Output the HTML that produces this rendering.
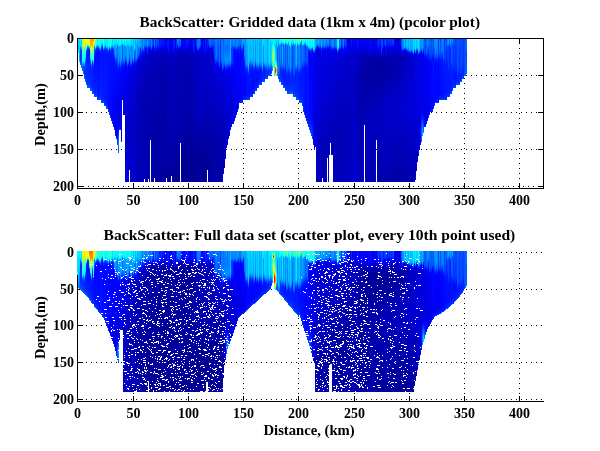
<!DOCTYPE html><html><head><meta charset="utf-8"><title>BackScatter</title><style>html,body{margin:0;padding:0;background:#fff}#c{position:relative;width:600px;height:451px;overflow:hidden;background:#fff}#c svg{position:absolute;left:0;top:0;display:block}.p{position:absolute;display:flex;align-items:flex-start}.p i{display:block;flex:none;width:1px}text{font-family:"Liberation Serif","DejaVu Serif",serif;font-weight:bold;fill:#000}</style></head><body><div id="c">
<svg width="600" height="451" viewBox="0 0 600 451"><g stroke="#000" stroke-width="1" stroke-dasharray="1 4" shape-rendering="crispEdges"><line x1="81" y1="75.5" x2="543" y2="75.5"/><line x1="81" y1="112.5" x2="543" y2="112.5"/><line x1="81" y1="149.5" x2="543" y2="149.5"/><line x1="78" y1="186.5" x2="543" y2="186.5"/><line x1="133.5" y1="43" x2="133.5" y2="188"/><line x1="188.5" y1="43" x2="188.5" y2="188"/><line x1="243.5" y1="43" x2="243.5" y2="188"/><line x1="298.5" y1="43" x2="298.5" y2="188"/><line x1="354.5" y1="43" x2="354.5" y2="188"/><line x1="409.5" y1="43" x2="409.5" y2="188"/><line x1="464.5" y1="43" x2="464.5" y2="188"/><line x1="519.5" y1="43" x2="519.5" y2="188"/><line x1="81" y1="252.5" x2="543" y2="252.5"/><line x1="81" y1="289.5" x2="543" y2="289.5"/><line x1="81" y1="325.5" x2="543" y2="325.5"/><line x1="81" y1="362.5" x2="543" y2="362.5"/><line x1="81" y1="399.5" x2="543" y2="399.5"/><line x1="133.5" y1="253" x2="133.5" y2="401"/><line x1="188.5" y1="253" x2="188.5" y2="401"/><line x1="243.5" y1="253" x2="243.5" y2="401"/><line x1="298.5" y1="253" x2="298.5" y2="401"/><line x1="354.5" y1="253" x2="354.5" y2="401"/><line x1="409.5" y1="253" x2="409.5" y2="401"/><line x1="464.5" y1="253" x2="464.5" y2="401"/><line x1="519.5" y1="253" x2="519.5" y2="401"/></g><g stroke="#000" stroke-width="1" shape-rendering="crispEdges"><path d="M77.5 38.5H543.5V188.5H77.5Z" fill="none"/><path d="M78 75.5h5M543 75.5h-5"/><path d="M78 112.5h5M543 112.5h-5"/><path d="M78 149.5h5M543 149.5h-5"/><path d="M78 186.5h5M543 186.5h-5"/><path d="M133.5 188v-5M133.5 39v4"/><path d="M188.5 188v-5M188.5 39v4"/><path d="M243.5 188v-5M243.5 39v4"/><path d="M298.5 188v-5M298.5 39v4"/><path d="M354.5 188v-5M354.5 39v4"/><path d="M409.5 188v-5M409.5 39v4"/><path d="M464.5 188v-5M464.5 39v4"/><path d="M519.5 188v-5M519.5 39v4"/><path d="M77.5 252V401.5H544" fill="none"/><path d="M78 289.5h5"/><path d="M78 325.5h5"/><path d="M78 362.5h5"/><path d="M78 399.5h5"/><path d="M133.5 401v-5"/><path d="M188.5 401v-5"/><path d="M243.5 401v-5"/><path d="M298.5 401v-5"/><path d="M354.5 401v-5"/><path d="M409.5 401v-5"/><path d="M464.5 401v-5"/><path d="M519.5 401v-5"/></g></svg>
<div class="p" style="left:78px;top:39px"><i style="height:14px;background:linear-gradient(#0df 0.5px,#00d8ff 6.5px,#00d7ff 10.5px,#00f5ff 13.5px)"></i><i style="height:23px;background:linear-gradient(#00dbff 0.5px,#00a7ff 18.5px,#00bdff 22.5px)"></i><i style="height:26px;background:linear-gradient(#00f3ff 0.5px,#00e5ff 5.5px,#00d2ff 6.5px,#0051ff 9.5px,#0030ff 11.5px,#0036ff 20.5px,#0057ff 24.5px,#0068ff 25.5px)"></i><i style="height:29px;background:linear-gradient(#00d5ff 0.5px,#00cbff 7.5px,#00a2ff 9.5px,#0057ff 11.5px,#0038ff 13.5px,#0041ff 23.5px,#0061ff 27.5px,#0073ff 28.5px)"></i><i style="height:32px;background:linear-gradient(#e6ff19 0.5px,#c7ff38 2.5px,#c1ff3e 6.5px,#b7ff48 7.5px,#9eff61 8.5px,#35ffca 10.5px,#29ffd6 12.5px,#1cffe3 20.5px,#0ff 22.5px,#007fff 26.5px,#005dff 28.5px,#0061ff 30.5px,#006fff 31.5px)"></i><i style="height:35px;background:linear-gradient(#e6ff19 0.5px,#d0ff2f 5.5px,#bf4 6.5px,#8bff74 7.5px,#08fff7 17.5px,#00fbff 20.5px,#00dfff 22.5px,#0054ff 27.5px,#0043ff 30.5px,#005aff 33.5px,#006bff 34.5px)"></i><i style="height:40px;background:linear-gradient(#fffc00 0.5px,#f7ff08 5.5px,#e5ff1a 6.5px,#bcff43 7.5px,#7eff81 8.5px,#14ffeb 16.5px,#04fffb 21.5px,#00e0ff 23.5px,#005bff 27.5px,#0031ff 30.5px,#0037ff 35.5px,#0063ff 39.5px)"></i><i style="height:43px;background:linear-gradient(#e5ff1a 0.5px,#c0ff3f 4.5px,#7dff82 6.5px,#20ffdf 11.5px,#06fff9 12.5px,#00f8ff 16.5px,#00daff 18.5px,#005dff 22.5px,#0030ff 25.5px,#002dff 34.5px,#004aff 40.5px,#0067ff 42.5px)"></i><i style="height:46px;background:linear-gradient(#e9ff16 0.5px,#e4ff1b 5.5px,#c5ff3a 7.5px,#92ff6d 8.5px,#36ffc9 9.5px,#00c4ff 10.5px,#006bff 11.5px,#003cff 12.5px,#001fff 14.5px,#002fff 39.5px,#0053ff 44.5px,#0064ff 45.5px)"></i><i style="height:49px;background:linear-gradient(#f6ff09 0.5px,#e6ff19 3.5px,#cbff34 4.5px,#8fff70 5.5px,#29ffd6 6.5px,#00b3ff 7.5px,#005eff 8.5px,#03f 9.5px,#001aff 11.5px,#002dff 42.5px,#04f 46.5px,#0061ff 48.5px)"></i><i style="height:49px;background:linear-gradient(#ebff14 0.5px,#dfff20 3.5px,#c9ff36 4.5px,#98ff67 5.5px,#3effc1 6.5px,#00c8ff 7.5px,#006aff 8.5px,#0036ff 9.5px,#0017ff 11.5px,#0029ff 42.5px,#004dff 47.5px,#005eff 48.5px)"></i><i style="height:49px;background:linear-gradient(#fe0 0.5px,#fffc00 4.5px,#ebff14 5.5px,#b7ff48 6.5px,#56ffa9 7.5px,#00d9ff 8.5px,#0074ff 9.5px,#003cff 10.5px,#001aff 12.5px,#002bff 42.5px,#004fff 47.5px,#0060ff 48.5px)"></i><i style="height:52px;background:linear-gradient(#ff9e00 0.5px,#ffac00 2.5px,#ffb600 7.5px,#ffc700 8.5px,#fe0 9.5px,#bf4 10.5px,#6aff95 11.5px,#21ffde 14.5px,#07fff8 17.5px,#00f0ff 18.5px,#005bff 22.5px,#002fff 24.5px,#001bff 29.5px,#002cff 46.5px,#004cff 50.5px,#005dff 51.5px)"></i><i style="height:52px;background:linear-gradient(#ff9e00 0.5px,#ffb200 2.5px,#ffba00 5.5px,#ffc800 6.5px,#ffec00 7.5px,#dcff23 8.5px,#4affb5 17.5px,#3bffc4 20.5px,#17ffe8 22.5px,#00f4ff 23.5px,#006cff 26.5px,#0035ff 28.5px,#001bff 32.5px,#0028ff 46.5px,#0048ff 50.5px,#0059ff 51.5px)"></i><i style="height:55px;background:linear-gradient(#ff9e00 0.5px,#ffa600 6.5px,#ffb300 7.5px,#ffd400 8.5px,#e2ff1d 9.5px,#baff45 10.5px,#2fffd0 18.5px,#15ffea 19.5px,#00ebff 20.5px,#00a9ff 21.5px,#004bff 22.5px,#001eff 23.5px,#0030ff 49.5px,#004fff 53.5px,#005fff 54.5px)"></i><i style="height:55px;background:linear-gradient(#ff9e00 0.5px,#fff700 4.5px,#81ff7e 10.5px,#51ffae 12.5px,#3fffc0 18.5px,#24ffdb 20.5px,#08fff7 21.5px,#00e1ff 22.5px,#0058ff 25.5px,#0027ff 27.5px,#0012ff 31.5px,#0020ff 49.5px,#003eff 53.5px,#004eff 54.5px)"></i><i style="height:58px;background:linear-gradient(#c3ff3c 0.5px,#b7ff48 3.5px,#a3ff5c 4.5px,#75ff8a 5.5px,#1fffe0 6.5px,#00b1ff 7.5px,#0070ff 8.5px,#005dff 13.5px,#001bff 18.5px,#000dff 24.5px,#0020ff 52.5px,#003dff 56.5px,#004eff 57.5px)"></i><i style="height:58px;background:linear-gradient(#b1ff4e 0.5px,#80ff7f 2.5px,#68ff97 6.5px,#4cffb3 7.5px,#1fe 8.5px,#00b8ff 9.5px,#0063ff 10.5px,#002eff 11.5px,#0015ff 12.5px,#0007ff 16.5px,#001dff 52.5px,#003aff 56.5px,#004aff 57.5px)"></i><i style="height:58px;background:linear-gradient(#3dffc2 0.5px,#32ffcd 4.5px,#00f7ff 6.5px,#006bff 8.5px,#0036ff 9.5px,#001cff 10.5px,#000cff 14.5px,#02f 52.5px,#0040ff 56.5px,#0050ff 57.5px)"></i><i style="height:61px;background:linear-gradient(#2fd 0.5px,#19ffe6 3.5px,#0bfff4 4.5px,#00e9ff 5.5px,#0035ff 8.5px,#0019ff 9.5px,#0008ff 12.5px,#001dff 55.5px,#0039ff 59.5px,#0049ff 60.5px)"></i><i style="height:61px;background:linear-gradient(#1cffe3 0.5px,#14ffeb 4.5px,#06fff9 5.5px,#00e7ff 6.5px,#0032ff 9.5px,#0016ff 10.5px,#0002ff 15.5px,#0015ff 55.5px,#0031ff 59.5px,#0041ff 60.5px)"></i><i style="height:61px;background:linear-gradient(#0efff1 0.5px,#08fff7 5.5px,#00fdff 6.5px,#00e6ff 7.5px,#00b9ff 8.5px,#0041ff 10.5px,#0020ff 11.5px,#000cff 13.5px,#001bff 55.5px,#0038ff 59.5px,#0048ff 60.5px)"></i><i style="height:61px;background:linear-gradient(#06fff9 0.5px,#00faff 7.5px,#00eaff 8.5px,#00c8ff 9.5px,#0056ff 11.5px,#002fff 12.5px,#0014ff 14.5px,#0021ff 55.5px,#003eff 59.5px,#004eff 60.5px)"></i><i style="height:64px;background:linear-gradient(#05fffa 0.5px,#00fcff 3.5px,#00efff 4.5px,#00d1ff 5.5px,#0038ff 8.5px,#0019ff 10.5px,#0024ff 58.5px,#0040ff 62.5px,#0050ff 63.5px)"></i><i style="height:64px;background:linear-gradient(#00fcff 0.5px,#00e8ff 3.5px,#00cbff 4.5px,#005cff 6.5px,#0030ff 7.5px,#000fff 9.5px,#0019ff 58.5px,#0036ff 62.5px,#0045ff 63.5px)"></i><i style="height:64px;background:linear-gradient(#3fffc0 0.5px,#32ffcd 6.5px,#00f3ff 8.5px,#0067ff 10.5px,#0037ff 11.5px,#001fff 12.5px,#01f 16.5px,#001dff 58.5px,#0039ff 62.5px,#0049ff 63.5px)"></i><i style="height:67px;background:linear-gradient(#00f3ff 0.5px,#00ebff 5.5px,#00dfff 6.5px,#00c4ff 7.5px,#0035ff 10.5px,#0017ff 12.5px,#001cff 61.5px,#0037ff 65.5px,#0047ff 66.5px)"></i><i style="height:67px;background:linear-gradient(#00ecff 0.5px,#00e4ff 4.5px,#00d8ff 5.5px,#00bdff 6.5px,#0030ff 9.5px,#0014ff 11.5px,#0018ff 61.5px,#03f 65.5px,#0043ff 66.5px)"></i><i style="height:70px;background:linear-gradient(#00f4ff 0.5px,#00edff 5.5px,#00e3ff 6.5px,#00caff 7.5px,#003bff 10.5px,#0024ff 11.5px,#0016ff 19.5px,#0018ff 64.5px,#0034ff 68.5px,#04f 69.5px)"></i><i style="height:70px;background:linear-gradient(#00f6ff 0.5px,#00e9ff 6.5px,#00d7ff 7.5px,#00b1ff 8.5px,#0047ff 10.5px,#0028ff 11.5px,#0014ff 13.5px,#0014ff 64.5px,#002fff 68.5px,#003fff 69.5px)"></i><i style="height:73px;background:linear-gradient(#05fffa 0.5px,#00fbff 7.5px,#0ef 8.5px,#00cfff 9.5px,#0060ff 11.5px,#0035ff 12.5px,#0016ff 14.5px,#0010ff 67.5px,#002bff 71.5px,#003bff 72.5px)"></i><i style="height:76px;background:linear-gradient(#2fd 0.5px,#13ffec 5.5px,#00fbff 6.5px,#00cdff 7.5px,#004cff 9.5px,#0026ff 10.5px,#000eff 12.5px,#0002ff 64.5px,#000fff 72.5px,#0031ff 75.5px)"></i><i style="height:79px;background:linear-gradient(#28ffd7 0.5px,#20ffdf 6.5px,#00f5ff 8.5px,#00c0ff 9.5px,#0046ff 11.5px,#0028ff 12.5px,#0015ff 15.5px,#000aff 61.5px,#000eff 74.5px,#0036ff 78.5px)"></i><i style="height:82px;background:linear-gradient(#0afff5 0.5px,#02fffd 4.5px,#00f5ff 5.5px,#00d9ff 6.5px,#0037ff 9.5px,#001dff 11.5px,#000eff 19.5px,#0003ff 77.5px,#002bff 81.5px)"></i><i style="height:85px;background:linear-gradient(#00d1ff 0.5px,#00cbff 4.5px,#0af 6.5px,#002fff 9.5px,#0015ff 11.5px,#0003ff 64.5px,#0005ff 80.5px,#002dff 84.5px)"></i><i style="height:88px;background:linear-gradient(#0dfff2 0.5px,#00f8ff 6.5px,#0df 7.5px,#0038ff 10.5px,#0027ff 12.5px,#000cff 21.5px,#0000f7 67.5px,#0000f6 82.5px,#0008ff 85.5px,#0023ff 87.5px)"></i><i style="height:91px;background:linear-gradient(#00e7ff 0.5px,#00d9ff 4.5px,#00c5ff 5.5px,#009dff 6.5px,#0081ff 13.5px,#0029ff 18.5px,#0012ff 22.5px,#0000f7 71.5px,#0000f8 85.5px,#000aff 88.5px,#0025ff 90.5px)"></i><i style="height:97px;background:linear-gradient(#00f6ff 0.5px,#00efff 3.5px,#00e3ff 4.5px,#00a9ff 6.5px,#009dff 16.5px,#0071ff 19.5px,#001fff 23.5px,#000bff 28.5px,#0000f5 66.5px,#0000ec 90.5px,#0001ff 94.5px,#001dff 96.5px)"></i><i style="height:100px;background:linear-gradient(#00e8ff 0.5px,#00deff 6.5px,#00d0ff 7.5px,#00b2ff 8.5px,#0080ff 9.5px,#0072ff 16.5px,#0014ff 23.5px,#0005ff 41.5px,#0000e9 91.5px,#0006ff 97.5px,#0021ff 99.5px)"></i><i style="height:106px;background:linear-gradient(#06fff9 0.5px,#00f5ff 3.5px,#00dcff 4.5px,#0075ff 6.5px,#006eff 19.5px,#0053ff 22.5px,#0018ff 26.5px,#0006ff 33.5px,#0000f1 65.5px,#0000ea 87.5px,#0008ff 95.5px,#04f 105.5px)"></i><i style="height:114px;background:linear-gradient(#00efff 0.5px,#00e5ff 5.5px,#00d6ff 6.5px,#0094ff 8.5px,#008cff 22.5px,#006cff 25.5px,#001fff 29.5px,#0008ff 33.5px,#0000f0 66.5px,#00e 85.5px,#0009ff 90.5px,#007cff 101.5px,#007cff 105.5px,#0048ff 112.5px,#0049ff 113.5px)"></i><i style="height:91px;background:linear-gradient(#0bfff4 0.5px,#00f8ff 5.5px,#00deff 6.5px,#00adff 7.5px,#0097ff 8.5px,#0090ff 18.5px,#0072ff 21.5px,#0021ff 25.5px,#0006ff 29.5px,#0000e9 82.5px,#0006ff 87.5px,#0034ff 90.5px)"></i><i style="height:91px;background:linear-gradient(#03fffc 0.5px,#00fbff 4.5px,#00f0ff 5.5px,#00d6ff 6.5px,#00a7ff 7.5px,#009eff 11.5px,#0092ff 22.5px,#006aff 25.5px,#001cff 29.5px,#0006ff 35.5px,#0000eb 73.5px,#0000f3 85.5px,#000aff 88.5px,#0028ff 90.5px)"></i><i style="height:103px;background:linear-gradient(#00f1ff 0.5px,#00eaff 3.5px,#0df 4.5px,#00b3ff 6.5px,#0af 18.5px,#0085ff 21.5px,#001fff 25.5px,#0001ff 28.5px,#0000d9 90.5px,#0000f2 99.5px,#0006ff 101.5px,#0016ff 102.5px)"></i><i style="height:61px;background:linear-gradient(#00f5ff 0.5px,#00e4ff 3.5px,#00caff 4.5px,#005dff 6.5px,#0052ff 21.5px,#0002ff 28.5px,#0000e4 60.5px)"></i><i style="height:76px;background:linear-gradient(#07fff8 0.5px,#00fcff 4.5px,#00ecff 5.5px,#00caff 6.5px,#0096ff 7.5px,#008fff 18.5px,#0071ff 21.5px,#001eff 25.5px,#0003ff 29.5px,#0000e2 75.5px)"></i><i style="height:76px;background:linear-gradient(#00e9ff 0.5px,#00d9ff 4.5px,#00c2ff 5.5px,#0096ff 6.5px,#0081ff 20.5px,#0054ff 23.5px,#0016ff 26.5px,#0000fd 29.5px,#0000da 75.5px)"></i><i style="height:143px;background:linear-gradient(#03fffc 0.5px,#00faff 4.5px,#00edff 5.5px,#00d0ff 6.5px,#009aff 7.5px,#08f 16.5px,#005aff 19.5px,#0004ff 23.5px,#0000eb 30.5px,#0000c7 100.5px,#0000d4 142.5px)"></i><i style="height:143px;background:linear-gradient(#00ebff 0.5px,#00e2ff 5.5px,#00d3ff 6.5px,#0098ff 8.5px,#008eff 17.5px,#0067ff 20.5px,#000eff 24.5px,#0000f7 27.5px,#0000cf 95.5px,#0000dc 142.5px)"></i><i style="height:143px;background:linear-gradient(#00edff 0.5px,#00e4ff 4.5px,#00d7ff 5.5px,#00b8ff 6.5px,#00aeff 9.5px,#00a2ff 21.5px,#0074ff 24.5px,#000dff 28.5px,#0000f7 30.5px,#0000df 54.5px,#00c 102.5px,#0000d8 142.5px)"></i><i style="height:143px;background:linear-gradient(#00f4ff 0.5px,#00e7ff 4.5px,#00d4ff 5.5px,#00adff 6.5px,#00a2ff 8.5px,#009aff 19.5px,#0079ff 22.5px,#000fff 26.5px,#0000fc 27.5px,#0000e2 31.5px,#0000c0 94.5px,#00c 142.5px)"></i><i style="height:131px;background:linear-gradient(#00fbff 0.5px,#00f4ff 5.5px,#00d3ff 7.5px,#00a4ff 8.5px,#0093ff 9.5px,#0086ff 15.5px,#0059ff 18.5px,#00f 22.5px,#0000e7 27.5px,#0000c5 96.5px,#0000ce 130.5px)"></i><i style="height:143px;background:linear-gradient(#00e6ff 0.5px,#00dfff 4.5px,#00d5ff 5.5px,#0096ff 7.5px,#008cff 20.5px,#0062ff 23.5px,#0003ff 27.5px,#0000e4 32.5px,#0000c5 95.5px,#0000d1 142.5px)"></i><i style="height:143px;background:linear-gradient(#00d8ff 0.5px,#00d1ff 4.5px,#00c6ff 5.5px,#0097ff 7.5px,#008eff 20.5px,#006aff 23.5px,#0009ff 27.5px,#0000e8 31.5px,#0000c7 91.5px,#0000d3 142.5px)"></i><i style="height:143px;background:linear-gradient(#00e2ff 0.5px,#00daff 5.5px,#00cdff 6.5px,#0091ff 8.5px,#0087ff 17.5px,#005fff 20.5px,#0004ff 24.5px,#0000e6 29.5px,#0000c7 92.5px,#0000d3 142.5px)"></i><i style="height:143px;background:linear-gradient(#00b6ff 0.5px,#00b0ff 17.5px,#0096ff 20.5px,#04f 23.5px,#000bff 25.5px,#00e 27.5px,#0000da 37.5px,#0000c3 94.5px,#0000ce 142.5px)"></i><i style="height:143px;background:linear-gradient(#00ecff 0.5px,#00e4ff 8.5px,#00d8ff 9.5px,#0bf 10.5px,#0087ff 11.5px,#0063ff 12.5px,#0050ff 18.5px,#0000fc 23.5px,#0000e2 28.5px,#0000c5 90.5px,#0000cf 142.5px)"></i><i style="height:143px;background:linear-gradient(#00acff 0.5px,#00a2ff 8.5px,#0093ff 9.5px,#0073ff 10.5px,#0063ff 19.5px,#0036ff 22.5px,#0009ff 24.5px,#0000de 28.5px,#0000be 84.5px,#0000c8 142.5px)"></i><i style="height:143px;background:linear-gradient(#00d3ff 0.5px,#0cf 4.5px,#00aeff 6.5px,#00a6ff 16.5px,#0082ff 19.5px,#000aff 23.5px,#00d 26.5px,#0000c6 49.5px,#0000ba 99.5px,#0000c2 142.5px)"></i><i style="height:143px;background:linear-gradient(#00afff 0.5px,#00a8ff 4.5px,#0086ff 6.5px,#007dff 14.5px,#005aff 17.5px,#000cff 20.5px,#0000e6 22.5px,#0000ce 28.5px,#0000b5 89.5px,#0000be 142.5px)"></i><i style="height:143px;background:linear-gradient(#00bfff 0.5px,#00b5ff 6.5px,#00a6ff 7.5px,#0085ff 8.5px,#0079ff 10.5px,#0067ff 15.5px,#0030ff 18.5px,#00f 20.5px,#0000db 23.5px,#0000c0 54.5px,#00b 110.5px,#0000c0 142.5px)"></i><i style="height:143px;background:linear-gradient(#00acff 0.5px,#00a7ff 6.5px,#0078ff 9.5px,#0063ff 13.5px,#0007ff 17.5px,#0000d4 20.5px,#0000c0 30.5px,#0000ab 91.5px,#0000b3 142.5px)"></i><i style="height:143px;background:linear-gradient(#00aeff 0.5px,#00a3ff 6.5px,#0091ff 7.5px,#006eff 8.5px,#003aff 9.5px,#0019ff 10.5px,#0005ff 16.5px,#0000d2 22.5px,#0000b4 80.5px,#00b 142.5px)"></i><i style="height:143px;background:linear-gradient(#0092ff 0.5px,#008dff 8.5px,#0058ff 12.5px,#0006ff 15.5px,#0000d4 18.5px,#0000c1 27.5px,#0000ac 88.5px,#0000b2 142.5px)"></i><i style="height:143px;background:linear-gradient(#0070ff 0.5px,#006bff 7.5px,#0051ff 9.5px,#001dff 11.5px,#0000fc 15.5px,#0000cd 20.5px,#0000af 73.5px,#0000b4 142.5px)"></i><i style="height:143px;background:linear-gradient(#009eff 0.5px,#0094ff 8.5px,#0085ff 9.5px,#06f 10.5px,#0037ff 11.5px,#0018ff 12.5px,#0002ff 14.5px,#0000d1 19.5px,#0000b3 69.5px,#0000b7 142.5px)"></i><i style="height:140px;background:linear-gradient(#0084ff 0.5px,#07f 6.5px,#0046ff 8.5px,#0021ff 11.5px,#0000f9 13.5px,#0000d8 16.5px,#0000be 45.5px,#0000b9 106.5px,#0000ba 139.5px)"></i><i style="height:143px;background:linear-gradient(#007cff 0.5px,#0073ff 5.5px,#06f 6.5px,#004aff 7.5px,#001fff 8.5px,#0004ff 9.5px,#0000c7 16.5px,#0000a9 64.5px,#0000ab 142.5px)"></i><i style="height:143px;background:linear-gradient(#0075ff 0.5px,#006aff 5.5px,#0028ff 8.5px,#0000f9 13.5px,#00c 17.5px,#0000b4 43.5px,#0000b1 112.5px,#0000ae 142.5px)"></i><i style="height:143px;background:linear-gradient(#00a6ff 0.5px,#009aff 6.5px,#0089ff 7.5px,#0038ff 9.5px,#001eff 13.5px,#0000fc 15.5px,#00c 19.5px,#0000b5 45.5px,#0000b0 142.5px)"></i><i style="height:140px;background:linear-gradient(#006bff 0.5px,#005fff 5.5px,#004eff 6.5px,#0006ff 8.5px,#0000cb 13.5px,#0000b0 47.5px,#0000ac 139.5px)"></i><i style="height:143px;background:linear-gradient(#0078ff 0.5px,#0072ff 5.5px,#0052ff 7.5px,#0003ff 9.5px,#0000d7 12.5px,#0000c2 21.5px,#0000b1 82.5px,#0000af 142.5px)"></i><i style="height:101px;background:linear-gradient(#0053ff 0.5px,#0048ff 6.5px,#0003ff 9.5px,#0000c4 13.5px,#0000af 28.5px,#0000a5 90.5px,#0000a6 100.5px)"></i><i style="height:143px;background:linear-gradient(#0084ff 0.5px,#007cff 7.5px,#0056ff 9.5px,#0000fe 11.5px,#0000df 12.5px,#0000c4 15.5px,#0000ad 66.5px,#00a 142.5px)"></i><i style="height:143px;background:linear-gradient(#0053ff 0.5px,#0048ff 6.5px,#001dff 8.5px,#00f 9.5px,#00c 13.5px,#0000b3 37.5px,#0000a9 142.5px)"></i><i style="height:143px;background:linear-gradient(#0024ff 0.5px,#001cff 5.5px,#0000fc 7.5px,#0000d4 9.5px,#0000b9 23.5px,#0000af 89.5px,#0000a7 142.5px)"></i><i style="height:139px;background:linear-gradient(#008aff 0.5px,#0084ff 5.5px,#06f 7.5px,#0021ff 9.5px,#0006ff 11.5px,#0000ce 15.5px,#0000b9 29.5px,#0000ac 138.5px)"></i><i style="height:143px;background:linear-gradient(#0036ff 0.5px,#002bff 7.5px,#0006ff 9.5px,#0000c3 13.5px,#0000af 29.5px,#00009f 142.5px)"></i><i style="height:143px;background:linear-gradient(#005dff 0.5px,#0052ff 7.5px,#0025ff 9.5px,#00f 10.5px,#0000cf 12.5px,#0000bd 19.5px,#0000b1 78.5px,#0000a6 142.5px)"></i><i style="height:143px;background:linear-gradient(#0047ff 0.5px,#003eff 5.5px,#0017ff 7.5px,#0000f5 8.5px,#0000d3 10.5px,#0000b9 15.5px,#0000a8 61.5px,#0000a2 132.5px,#00009d 142.5px)"></i><i style="height:143px;background:linear-gradient(#003bff 0.5px,#0031ff 7.5px,#0009ff 9.5px,#0000ce 12.5px,#0000b8 20.5px,#0000af 82.5px,#0000a1 142.5px)"></i><i style="height:143px;background:linear-gradient(#001fff 0.5px,#0014ff 8.5px,#0006ff 9.5px,#0000c4 14.5px,#0000b0 25.5px,#0000a1 131.5px,#00009b 142.5px)"></i><i style="height:143px;background:linear-gradient(#001dff 0.5px,#0019ff 6.5px,#0000f5 9.5px,#0000c8 12.5px,#0000b3 26.5px,#0000a7 126.5px,#00009f 142.5px)"></i><i style="height:143px;background:linear-gradient(#0028ff 0.5px,#0020ff 6.5px,#00f 8.5px,#0000e7 9.5px,#0000be 15.5px,#0000af 52.5px,#0000a8 121.5px,#00009e 142.5px)"></i><i style="height:143px;background:linear-gradient(#001aff 0.5px,#0009ff 6.5px,#0000e5 8.5px,#0000bc 11.5px,#0000a7 35.5px,#0000a0 118.5px,#000094 142.5px)"></i><i style="height:143px;background:linear-gradient(#0017ff 0.5px,#000dff 9.5px,#0000f9 11.5px,#0000c4 15.5px,#0000b0 25.5px,#0000a5 118.5px,#009 142.5px)"></i><i style="height:143px;background:linear-gradient(#0015ff 0.5px,#0000fa 5.5px,#0000c3 10.5px,#0000ae 30.5px,#0000a7 115.5px,#009 142.5px)"></i><i style="height:143px;background:linear-gradient(#0002ff 0.5px,#0000f7 7.5px,#0000be 13.5px,#0000ad 38.5px,#0000a7 114.5px,#000097 142.5px)"></i><i style="height:139px;background:linear-gradient(#0000fa 0.5px,#0000ef 8.5px,#0000bd 13.5px,#0000ab 35.5px,#0000a6 111.5px,#000097 138.5px)"></i><i style="height:143px;background:linear-gradient(#001bff 0.5px,#0013ff 6.5px,#00f 9.5px,#0000c3 16.5px,#0000b8 49.5px,#0000b0 112.5px,#00009f 142.5px)"></i><i style="height:143px;background:linear-gradient(#0019ff 0.5px,#000dff 11.5px,#0000f7 13.5px,#0000c4 17.5px,#0000b3 27.5px,#0000ab 110.5px,#000098 142.5px)"></i><i style="height:143px;background:linear-gradient(#0000f7 0.5px,#0000e7 8.5px,#0000c3 14.5px,#0000ba 52.5px,#0000b0 112.5px,#00009e 142.5px)"></i><i style="height:143px;background:linear-gradient(#0000fc 0.5px,#0000f5 8.5px,#0000be 14.5px,#0000b1 42.5px,#0000ab 107.5px,#000095 142.5px)"></i><i style="height:137px;background:linear-gradient(#0000e1 0.5px,#0000d7 8.5px,#0000b9 13.5px,#0000b2 55.5px,#0000a5 112.5px,#000096 136.5px)"></i><i style="height:143px;background:linear-gradient(#0008ff 0.5px,#0000fd 8.5px,#0000bf 15.5px,#0000b6 45.5px,#0000ad 106.5px,#000097 142.5px)"></i><i style="height:143px;background:linear-gradient(#0019ff 0.5px,#0010ff 9.5px,#0000fb 11.5px,#0000c5 15.5px,#0000b3 22.5px,#0000ac 102.5px,#000094 142.5px)"></i><i style="height:143px;background:linear-gradient(#0024ff 0.5px,#001bff 9.5px,#0000fc 12.5px,#0000cb 16.5px,#0000bd 30.5px,#0000b8 99.5px,#00009d 142.5px)"></i><i style="height:143px;background:linear-gradient(#0000f1 0.5px,#0000e7 7.5px,#0000be 12.5px,#0000b5 45.5px,#0000ac 102.5px,#000094 142.5px)"></i><i style="height:143px;background:linear-gradient(#0032ff 0.5px,#0028ff 8.5px,#0001ff 10.5px,#0000c6 13.5px,#0000b7 27.5px,#0000b3 96.5px,#000095 142.5px)"></i><i style="height:143px;background:linear-gradient(#007eff 0.5px,#006fff 4.5px,#005aff 5.5px,#0004ff 7.5px,#0000e6 8.5px,#0000b7 17.5px,#0000ab 98.5px,#000094 142.5px)"></i><i style="height:143px;background:linear-gradient(#0078ff 0.5px,#0072ff 5.5px,#0052ff 7.5px,#0000fb 9.5px,#0000d7 10.5px,#0000b7 16.5px,#0000ab 97.5px,#000094 141.5px,#000094 142.5px)"></i><i style="height:143px;background:linear-gradient(#0060ff 0.5px,#05f 6.5px,#0027ff 8.5px,#0000fe 9.5px,#0000c9 11.5px,#0000b7 16.5px,#0000ae 94.5px,#000094 140.5px,#000094 142.5px)"></i><i style="height:104px;background:linear-gradient(#0068ff 0.5px,#0062ff 4.5px,#0040ff 6.5px,#0000fc 8.5px,#0000c8 11.5px,#0000b6 20.5px,#0000b1 90.5px,#0000a8 103.5px)"></i><i style="height:143px;background:linear-gradient(#000fff 0.5px,#0004ff 6.5px,#0000c5 10.5px,#0000b7 24.5px,#0000b2 89.5px,#000094 140.5px,#000094 142.5px)"></i><i style="height:143px;background:linear-gradient(#0000fb 0.5px,#0000f1 7.5px,#0000b7 14.5px,#0000a9 93.5px,#000094 130.5px,#000094 142.5px)"></i><i style="height:143px;background:linear-gradient(#0008ff 0.5px,#0000fa 8.5px,#0000b7 14.5px,#0000ad 34.5px,#0000a8 86.5px,#000094 126.5px,#000094 142.5px)"></i><i style="height:143px;background:linear-gradient(#0000fe 0.5px,#0000f3 8.5px,#0000b5 14.5px,#0000a9 28.5px,#0000a6 83.5px,#000094 122.5px,#000094 142.5px)"></i><i style="height:143px;background:linear-gradient(#001bff 0.5px,#01f 8.5px,#0000f8 10.5px,#0000bd 14.5px,#0000ad 22.5px,#0000a9 82.5px,#000094 122.5px,#000094 142.5px)"></i><i style="height:143px;background:linear-gradient(#0013ff 0.5px,#0000f9 9.5px,#0000b9 15.5px,#0000b0 33.5px,#00a 84.5px,#000094 123.5px,#000094 142.5px)"></i><i style="height:143px;background:linear-gradient(#0020ff 0.5px,#0015ff 7.5px,#0000f9 9.5px,#0000be 13.5px,#0000b0 22.5px,#0000ad 78.5px,#000094 122.5px,#000094 142.5px)"></i><i style="height:143px;background:linear-gradient(#0016ff 0.5px,#0008ff 5.5px,#0000e8 7.5px,#0000be 10.5px,#0000af 19.5px,#0000ac 78.5px,#000094 120.5px,#000094 142.5px)"></i><i style="height:143px;background:linear-gradient(#0004ff 0.5px,#0000f7 8.5px,#0000b8 14.5px,#0000b0 34.5px,#0000a9 80.5px,#000094 119.5px,#000094 142.5px)"></i><i style="height:143px;background:linear-gradient(#0000da 0.5px,#0000d1 10.5px,#0000b5 17.5px,#0000b1 74.5px,#000094 121.5px,#000094 142.5px)"></i><i style="height:143px;background:linear-gradient(#0008ff 0.5px,#0000fd 6.5px,#0000c0 11.5px,#0000ba 35.5px,#0000ae 83.5px,#000094 124.5px,#000094 142.5px)"></i><i style="height:143px;background:linear-gradient(#0003ff 0.5px,#0000f3 7.5px,#0000be 12.5px,#0000ae 80.5px,#000094 121.5px,#000094 142.5px)"></i><i style="height:143px;background:linear-gradient(#002cff 0.5px,#02f 9.5px,#0000fd 12.5px,#0000c5 16.5px,#0000b9 25.5px,#0000b4 73.5px,#000094 122.5px,#000094 142.5px)"></i><i style="height:143px;background:linear-gradient(#000eff 0.5px,#0007ff 10.5px,#0000eb 13.5px,#0000c2 17.5px,#00b 34.5px,#0000b0 78.5px,#000094 121.5px,#000094 142.5px)"></i><i style="height:143px;background:linear-gradient(#0000e8 0.5px,#00d 7.5px,#0000c0 14.5px,#00b 70.5px,#000094 127.5px,#000094 142.5px)"></i><i style="height:143px;background:linear-gradient(#0042ff 0.5px,#003bff 5.5px,#001eff 7.5px,#0000fe 8.5px,#0000cf 10.5px,#0000bc 14.5px,#0000b8 68.5px,#000094 122.5px,#000094 142.5px)"></i><i style="height:143px;background:linear-gradient(#006bff 0.5px,#0067ff 7.5px,#004eff 9.5px,#0007ff 11.5px,#0000d2 13.5px,#0000c1 17.5px,#0000bd 67.5px,#000094 127.5px,#000094 142.5px)"></i><i style="height:143px;background:linear-gradient(#007cff 0.5px,#07f 7.5px,#005eff 9.5px,#000fff 11.5px,#0000e9 12.5px,#0000ca 14.5px,#00b 73.5px,#000094 130.5px,#000095 142.5px)"></i><i style="height:143px;background:linear-gradient(#0074ff 0.5px,#006bff 6.5px,#0041ff 8.5px,#0019ff 9.5px,#0000f1 10.5px,#0000cf 12.5px,#0000c8 29.5px,#0000bf 70.5px,#000096 130.5px,#000098 142.5px)"></i><i style="height:143px;background:linear-gradient(#0054ff 0.5px,#004dff 5.5px,#002dff 7.5px,#000dff 8.5px,#0000f2 11.5px,#0000ce 16.5px,#0000c4 68.5px,#00009a 128.5px,#00009c 142.5px)"></i><i style="height:143px;background:linear-gradient(#0007ff 0.5px,#0000f8 7.5px,#00c 12.5px,#0000c2 67.5px,#000098 128.5px,#00009a 142.5px)"></i><i style="height:143px;background:linear-gradient(#0000fc 0.5px,#0000f1 6.5px,#0000cd 10.5px,#0000c2 67.5px,#000098 127.5px,#00009b 142.5px)"></i><i style="height:143px;background:linear-gradient(#01f 0.5px,#0009ff 11.5px,#0000ec 14.5px,#0000c8 18.5px,#0000b4 73.5px,#000094 121.5px,#000094 142.5px)"></i><i style="height:143px;background:linear-gradient(#0000f7 0.5px,#0000eb 7.5px,#0000cb 13.5px,#0000c3 64.5px,#000098 125.5px,#00009c 142.5px)"></i><i style="height:143px;background:linear-gradient(#002aff 0.5px,#0024ff 9.5px,#0000f7 13.5px,#0000d6 17.5px,#0000c5 68.5px,#00009e 126.5px,#0000a3 142.5px)"></i><i style="height:143px;background:linear-gradient(#000fff 0.5px,#0006ff 6.5px,#0000e9 8.5px,#0000c8 11.5px,#0000ba 65.5px,#000094 122.5px,#000097 142.5px)"></i><i style="height:131px;background:linear-gradient(#0024ff 0.5px,#001cff 7.5px,#0000fb 11.5px,#0000ce 15.5px,#0000c6 31.5px,#0000b2 74.5px,#000094 122.5px,#000094 130.5px)"></i><i style="height:143px;background:linear-gradient(#04f 0.5px,#03f 4.5px,#0000fb 7.5px,#0000d3 10.5px,#0000c9 22.5px,#0000be 64.5px,#000096 124.5px,#00009c 142.5px)"></i><i style="height:143px;background:linear-gradient(#0064ff 0.5px,#005eff 5.5px,#04f 7.5px,#0009ff 9.5px,#0000d8 12.5px,#0000d1 39.5px,#00009d 125.5px,#0000a4 142.5px)"></i><i style="height:143px;background:linear-gradient(#006bff 0.5px,#0062ff 5.5px,#003cff 7.5px,#0000f5 9.5px,#0000d8 11.5px,#0000d1 31.5px,#00b 73.5px,#00009d 124.5px,#0000a4 142.5px)"></i><i style="height:143px;background:linear-gradient(#005dff 0.5px,#0056ff 5.5px,#0036ff 7.5px,#0000f3 9.5px,#0000d0 15.5px,#0000bf 65.5px,#00009a 122.5px,#0000a2 142.5px)"></i><i style="height:143px;background:linear-gradient(#005fff 0.5px,#0058ff 4.5px,#0037ff 6.5px,#0000f5 9.5px,#0000d6 12.5px,#0000c0 66.5px,#00009d 121.5px,#0000a5 142.5px)"></i><i style="height:143px;background:linear-gradient(#0059ff 0.5px,#004eff 4.5px,#0031ff 6.5px,#0025ff 10.5px,#0001ff 13.5px,#0000dc 17.5px,#0000c1 70.5px,#0000a3 121.5px,#0000ab 142.5px)"></i><i style="height:143px;background:linear-gradient(#005eff 0.5px,#0053ff 5.5px,#003eff 7.5px,#03f 18.5px,#0002ff 22.5px,#0000db 26.5px,#0000a2 119.5px,#0000ab 142.5px)"></i><i style="height:143px;background:linear-gradient(#007aff 0.5px,#0070ff 5.5px,#0064ff 7.5px,#005bff 20.5px,#0039ff 23.5px,#0000fe 26.5px,#0000e0 30.5px,#0000a9 119.5px,#0000b3 142.5px)"></i><i style="height:143px;background:linear-gradient(#007dff 0.5px,#0071ff 18.5px,#004cff 21.5px,#0005ff 24.5px,#0000dc 28.5px,#0000a4 117.5px,#0000ae 142.5px)"></i><i style="height:143px;background:linear-gradient(#0065ff 0.5px,#005fff 18.5px,#04f 21.5px,#0006ff 24.5px,#0000db 28.5px,#0000a3 114.5px,#0000ad 142.5px)"></i><i style="height:143px;background:linear-gradient(#0065ff 0.5px,#005fff 5.5px,#04f 7.5px,#003eff 21.5px,#0000fb 26.5px,#0000db 30.5px,#0000a6 113.5px,#0000b0 142.5px)"></i><i style="height:143px;background:linear-gradient(#0072ff 0.5px,#006cff 23.5px,#0047ff 26.5px,#0001ff 29.5px,#00d 32.5px,#0000a5 108.5px,#0000af 142.5px)"></i><i style="height:143px;background:linear-gradient(#004aff 0.5px,#003dff 4.5px,#0035ff 10.5px,#003cff 20.5px,#0012ff 24.5px,#0000f2 26.5px,#0000d6 31.5px,#0000a5 112.5px,#0000b0 142.5px)"></i><i style="height:143px;background:linear-gradient(#0072ff 0.5px,#0072ff 19.5px,#0052ff 22.5px,#00f 26.5px,#0000e0 30.5px,#0000ad 109.5px,#0000b8 142.5px)"></i><i style="height:143px;background:linear-gradient(#007aff 0.5px,#007dff 24.5px,#006aff 27.5px,#0031ff 30.5px,#0004ff 32.5px,#0000e1 36.5px,#0000b2 107.5px,#0000bd 142.5px)"></i><i style="height:135px;background:linear-gradient(#0060ff 0.5px,#006aff 14.5px,#007aff 21.5px,#005eff 26.5px,#0000fe 31.5px,#0000e0 34.5px,#0000ae 103.5px,#0000b5 134.5px)"></i><i style="height:129px;background:linear-gradient(#07f 0.5px,#007bff 14.5px,#0086ff 20.5px,#006aff 23.5px,#0000fe 28.5px,#0000e3 32.5px,#0000b5 105.5px,#0000be 122.5px,#0000d6 126.5px,#0000f4 128.5px)"></i><i style="height:120px;background:linear-gradient(#0085ff 0.5px,#0075ff 8.5px,#008cff 22.5px,#006aff 26.5px,#0000fd 31.5px,#0000e4 35.5px,#0000b9 104.5px,#0000c8 115.5px,#0000f4 119.5px)"></i><i style="height:109px;background:linear-gradient(#0095ff 0.5px,#008cff 4.5px,#0068ff 6.5px,#07f 14.5px,#0092ff 20.5px,#007eff 24.5px,#0049ff 27.5px,#0007ff 30.5px,#0000e7 36.5px,#0000c1 98.5px,#0000d4 105.5px,#0000f9 108.5px)"></i><i style="height:106px;background:linear-gradient(#0065ff 0.5px,#006dff 12.5px,#0094ff 20.5px,#007bff 24.5px,#0000fe 30.5px,#0000e7 35.5px,#0000c2 96.5px,#0000dc 103.5px,#0000f9 105.5px)"></i><i style="height:100px;background:linear-gradient(#008bff 0.5px,#0081ff 6.5px,#007bff 11.5px,#0091ff 21.5px,#0071ff 24.5px,#0012ff 28.5px,#0000f9 30.5px,#0000e7 40.5px,#0000c9 91.5px,#0000e2 97.5px,#0000fe 99.5px)"></i><i style="height:97px;background:linear-gradient(#0075ff 0.5px,#007eff 14.5px,#008bff 21.5px,#0065ff 24.5px,#000dff 28.5px,#0000f7 30.5px,#0000e5 42.5px,#0000ca 88.5px,#0000e3 94.5px,#00f 96.5px)"></i><i style="height:91px;background:linear-gradient(#00b0ff 0.5px,#00abff 20.5px,#008aff 24.5px,#0012ff 29.5px,#0000fa 31.5px,#0000e8 45.5px,#0000d3 83.5px,#0000ea 88.5px,#0007ff 90.5px)"></i><i style="height:88px;background:linear-gradient(#007aff 0.5px,#0073ff 6.5px,#0056ff 8.5px,#0036ff 9.5px,#0030ff 11.5px,#0050ff 19.5px,#0032ff 23.5px,#00f 27.5px,#0000e5 33.5px,#0000cb 80.5px,#0000e1 85.5px,#0000fd 87.5px)"></i><i style="height:85px;background:linear-gradient(#0079ff 0.5px,#0074ff 5.5px,#0059ff 7.5px,#003eff 8.5px,#0032ff 18.5px,#002dff 22.5px,#0000fc 29.5px,#0000dc 77.5px,#0000f3 82.5px,#0000fe 83.5px,#000fff 84.5px)"></i><i style="height:85px;background:linear-gradient(#008bff 0.5px,#007fff 6.5px,#0051ff 8.5px,#0017ff 10.5px,#0008ff 12.5px,#001fff 21.5px,#0000fc 29.5px,#0000df 77.5px,#0000f5 82.5px,#0012ff 84.5px)"></i><i style="height:82px;background:linear-gradient(#0085ff 0.5px,#007cff 5.5px,#0058ff 7.5px,#001bff 9.5px,#0004ff 11.5px,#000dff 22.5px,#0000f6 30.5px,#0000e0 75.5px,#0001ff 80.5px,#01f 81.5px)"></i><i style="height:79px;background:linear-gradient(#0070ff 0.5px,#06f 7.5px,#0014ff 11.5px,#0007ff 15.5px,#0000e7 72.5px,#0008ff 77.5px,#0018ff 78.5px)"></i><i style="height:76px;background:linear-gradient(#0092ff 0.5px,#0089ff 6.5px,#0064ff 8.5px,#0024ff 10.5px,#000aff 12.5px,#0000e8 62.5px,#0000f2 71.5px,#00f 73.5px,#001cff 75.5px)"></i><i style="height:73px;background:linear-gradient(#0081ff 0.5px,#0075ff 6.5px,#004aff 8.5px,#0014ff 10.5px,#0001ff 14.5px,#0000e9 66.5px,#0000fd 70.5px,#001aff 72.5px)"></i><i style="height:70px;background:linear-gradient(#0097ff 0.5px,#008cff 4.5px,#0060ff 6.5px,#0023ff 8.5px,#0005ff 16.5px,#0000f0 63.5px,#0005ff 67.5px,#0020ff 69.5px)"></i><i style="height:64px;background:linear-gradient(#0064ff 0.5px,#005cff 7.5px,#0016ff 11.5px,#0006ff 19.5px,#0000f9 58.5px,#000bff 61.5px,#0027ff 63.5px)"></i><i style="height:64px;background:linear-gradient(#007bff 0.5px,#0070ff 4.5px,#0018ff 8.5px,#0007ff 13.5px,#0000f8 58.5px,#000bff 61.5px,#0026ff 63.5px)"></i><i style="height:64px;background:linear-gradient(#007eff 0.5px,#0072ff 7.5px,#001cff 11.5px,#000bff 15.5px,#0000fd 58.5px,#001bff 62.5px,#002bff 63.5px)"></i><i style="height:64px;background:linear-gradient(#00a8ff 0.5px,#009cff 6.5px,#008cff 7.5px,#0028ff 10.5px,#000fff 12.5px,#0000f7 49.5px,#0006ff 60.5px,#0029ff 63.5px)"></i><i style="height:61px;background:linear-gradient(#00a3ff 0.5px,#0094ff 3.5px,#005dff 5.5px,#0021ff 7.5px,#000dff 11.5px,#0001ff 55.5px,#001dff 59.5px,#002dff 60.5px)"></i><i style="height:61px;background:linear-gradient(#00a4ff 0.5px,#009bff 4.5px,#0087ff 7.5px,#007fff 15.5px,#0061ff 18.5px,#001bff 22.5px,#0005ff 27.5px,#0004ff 56.5px,#002cff 60.5px)"></i><i style="height:61px;background:linear-gradient(#008eff 0.5px,#0086ff 22.5px,#006dff 25.5px,#0017ff 30.5px,#0003ff 36.5px,#0004ff 55.5px,#0021ff 59.5px,#0031ff 60.5px)"></i><i style="height:61px;background:linear-gradient(#00b0ff 0.5px,#00a4ff 9.5px,#009eff 23.5px,#0082ff 26.5px,#001dff 31.5px,#0006ff 36.5px,#0007ff 55.5px,#0023ff 59.5px,#0034ff 60.5px)"></i><i style="height:61px;background:linear-gradient(#00c1ff 0.5px,#0bf 4.5px,#00a6ff 7.5px,#009fff 23.5px,#0080ff 26.5px,#002fff 30.5px,#0014ff 34.5px,#0012ff 55.5px,#002fff 59.5px,#003fff 60.5px)"></i><i style="height:61px;background:linear-gradient(#00c9ff 0.5px,#00c1ff 27.5px,#009fff 30.5px,#0036ff 34.5px,#0013ff 37.5px,#000bff 53.5px,#0021ff 58.5px,#003cff 60.5px)"></i><i style="height:61px;background:linear-gradient(#00c3ff 0.5px,#0bf 20.5px,#0097ff 23.5px,#0032ff 27.5px,#0013ff 30.5px,#0007ff 52.5px,#001eff 58.5px,#003aff 60.5px)"></i><i style="height:58px;background:linear-gradient(#00b9ff 0.5px,#00b3ff 18.5px,#009aff 21.5px,#002fff 26.5px,#0016ff 30.5px,#0013ff 51.5px,#0032ff 56.5px,#0042ff 57.5px)"></i><i style="height:58px;background:linear-gradient(#00d6ff 0.5px,#00c6ff 4.5px,#00b8ff 6.5px,#00aeff 21.5px,#0087ff 24.5px,#002cff 28.5px,#0012ff 32.5px,#0010ff 51.5px,#0024ff 55.5px,#0040ff 57.5px)"></i><i style="height:58px;background:linear-gradient(#00c7ff 0.5px,#00bfff 19.5px,#009cff 22.5px,#0030ff 26.5px,#000cff 29.5px,#0000fe 47.5px,#0010ff 54.5px,#0034ff 57.5px)"></i><i style="height:55px;background:linear-gradient(#0af 0.5px,#00a3ff 22.5px,#008bff 25.5px,#0028ff 30.5px,#01f 34.5px,#0015ff 49.5px,#03f 53.5px,#0043ff 54.5px)"></i><i style="height:55px;background:linear-gradient(#00c9ff 0.5px,#00c2ff 22.5px,#00a1ff 25.5px,#0023ff 30.5px,#0008ff 34.5px,#000dff 49.5px,#002aff 53.5px,#003aff 54.5px)"></i><i style="height:52px;background:linear-gradient(#00b3ff 0.5px,#00acff 3.5px,#009bff 6.5px,#0094ff 19.5px,#0078ff 22.5px,#002cff 26.5px,#0012ff 30.5px,#0012ff 45.5px,#0034ff 50.5px,#04f 51.5px)"></i><i style="height:52px;background:linear-gradient(#00caff 0.5px,#00c2ff 22.5px,#009eff 25.5px,#03f 29.5px,#0010ff 32.5px,#000aff 44.5px,#02f 49.5px,#003eff 51.5px)"></i><i style="height:49px;background:linear-gradient(#00b0ff 0.5px,#0af 21.5px,#0091ff 24.5px,#02f 29.5px,#0008ff 33.5px,#000eff 43.5px,#002cff 47.5px,#003dff 48.5px)"></i><i style="height:49px;background:linear-gradient(#00d9ff 0.5px,#00d3ff 22.5px,#00b7ff 25.5px,#03f 30.5px,#0015ff 33.5px,#0014ff 42.5px,#0035ff 47.5px,#0046ff 48.5px)"></i><i style="height:46px;background:linear-gradient(#009eff 0.5px,#0096ff 21.5px,#0076ff 24.5px,#0024ff 28.5px,#000bff 32.5px,#0015ff 41.5px,#003fff 45.5px)"></i><i style="height:46px;background:linear-gradient(#0cf 0.5px,#00c0ff 3.5px,#00b1ff 4.5px,#00abff 21.5px,#008fff 24.5px,#0025ff 29.5px,#0010ff 33.5px,#001aff 41.5px,#0045ff 45.5px)"></i><i style="height:46px;background:linear-gradient(#00adff 0.5px,#009fff 22.5px,#007bff 25.5px,#002aff 29.5px,#0014ff 33.5px,#001eff 41.5px,#0049ff 45.5px)"></i><i style="height:43px;background:linear-gradient(#00d5ff 0.5px,#0cf 25.5px,#00a9ff 28.5px,#003eff 32.5px,#0020ff 35.5px,#0028ff 39.5px,#004cff 42.5px)"></i><i style="height:43px;background:linear-gradient(#00e5ff 0.5px,#00dbff 4.5px,#0cf 5.5px,#09f 7.5px,#0091ff 20.5px,#0074ff 23.5px,#002cff 27.5px,#0017ff 31.5px,#0028ff 39.5px,#004dff 42.5px)"></i><i style="height:43px;background:linear-gradient(#00d3ff 0.5px,#00caff 21.5px,#00a2ff 24.5px,#0037ff 28.5px,#0019ff 31.5px,#001fff 38.5px,#004aff 42.5px)"></i><i style="height:40px;background:linear-gradient(#00d7ff 0.5px,#00c9ff 6.5px,#00c2ff 22.5px,#00a2ff 25.5px,#002bff 30.5px,#001aff 33.5px,#002bff 37.5px,#0047ff 39.5px)"></i><i style="height:40px;background:linear-gradient(#00cbff 0.5px,#00c3ff 22.5px,#00a1ff 25.5px,#0040ff 29.5px,#0025ff 32.5px,#0036ff 37.5px,#0053ff 39.5px)"></i><i style="height:40px;background:linear-gradient(#00abff 0.5px,#00a3ff 25.5px,#0082ff 28.5px,#0030ff 32.5px,#0023ff 35.5px,#0039ff 38.5px,#0049ff 39.5px)"></i><i style="height:37px;background:linear-gradient(#00d0ff 0.5px,#00bfff 22.5px,#0096ff 25.5px,#003bff 29.5px,#002dff 32.5px,#0043ff 35.5px,#0053ff 36.5px)"></i><i style="height:37px;background:linear-gradient(#00eaff 0.5px,#00e5ff 22.5px,#0cf 25.5px,#007cff 28.5px,#0046ff 30.5px,#0030ff 32.5px,#003dff 35.5px,#004cff 36.5px)"></i><i style="height:37px;background:linear-gradient(#00d7ff 0.5px,#00ceff 2.5px,#00b3ff 4.5px,#00b9ff 20.5px,#00a6ff 24.5px,#003dff 30.5px,#0035ff 33.5px,#0054ff 36.5px)"></i><i style="height:35px;background:linear-gradient(#00ebff 0.5px,#00e1ff 3.5px,#00d2ff 5.5px,#00e3ff 18.5px,#00d1ff 22.5px,#009cff 25.5px,#005bff 28.5px,#0045ff 31.5px,#005aff 34.5px)"></i><i style="height:32px;background:linear-gradient(#00edff 0.5px,#00e2ff 4.5px,#02fffd 7.5px,#4effb1 14.5px,#5fa 18.5px,#34ffcb 22.5px,#00fcff 25.5px,#0094ff 29.5px,#0081ff 31.5px)"></i><i style="height:29px;background:linear-gradient(#00f7ff 0.5px,#1effe1 6.5px,#c1ff3e 13.5px,#e3ff1c 16.5px,#dcff23 19.5px,#94ff6b 23.5px,#1fe 28.5px)"></i><i style="height:37px;background:linear-gradient(#00eaff 0.5px,#00eaff 4.5px,#00e5ff 6.5px,#03fffc 8.5px,#4affb5 14.5px,#52ffad 18.5px,#2effd1 25.5px,#38ffc7 31.5px,#00fbff 34.5px,#00cbff 36.5px)"></i><i style="height:37px;background:linear-gradient(#00f1ff 0.5px,#00e4ff 4.5px,#00c1ff 6.5px,#00e5ff 20.5px,#07fff8 22.5px,#5fa 24.5px,#d9ff26 26.5px,#ffd700 27.5px,#ff4800 29.5px,#ff1c00 30.5px,#ff0c00 31.5px,#ff1d00 32.5px,#ff4d00 33.5px,#ff9600 34.5px,#fe0 35.5px,#b6ff49 36.5px)"></i><i style="height:37px;background:linear-gradient(#00caff 0.5px,#00c4ff 3.5px,#00a0ff 5.5px,#00b2ff 20.5px,#00ceff 22.5px,#0efff1 24.5px,#b3ff4c 27.5px,#edff12 28.5px,#ffdf00 29.5px,#ffbe00 30.5px,#ffb500 31.5px,#ffc600 32.5px,#ffef00 33.5px,#d4ff2b 34.5px,#52ffad 36.5px)"></i><i style="height:37px;background:linear-gradient(#00edff 0.5px,#00e0ff 5.5px,#00cdff 6.5px,#0052ff 9.5px,#0059ff 22.5px,#0087ff 27.5px,#00a2ff 30.5px,#0087ff 36.5px)"></i><i style="height:40px;background:linear-gradient(#00d0ff 0.5px,#00b5ff 2.5px,#0092ff 3.5px,#0084ff 5.5px,#0080ff 30.5px,#0043ff 36.5px,#0057ff 39.5px)"></i><i style="height:43px;background:linear-gradient(#07fff8 0.5px,#00feff 3.5px,#00f0ff 4.5px,#00d2ff 5.5px,#006eff 7.5px,#0065ff 31.5px,#002dff 37.5px,#0035ff 40.5px,#0051ff 42.5px)"></i><i style="height:43px;background:linear-gradient(#10ffef 0.5px,#00faff 3.5px,#0df 4.5px,#0af 5.5px,#008dff 6.5px,#0084ff 22.5px,#0065ff 25.5px,#0029ff 29.5px,#0021ff 35.5px,#003aff 40.5px,#0058ff 42.5px)"></i><i style="height:46px;background:linear-gradient(#00fdff 0.5px,#00ecff 2.5px,#00d1ff 3.5px,#0067ff 5.5px,#005dff 25.5px,#001cff 32.5px,#0020ff 40.5px,#0041ff 44.5px,#0052ff 45.5px)"></i><i style="height:46px;background:linear-gradient(#25ffda 0.5px,#13ffec 2.5px,#00f4ff 3.5px,#00beff 4.5px,#00b0ff 6.5px,#00a9ff 22.5px,#008dff 25.5px,#002cff 30.5px,#001dff 35.5px,#03f 42.5px,#0059ff 45.5px)"></i><i style="height:49px;background:linear-gradient(#25ffda 0.5px,#14ffeb 2.5px,#00f8ff 3.5px,#00c5ff 4.5px,#0082ff 5.5px,#005dff 6.5px,#0057ff 25.5px,#001cff 33.5px,#0026ff 43.5px,#0046ff 47.5px,#0058ff 48.5px)"></i><i style="height:49px;background:linear-gradient(#2cffd3 0.5px,#1dffe2 3.5px,#05fffa 4.5px,#00d5ff 5.5px,#0090ff 6.5px,#0081ff 25.5px,#0062ff 28.5px,#02f 32.5px,#0015ff 38.5px,#002bff 45.5px,#0052ff 48.5px)"></i><i style="height:52px;background:linear-gradient(#21ffde 0.5px,#03fffc 2.5px,#00d6ff 3.5px,#005aff 5.5px,#0053ff 23.5px,#0017ff 31.5px,#0021ff 45.5px,#0039ff 49.5px,#0056ff 51.5px)"></i><i style="height:52px;background:linear-gradient(#35ffca 0.5px,#27ffd8 2.5px,#0efff1 3.5px,#00dbff 4.5px,#0094ff 5.5px,#007aff 6.5px,#0074ff 28.5px,#004eff 32.5px,#001fff 36.5px,#0021ff 45.5px,#0039ff 49.5px,#0057ff 51.5px)"></i><i style="height:55px;background:linear-gradient(#42ffbd 0.5px,#39ffc6 2.5px,#28ffd7 3.5px,#03fffc 4.5px,#0075ff 6.5px,#0058ff 7.5px,#0052ff 29.5px,#0019ff 37.5px,#0025ff 49.5px,#0045ff 53.5px,#0056ff 54.5px)"></i><i style="height:55px;background:linear-gradient(#19ffe6 0.5px,#00f3ff 2.5px,#0095ff 4.5px,#008eff 24.5px,#0071ff 27.5px,#002dff 31.5px,#001bff 36.5px,#002cff 49.5px,#004cff 53.5px,#005dff 54.5px)"></i><i style="height:55px;background:linear-gradient(#1dffe2 0.5px,#14ffeb 3.5px,#05fffa 4.5px,#00e4ff 5.5px,#0075ff 7.5px,#006fff 27.5px,#004cff 31.5px,#0020ff 35.5px,#0021ff 46.5px,#003dff 52.5px,#005aff 54.5px)"></i><i style="height:55px;background:linear-gradient(#46ffb9 0.5px,#37ffc8 5.5px,#1fffe0 6.5px,#0ef 7.5px,#00a7ff 8.5px,#009bff 10.5px,#0096ff 27.5px,#007eff 30.5px,#0030ff 35.5px,#0026ff 42.5px,#003eff 51.5px,#0064ff 54.5px)"></i><i style="height:55px;background:linear-gradient(#00faff 0.5px,#00e6ff 2.5px,#00c7ff 3.5px,#0094ff 4.5px,#0073ff 5.5px,#006aff 28.5px,#0027ff 35.5px,#002bff 47.5px,#0045ff 52.5px,#0062ff 54.5px)"></i><i style="height:55px;background:linear-gradient(#00f7ff 0.5px,#00edff 3.5px,#00deff 4.5px,#00bdff 5.5px,#0052ff 7.5px,#0040ff 25.5px,#001bff 31.5px,#0028ff 48.5px,#004bff 53.5px,#005cff 54.5px)"></i><i style="height:58px;background:linear-gradient(#06fff9 0.5px,#00f7ff 2.5px,#00e0ff 3.5px,#0076ff 5.5px,#0060ff 6.5px,#0058ff 32.5px,#0025ff 39.5px,#002dff 51.5px,#0043ff 55.5px,#0060ff 57.5px)"></i><i style="height:58px;background:linear-gradient(#31ffce 0.5px,#1effe1 3.5px,#03fffc 4.5px,#00cdff 5.5px,#0087ff 6.5px,#006bff 7.5px,#0063ff 31.5px,#0025ff 38.5px,#002bff 51.5px,#004dff 56.5px,#005eff 57.5px)"></i><i style="height:58px;background:linear-gradient(#2fffd0 0.5px,#20ffdf 2.5px,#06fff9 3.5px,#09f 5.5px,#0092ff 24.5px,#0079ff 27.5px,#0024ff 32.5px,#0017ff 38.5px,#002bff 53.5px,#0056ff 57.5px)"></i><i style="height:61px;background:linear-gradient(#38ffc7 0.5px,#31ffce 4.5px,#25ffda 5.5px,#09fff6 6.5px,#00d2ff 7.5px,#0bf 8.5px,#00b4ff 24.5px,#0096ff 27.5px,#003eff 31.5px,#02f 34.5px,#002cff 54.5px,#004dff 59.5px,#005eff 60.5px)"></i><i style="height:61px;background:linear-gradient(#2dffd2 0.5px,#1cffe3 2.5px,#00feff 3.5px,#00c8ff 4.5px,#0082ff 5.5px,#0072ff 6.5px,#006bff 23.5px,#0045ff 27.5px,#001fff 31.5px,#0026ff 53.5px,#003fff 58.5px,#005bff 60.5px)"></i><i style="height:61px;background:linear-gradient(#4cffb3 0.5px,#3dffc2 3.5px,#00f2ff 5.5px,#00a7ff 6.5px,#007dff 7.5px,#07f 27.5px,#004fff 31.5px,#0021ff 35.5px,#0021ff 51.5px,#003bff 58.5px,#0058ff 60.5px)"></i><i style="height:64px;background:linear-gradient(#4dffb2 0.5px,#3affc5 3.5px,#1cffe3 4.5px,#00e1ff 5.5px,#0095ff 6.5px,#008fff 25.5px,#0076ff 28.5px,#0020ff 33.5px,#0012ff 40.5px,#0025ff 59.5px,#004fff 63.5px)"></i><i style="height:64px;background:linear-gradient(#3effc1 0.5px,#31ffce 1.5px,#14ffeb 2.5px,#00dbff 3.5px,#008eff 4.5px,#0058ff 5.5px,#0053ff 27.5px,#001aff 35.5px,#0025ff 58.5px,#0043ff 62.5px,#0053ff 63.5px)"></i><i style="height:64px;background:linear-gradient(#00fcff 0.5px,#00e0ff 1.5px,#00acff 2.5px,#0069ff 3.5px,#0061ff 24.5px,#003cff 28.5px,#0014ff 32.5px,#001bff 57.5px,#0030ff 61.5px,#004cff 63.5px)"></i><i style="height:67px;background:linear-gradient(#29ffd6 0.5px,#1bffe4 3.5px,#06fff9 4.5px,#00d8ff 5.5px,#0094ff 6.5px,#007bff 7.5px,#0074ff 21.5px,#004cff 25.5px,#0019ff 29.5px,#0015ff 45.5px,#0024ff 62.5px,#004dff 66.5px)"></i><i style="height:73px;background:linear-gradient(#0afff5 0.5px,#03fffc 3.5px,#00f5ff 4.5px,#00d8ff 5.5px,#006dff 7.5px,#0067ff 21.5px,#0043ff 25.5px,#001aff 29.5px,#0020ff 67.5px,#003cff 71.5px,#004cff 72.5px)"></i><i style="height:76px;background:linear-gradient(#0afff5 0.5px,#00feff 2.5px,#00e9ff 3.5px,#00bfff 4.5px,#0080ff 5.5px,#005cff 6.5px,#0052ff 22.5px,#01f 29.5px,#0016ff 70.5px,#0032ff 74.5px,#0042ff 75.5px)"></i><i style="height:79px;background:linear-gradient(#00f9ff 0.5px,#0ef 2.5px,#00dbff 3.5px,#00b3ff 4.5px,#003fff 6.5px,#0037ff 23.5px,#0009ff 30.5px,#000dff 73.5px,#0029ff 77.5px,#0038ff 78.5px)"></i><i style="height:82px;background:linear-gradient(#0bfff4 0.5px,#00feff 4.5px,#00ebff 5.5px,#00c3ff 6.5px,#05f 8.5px,#004cff 21.5px,#000eff 28.5px,#000eff 76.5px,#002aff 80.5px,#003aff 81.5px)"></i><i style="height:85px;background:linear-gradient(#10ffef 0.5px,#04fffb 4.5px,#00efff 5.5px,#00c7ff 6.5px,#0089ff 7.5px,#005fff 8.5px,#0057ff 22.5px,#0014ff 29.5px,#000fff 78.5px,#002eff 83.5px,#003bff 84.5px)"></i><i style="height:88px;background:linear-gradient(#0dfff2 0.5px,#00fdff 6.5px,#00e7ff 7.5px,#00baff 8.5px,#0040ff 10.5px,#001dff 11.5px,#01f 13.5px,#000eff 38.5px,#000fff 79.5px,#0034ff 86.5px,#003fff 87.5px)"></i><i style="height:91px;background:linear-gradient(#00f9ff 0.5px,#00f3ff 6.5px,#00cfff 8.5px,#00a0ff 9.5px,#002bff 11.5px,#000dff 12.5px,#0000fb 14.5px,#0007ff 79.5px,#0042ff 90.5px)"></i><i style="height:94px;background:linear-gradient(#00f9ff 0.5px,#0ef 7.5px,#00dcff 8.5px,#00b7ff 9.5px,#0040ff 11.5px,#0019ff 13.5px,#0000fd 17.5px,#0006ff 78.5px,#004bff 93.5px)"></i><i style="height:97px;background:linear-gradient(#03fffc 0.5px,#00fbff 6.5px,#00d3ff 8.5px,#0029ff 11.5px,#000cff 12.5px,#0000fb 21.5px,#0007ff 80.5px,#0048ff 96.5px)"></i><i style="height:100px;background:linear-gradient(#00fbff 0.5px,#00f4ff 5.5px,#00e9ff 6.5px,#00cfff 7.5px,#009eff 8.5px,#0027ff 10.5px,#000aff 11.5px,#0000fc 31.5px,#0000fc 80.5px,#0038ff 99.5px)"></i><i style="height:106px;background:linear-gradient(#15ffea 0.5px,#0ffff0 7.5px,#06fff9 8.5px,#00efff 9.5px,#00c1ff 10.5px,#003bff 12.5px,#0012ff 13.5px,#0000fe 14.5px,#0000f4 20.5px,#0000f4 63.5px,#0000f4 83.5px,#0009ff 102.5px,#001eff 105.5px)"></i><i style="height:111px;background:linear-gradient(#00d8ff 0.5px,#00cfff 9.5px,#00c2ff 10.5px,#00a4ff 11.5px,#0035ff 13.5px,#000aff 14.5px,#0000e7 17.5px,#0000e6 63.5px,#0000e2 93.5px,#0000e4 107.5px,#0003ff 110.5px)"></i><i style="height:108px;background:linear-gradient(#00b5ff 0.5px,#00b0ff 6.5px,#0091ff 8.5px,#0009ff 11.5px,#0000e7 15.5px,#0000e0 65.5px,#0000d4 102.5px,#00e 106.5px,#0000fd 107.5px)"></i><i style="height:143px;background:linear-gradient(#0091ff 0.5px,#0087ff 5.5px,#007aff 6.5px,#0034ff 8.5px,#000cff 9.5px,#0000e8 11.5px,#0000e1 63.5px,#0000bc 125.5px,#0000c3 142.5px)"></i><i style="height:143px;background:linear-gradient(#00a9ff 0.5px,#00a1ff 3.5px,#0094ff 4.5px,#0078ff 5.5px,#001aff 7.5px,#0000f7 8.5px,#0000df 10.5px,#00d 61.5px,#0000b7 123.5px,#0000be 142.5px)"></i><i style="height:143px;background:linear-gradient(#00b3ff 0.5px,#00abff 4.5px,#0081ff 6.5px,#001eff 8.5px,#0000f9 9.5px,#0000e0 11.5px,#0000db 61.5px,#0000b5 121.5px,#0000be 142.5px)"></i><i style="height:143px;background:linear-gradient(#09f 0.5px,#0091ff 5.5px,#0067ff 7.5px,#01f 9.5px,#0000f4 10.5px,#0000e1 15.5px,#0000de 60.5px,#0000b8 121.5px,#0000c1 142.5px)"></i><i style="height:143px;background:linear-gradient(#008bff 0.5px,#0080ff 5.5px,#0052ff 7.5px,#0027ff 8.5px,#000eff 9.5px,#0000f4 12.5px,#0000df 18.5px,#0000d9 61.5px,#0000b5 121.5px,#0000be 142.5px)"></i><i style="height:143px;background:linear-gradient(#00abff 0.5px,#00a2ff 6.5px,#0095ff 7.5px,#0078ff 8.5px,#001aff 10.5px,#0008ff 12.5px,#0000e4 23.5px,#0000d9 64.5px,#0000b9 120.5px,#0000c2 142.5px)"></i><i style="height:139px;background:linear-gradient(#0097ff 0.5px,#008cff 5.5px,#007dff 6.5px,#000cff 9.5px,#0000ec 13.5px,#0000e2 23.5px,#0000d7 63.5px,#0000b7 119.5px,#0000bf 138.5px)"></i><i style="height:143px;background:linear-gradient(#0084ff 0.5px,#007bff 6.5px,#0051ff 8.5px,#0029ff 9.5px,#01f 10.5px,#0000f3 14.5px,#0000df 20.5px,#0000d3 63.5px,#0000b4 119.5px,#0000be 142.5px)"></i><i style="height:143px;background:linear-gradient(#00a0ff 0.5px,#0096ff 5.5px,#0086ff 6.5px,#06f 7.5px,#000bff 9.5px,#0000e4 11.5px,#0000d0 66.5px,#0000b4 119.5px,#0000bf 142.5px)"></i><i style="height:143px;background:linear-gradient(#008fff 0.5px,#0085ff 5.5px,#0058ff 7.5px,#0008ff 9.5px,#0000e4 12.5px,#0000d7 62.5px,#0000b9 117.5px,#0000c4 142.5px)"></i><i style="height:143px;background:linear-gradient(#006cff 0.5px,#0062ff 7.5px,#0037ff 9.5px,#0000f8 11.5px,#0000e1 15.5px,#0000d4 62.5px,#0000b7 116.5px,#0000c2 142.5px)"></i><i style="height:119px;background:linear-gradient(#0095ff 0.5px,#008dff 4.5px,#0067ff 6.5px,#01f 8.5px,#0000f3 9.5px,#0000e0 11.5px,#0000cf 63.5px,#0000b5 116.5px,#0000b5 118.5px)"></i><i style="height:143px;background:linear-gradient(#008eff 0.5px,#0082ff 5.5px,#0072ff 6.5px,#0004ff 9.5px,#0000e2 15.5px,#0000d0 65.5px,#0000b8 116.5px,#0000c4 142.5px)"></i><i style="height:116px;background:linear-gradient(#0061ff 0.5px,#0056ff 4.5px,#002cff 6.5px,#000bff 7.5px,#0000e9 9.5px,#0000db 27.5px,#0000c1 75.5px,#0000b3 115.5px)"></i><i style="height:104px;background:linear-gradient(#005aff 0.5px,#0054ff 5.5px,#003bff 7.5px,#001fff 8.5px,#0000fc 12.5px,#0000e0 17.5px,#0000c8 69.5px,#0000b7 103.5px)"></i><i style="height:116px;background:linear-gradient(#0087ff 0.5px,#0081ff 6.5px,#0062ff 8.5px,#0015ff 10.5px,#0000f6 11.5px,#0000e1 13.5px,#0000c5 71.5px,#0000b6 115.5px)"></i><i style="height:116px;background:linear-gradient(#0091ff 0.5px,#0087ff 6.5px,#0078ff 7.5px,#0008ff 10.5px,#0000db 17.5px,#0000be 75.5px,#0000b3 115.5px)"></i><i style="height:143px;background:linear-gradient(#008fff 0.5px,#0085ff 6.5px,#0076ff 7.5px,#0058ff 8.5px,#002bff 9.5px,#0000f8 13.5px,#0000d7 17.5px,#0000ac 109.5px,#0000b9 142.5px)"></i><i style="height:143px;background:linear-gradient(#06f 0.5px,#0061ff 6.5px,#0049ff 8.5px,#000cff 10.5px,#0000e8 12.5px,#00b 107.5px,#0000c7 142.5px)"></i><i style="height:143px;background:linear-gradient(#0079ff 0.5px,#0070ff 6.5px,#0047ff 8.5px,#0000fe 10.5px,#0000e3 12.5px,#0000b5 106.5px,#0000c2 142.5px)"></i><i style="height:143px;background:linear-gradient(#008dff 0.5px,#0083ff 6.5px,#0074ff 7.5px,#0056ff 8.5px,#0000fd 10.5px,#0000e5 11.5px,#0000cd 17.5px,#0000a8 109.5px,#0000b5 142.5px)"></i><i style="height:143px;background:linear-gradient(#00f9ff 0.5px,#00f1ff 8.5px,#00e3ff 9.5px,#00c3ff 10.5px,#000aff 13.5px,#00d 15.5px,#0000ce 37.5px,#0000b1 105.5px,#0000be 142.5px)"></i><i style="height:143px;background:linear-gradient(#1bffe4 0.5px,#14ffeb 6.5px,#09fff6 7.5px,#0ef 8.5px,#00b9ff 9.5px,#0025ff 11.5px,#00f 12.5px,#0000d8 19.5px,#0000b4 104.5px,#0000c1 142.5px)"></i><i style="height:143px;background:linear-gradient(#007aff 0.5px,#006fff 6.5px,#0041ff 8.5px,#0019ff 9.5px,#0000fc 10.5px,#0000da 13.5px,#0000b1 101.5px,#0000be 142.5px)"></i><i style="height:143px;background:linear-gradient(#0081ff 0.5px,#007aff 6.5px,#0058ff 8.5px,#000bff 10.5px,#0000e3 12.5px,#0000d3 24.5px,#0000b5 105.5px,#0000c2 142.5px)"></i><i style="height:143px;background:linear-gradient(#0036ff 0.5px,#0029ff 5.5px,#0002ff 7.5px,#0000e2 9.5px,#0000cf 16.5px,#0000b0 103.5px,#0000bc 142.5px)"></i><i style="height:143px;background:linear-gradient(#0064ff 0.5px,#0057ff 6.5px,#0027ff 8.5px,#0005ff 9.5px,#0000d8 14.5px,#0000b4 99.5px,#0000c1 142.5px)"></i><i style="height:143px;background:linear-gradient(#0083ff 0.5px,#007dff 6.5px,#005eff 8.5px,#000fff 10.5px,#0000fd 11.5px,#0000d4 17.5px,#0000b4 99.5px,#0000c0 142.5px)"></i><i style="height:143px;background:linear-gradient(#0047ff 0.5px,#003eff 5.5px,#001dff 7.5px,#0001ff 8.5px,#0000de 10.5px,#0000c6 38.5px,#0000b5 106.5px,#0000c0 142.5px)"></i><i style="height:143px;background:linear-gradient(#0046ff 0.5px,#0026ff 9.5px,#0000fb 12.5px,#0000d5 16.5px,#0000b5 80.5px,#0000c0 142.5px)"></i><i style="height:143px;background:linear-gradient(#003eff 0.5px,#0032ff 6.5px,#000cff 8.5px,#00e 10.5px,#0000d0 17.5px,#0000b7 100.5px,#0000c2 142.5px)"></i><i style="height:143px;background:linear-gradient(#0000fc 0.5px,#0000f1 10.5px,#0000d3 16.5px,#0000ba 98.5px,#0000c5 142.5px)"></i><i style="height:143px;background:linear-gradient(#0000fd 0.5px,#0000f1 6.5px,#0000cd 15.5px,#0000b5 98.5px,#0000bf 142.5px)"></i><i style="height:143px;background:linear-gradient(#0000f3 0.5px,#0000ea 9.5px,#00c 17.5px,#0000b7 99.5px,#0000c1 142.5px)"></i><i style="height:143px;background:linear-gradient(#0000e3 0.5px,#0000d8 14.5px,#0000c3 34.5px,#0000bf 116.5px,#0000c4 142.5px)"></i><i style="height:143px;background:linear-gradient(#0024ff 0.5px,#0012ff 6.5px,#0000ec 9.5px,#0000d1 14.5px,#0000c2 48.5px,#0000c2 125.5px,#0000c4 142.5px)"></i><i style="height:143px;background:linear-gradient(#0000dc 0.5px,#0000c4 44.5px,#0000c7 130.5px,#0000c8 142.5px)"></i><i style="height:143px;background:linear-gradient(#0000f9 0.5px,#0000ef 10.5px,#0000d3 16.5px,#0000c6 46.5px,#0000ca 142.5px)"></i><i style="height:143px;background:linear-gradient(#000cff 0.5px,#0000f8 9.5px,#0000d6 15.5px,#0000c7 42.5px,#00c 142.5px)"></i><i style="height:143px;background:linear-gradient(#0000da 0.5px,#0000bf 39.5px,#0000c6 142.5px)"></i><i style="height:143px;background:linear-gradient(#0007ff 0.5px,#0000fa 8.5px,#0000c5 15.5px,#0000b4 38.5px,#0000bc 142.5px)"></i><i style="height:143px;background:linear-gradient(#001cff 0.5px,#01f 7.5px,#0000fd 9.5px,#0000ce 14.5px,#0000b9 35.5px,#0000c3 142.5px)"></i><i style="height:143px;background:linear-gradient(#0002ff 0.5px,#0000f5 9.5px,#0000c7 16.5px,#0000b9 39.5px,#0000c3 142.5px)"></i><i style="height:143px;background:linear-gradient(#0000fa 0.5px,#0000f1 7.5px,#0000c7 13.5px,#0000b3 35.5px,#0000be 142.5px)"></i><i style="height:143px;background:linear-gradient(#0000f9 0.5px,#0000f2 7.5px,#0000c4 13.5px,#0000b0 36.5px,#0000bd 142.5px)"></i><i style="height:143px;background:linear-gradient(#0000fb 0.5px,#00e 8.5px,#0000b6 15.5px,#0000a4 35.5px,#0000b4 136.5px,#0000b2 142.5px)"></i><i style="height:143px;background:linear-gradient(#000aff 0.5px,#0000fa 8.5px,#0000c3 14.5px,#0000ae 34.5px,#0000c1 117.5px,#0000bd 142.5px)"></i><i style="height:143px;background:linear-gradient(#0000e4 0.5px,#0000db 12.5px,#0000b2 20.5px,#0000ad 41.5px,#0000bc 132.5px,#0000b9 142.5px)"></i><i style="height:86px;background:linear-gradient(#0003ff 0.5px,#0000f8 9.5px,#0000b5 16.5px,#0000a3 34.5px,#0000b6 85.5px)"></i><i style="height:143px;background:linear-gradient(#0000f5 0.5px,#0000e7 8.5px,#0000b7 14.5px,#0000a3 34.5px,#0000b9 89.5px,#0000b4 142.5px)"></i><i style="height:143px;background:linear-gradient(#0008ff 0.5px,#0001ff 6.5px,#0000b3 16.5px,#0000a1 33.5px,#0000b8 84.5px,#0000b3 142.5px)"></i><i style="height:143px;background:linear-gradient(#0000eb 0.5px,#0000e5 6.5px,#0000c0 15.5px,#0000a7 26.5px,#0000c1 101.5px,#0000b8 142.5px)"></i><i style="height:143px;background:linear-gradient(#000cff 0.5px,#0000fc 11.5px,#0000b8 17.5px,#0000a4 30.5px,#0000bf 81.5px,#0000b7 142.5px)"></i><i style="height:143px;background:linear-gradient(#0000eb 0.5px,#0000e3 13.5px,#0000b0 21.5px,#0000ab 38.5px,#0000c3 78.5px,#0000ba 142.5px)"></i><i style="height:143px;background:linear-gradient(#0016ff 0.5px,#0008ff 8.5px,#00e 10.5px,#0000bc 14.5px,#0000a4 27.5px,#0000c2 87.5px,#0000b6 142.5px)"></i><i style="height:143px;background:linear-gradient(#0000f9 0.5px,#0000ef 12.5px,#0000a8 19.5px,#00009b 34.5px,#0000b8 73.5px,#0000b1 136.5px,#0000ae 142.5px)"></i><i style="height:143px;background:linear-gradient(#0000fa 0.5px,#0000f3 8.5px,#0000af 15.5px,#009 28.5px,#0000b9 76.5px,#0000b0 137.5px,#0000ad 142.5px)"></i><i style="height:143px;background:linear-gradient(#0000e0 0.5px,#0000d2 11.5px,#0000ac 19.5px,#0000a8 37.5px,#0000c4 73.5px,#0000bc 132.5px,#0000b7 142.5px)"></i><i style="height:143px;background:linear-gradient(#0000e0 0.5px,#0000d6 9.5px,#0000b0 17.5px,#0000a7 35.5px,#0000c6 69.5px,#0000c0 127.5px,#0000b9 142.5px)"></i><i style="height:143px;background:linear-gradient(#0009ff 0.5px,#0000fc 7.5px,#0000b3 14.5px,#00009d 29.5px,#0000c0 72.5px,#0000b8 128.5px,#0000b1 142.5px)"></i><i style="height:101px;background:linear-gradient(#0000f7 0.5px,#00e 13.5px,#0000ac 20.5px,#0000a2 34.5px,#0000c3 68.5px,#0000c6 100.5px)"></i><i style="height:143px;background:linear-gradient(#001cff 0.5px,#01f 6.5px,#0000fb 8.5px,#0000ea 14.5px,#0000a5 20.5px,#009 32.5px,#0000bd 71.5px,#0000b3 126.5px,#0000ab 142.5px)"></i><i style="height:143px;background:linear-gradient(#0032ff 0.5px,#002cff 6.5px,#0009ff 9.5px,#0000f5 11.5px,#0000ad 16.5px,#000097 25.5px,#0000bd 75.5px,#0000ae 132.5px,#0000a9 142.5px)"></i><i style="height:143px;background:linear-gradient(#0027ff 0.5px,#001fff 4.5px,#0008ff 6.5px,#0000fa 11.5px,#0000b0 17.5px,#00009b 24.5px,#0000ac 45.5px,#0000c2 79.5px,#0000ac 142.5px)"></i><i style="height:143px;background:linear-gradient(#0029ff 0.5px,#001bff 4.5px,#0000f1 6.5px,#0000df 11.5px,#0000ab 17.5px,#00009e 31.5px,#0000c4 69.5px,#00b 118.5px,#0000af 142.5px)"></i><i style="height:143px;background:linear-gradient(#0045ff 0.5px,#003dff 11.5px,#0019ff 14.5px,#0003ff 15.5px,#0000b3 19.5px,#00009e 25.5px,#0000b6 49.5px,#0000c6 91.5px,#0000ad 142.5px)"></i><i style="height:143px;background:linear-gradient(#004bff 0.5px,#003fff 6.5px,#02f 8.5px,#0005ff 9.5px,#0000bd 12.5px,#0000a3 19.5px,#0000a4 37.5px,#0000c5 67.5px,#0000ba 118.5px,#0000ad 142.5px)"></i><i style="height:143px;background:linear-gradient(#0018ff 0.5px,#000dff 5.5px,#0000f6 13.5px,#0000ab 19.5px,#00009b 29.5px,#0000c3 67.5px,#0000b9 115.5px,#00a 142.5px)"></i><i style="height:143px;background:linear-gradient(#0032ff 0.5px,#0027ff 5.5px,#0000fd 7.5px,#00c 9.5px,#0000ad 14.5px,#0000a1 32.5px,#0000c7 66.5px,#0000bd 114.5px,#0000ad 142.5px)"></i><i style="height:143px;background:linear-gradient(#0058ff 0.5px,#0048ff 5.5px,#0010ff 7.5px,#0000e8 8.5px,#00c 15.5px,#0000a8 21.5px,#00a 37.5px,#0000ca 64.5px,#0000c1 112.5px,#0000af 142.5px)"></i><i style="height:143px;background:linear-gradient(#002bff 0.5px,#0020ff 6.5px,#000aff 8.5px,#0000fa 14.5px,#0000ae 20.5px,#00009e 28.5px,#0000c7 67.5px,#0000b9 115.5px,#00a 142.5px)"></i><i style="height:143px;background:linear-gradient(#0012ff 0.5px,#0009ff 7.5px,#0000fc 8.5px,#0000c2 12.5px,#0000ab 21.5px,#0000b5 40.5px,#0000d2 69.5px,#0000bf 119.5px,#0000b3 142.5px)"></i><i style="height:143px;background:linear-gradient(#0048ff 0.5px,#0039ff 4.5px,#0004ff 6.5px,#0000ad 15.5px,#0000a2 31.5px,#0000c8 65.5px,#0000ba 113.5px,#0000a9 142.5px)"></i><i style="height:143px;background:linear-gradient(#001aff 0.5px,#0013ff 6.5px,#0000f4 8.5px,#0000c7 10.5px,#0000a7 19.5px,#0000ad 38.5px,#0000cb 65.5px,#00b 114.5px,#0000ab 142.5px)"></i><i style="height:143px;background:linear-gradient(#0039ff 0.5px,#002aff 5.5px,#0006ff 7.5px,#0000fa 11.5px,#0000b3 18.5px,#0000ab 32.5px,#0000d0 65.5px,#0000c0 112.5px,#0000af 142.5px)"></i><i style="height:143px;background:linear-gradient(#0025ff 0.5px,#0016ff 6.5px,#0000f3 8.5px,#0000be 11.5px,#0000a8 22.5px,#0000b7 42.5px,#0000ce 69.5px,#0000b6 120.5px,#0000ab 142.5px)"></i><i style="height:143px;background:linear-gradient(#0030ff 0.5px,#0029ff 5.5px,#000cff 7.5px,#0000da 9.5px,#0000b3 17.5px,#0000b3 35.5px,#0000d3 64.5px,#0000c1 112.5px,#0000b0 142.5px)"></i><i style="height:143px;background:linear-gradient(#0050ff 0.5px,#0043ff 4.5px,#01f 6.5px,#0000f1 7.5px,#0000de 12.5px,#0000ac 18.5px,#0000ab 35.5px,#0000cb 64.5px,#0000b6 114.5px,#0000a7 142.5px)"></i><i style="height:143px;background:linear-gradient(#0000f1 0.5px,#0000e5 12.5px,#0000b3 18.5px,#0000b3 35.5px,#0000d1 65.5px,#00b 114.5px,#0000ac 142.5px)"></i><i style="height:143px;background:linear-gradient(#0000da 0.5px,#0000d4 9.5px,#0000b4 14.5px,#0000a8 29.5px,#00c 65.5px,#0000b1 117.5px,#0000a6 142.5px)"></i><i style="height:143px;background:linear-gradient(#00e 0.5px,#0000e8 9.5px,#0000ba 15.5px,#0000b6 33.5px,#0000d5 64.5px,#0000bc 114.5px,#0000af 142.5px)"></i><i style="height:143px;background:linear-gradient(#0000eb 0.5px,#0000e4 9.5px,#0000b0 15.5px,#00a 32.5px,#0000c9 63.5px,#0000b0 113.5px,#0000a2 142.5px)"></i><i style="height:143px;background:linear-gradient(#00d 0.5px,#0000c9 10.5px,#0000ae 17.5px,#0000b5 38.5px,#00c 65.5px,#0000a5 142.5px)"></i><i style="height:143px;background:linear-gradient(#0000e4 0.5px,#0000db 15.5px,#0000b3 22.5px,#0000c1 43.5px,#0000cf 71.5px,#0000a8 142.5px)"></i><i style="height:143px;background:linear-gradient(#0001ff 0.5px,#0000fb 7.5px,#0000b7 13.5px,#00a 26.5px,#0000c9 65.5px,#0000a0 142.5px)"></i><i style="height:143px;background:linear-gradient(#0058ff 0.5px,#0050ff 6.5px,#002aff 8.5px,#0006ff 9.5px,#0000db 13.5px,#0000be 17.5px,#0000c0 36.5px,#0000d6 64.5px,#0000ad 142.5px)"></i><i style="height:143px;background:linear-gradient(#008bff 0.5px,#0084ff 8.5px,#0064ff 10.5px,#0009ff 12.5px,#0000c8 15.5px,#0000ba 23.5px,#0000d7 65.5px,#0000ae 142.5px)"></i><i style="height:143px;background:linear-gradient(#008cff 0.5px,#0086ff 7.5px,#06f 9.5px,#000cff 11.5px,#0000d6 13.5px,#0000be 17.5px,#0000ca 42.5px,#0000d6 70.5px,#0000ad 140.5px,#0000ad 142.5px)"></i><i style="height:143px;background:linear-gradient(#00cdff 0.5px,#00c4ff 6.5px,#00b7ff 7.5px,#0098ff 8.5px,#001dff 10.5px,#0000e8 11.5px,#0000bd 16.5px,#0000bf 36.5px,#0000d1 66.5px,#0000a7 140.5px,#0000a7 142.5px)"></i><i style="height:143px;background:linear-gradient(#008fff 0.5px,#0087ff 7.5px,#0061ff 9.5px,#0001ff 11.5px,#0000d1 13.5px,#0000ba 17.5px,#0000cb 45.5px,#0000cb 81.5px,#0000a8 136.5px,#0000a8 142.5px)"></i><i style="height:143px;background:linear-gradient(#00bfff 0.5px,#00b6ff 7.5px,#00a8ff 8.5px,#0089ff 9.5px,#0017ff 11.5px,#0000ed 12.5px,#00c 15.5px,#0000c6 29.5px,#0000db 64.5px,#0000b1 137.5px,#0000b1 142.5px)"></i><i style="height:143px;background:linear-gradient(#00beff 0.5px,#00baff 7.5px,#00a1ff 9.5px,#007cff 10.5px,#000eff 12.5px,#0000dc 14.5px,#0000c9 18.5px,#0000de 66.5px,#0000b4 136.5px,#0000b5 142.5px)"></i><i style="height:143px;background:linear-gradient(#00a3ff 0.5px,#009fff 8.5px,#0084ff 10.5px,#005fff 11.5px,#002bff 12.5px,#000dff 13.5px,#0000e8 15.5px,#0000ce 19.5px,#0000e0 67.5px,#0000b7 134.5px,#0000b7 142.5px)"></i><i style="height:143px;background:linear-gradient(#00ceff 0.5px,#00c9ff 8.5px,#00acff 10.5px,#0082ff 11.5px,#0007ff 13.5px,#0000d2 15.5px,#0000c4 20.5px,#0000d8 64.5px,#0000ae 134.5px,#0000af 142.5px)"></i><i style="height:143px;background:linear-gradient(#00adff 0.5px,#00a2ff 10.5px,#0092ff 11.5px,#006fff 12.5px,#0005ff 14.5px,#0000d0 16.5px,#0000c7 25.5px,#0000d8 63.5px,#0000ae 134.5px,#0000af 142.5px)"></i><i style="height:143px;background:linear-gradient(#00b2ff 0.5px,#00acff 8.5px,#008cff 10.5px,#0062ff 11.5px,#0029ff 12.5px,#0000fb 13.5px,#0000d8 15.5px,#0000cb 22.5px,#0000dc 63.5px,#0000b2 133.5px,#0000b4 142.5px)"></i><i style="height:143px;background:linear-gradient(#00b0ff 0.5px,#00acff 9.5px,#0093ff 11.5px,#0070ff 12.5px,#0004ff 14.5px,#0000e6 15.5px,#0000c9 20.5px,#0000d5 65.5px,#0000ac 132.5px,#0000ae 142.5px)"></i><i style="height:143px;background:linear-gradient(#00e2ff 0.5px,#0df 10.5px,#00c3ff 12.5px,#009aff 13.5px,#001bff 15.5px,#0001ff 16.5px,#0000d8 19.5px,#0000d3 32.5px,#0000dc 64.5px,#0000b3 130.5px,#0000b5 142.5px)"></i><i style="height:143px;background:linear-gradient(#00c8ff 0.5px,#00c1ff 7.5px,#009dff 9.5px,#0004ff 12.5px,#0000df 14.5px,#0000d7 25.5px,#0000e3 62.5px,#0000b9 129.5px,#0000bc 142.5px)"></i><i style="height:141px;background:linear-gradient(#00e7ff 0.5px,#00e2ff 9.5px,#00c3ff 11.5px,#0097ff 12.5px,#001bff 14.5px,#0000f6 15.5px,#0000de 17.5px,#0000e6 64.5px,#0000bd 129.5px,#0000c0 140.5px)"></i><i style="height:132px;background:linear-gradient(#00c1ff 0.5px,#0bf 7.5px,#009dff 9.5px,#0074ff 10.5px,#000bff 12.5px,#0000e1 14.5px,#0000da 24.5px,#0000e2 64.5px,#0000bd 123.5px,#0000d8 129.5px,#0000f4 131.5px)"></i><i style="height:123px;background:linear-gradient(#00deff 0.5px,#00d4ff 7.5px,#00c4ff 8.5px,#00a2ff 9.5px,#002eff 11.5px,#000dff 12.5px,#0000ed 14.5px,#0000e1 21.5px,#0000e9 63.5px,#0000c8 115.5px,#0000de 120.5px,#0000fb 122.5px)"></i><i style="height:117px;background:linear-gradient(#0ef 0.5px,#00e8ff 10.5px,#00caff 12.5px,#009fff 13.5px,#0021ff 15.5px,#0000fb 16.5px,#0000e2 18.5px,#0000e2 67.5px,#0000c7 109.5px,#00d 114.5px,#0000f8 116.5px)"></i><i style="height:111px;background:linear-gradient(#00bdff 0.5px,#00b4ff 10.5px,#00a5ff 11.5px,#0086ff 12.5px,#001fff 14.5px,#0000fb 15.5px,#0000e3 17.5px,#0000e2 67.5px,#0000d3 105.5px,#00e 109.5px,#0000fd 110.5px)"></i><i style="height:106px;background:linear-gradient(#0096ff 0.5px,#008fff 9.5px,#0069ff 11.5px,#0014ff 13.5px,#0000f5 14.5px,#0000e0 17.5px,#0000e2 68.5px,#0004ff 103.5px,#0017ff 105.5px)"></i><i style="height:103px;background:linear-gradient(#0095ff 0.5px,#0089ff 8.5px,#0078ff 9.5px,#0006ff 12.5px,#0000e3 16.5px,#0000ef 72.5px,#0009ff 78.5px,#0064ff 92.5px,#0064ff 102.5px)"></i><i style="height:97px;background:linear-gradient(#00a3ff 0.5px,#009fff 9.5px,#08f 11.5px,#003fff 13.5px,#000eff 15.5px,#0000ef 17.5px,#0000e3 25.5px,#0000ed 69.5px,#0008ff 75.5px,#005fff 84.5px,#00abff 92.5px,#00b2ff 96.5px)"></i><i style="height:94px;background:linear-gradient(#0084ff 0.5px,#007cff 7.5px,#0054ff 9.5px,#000cff 12.5px,#0000f0 14.5px,#0000e6 24.5px,#0000ed 71.5px,#0009ff 78.5px,#0079ff 93.5px)"></i><i style="height:88px;background:linear-gradient(#0059ff 0.5px,#0054ff 9.5px,#0038ff 15.5px,#00f 19.5px,#0000e8 24.5px,#0000e8 78.5px,#0003ff 84.5px,#0026ff 87.5px)"></i><i style="height:88px;background:linear-gradient(#004cff 0.5px,#0043ff 12.5px,#0004ff 16.5px,#00e 22.5px,#0000e9 63.5px,#0000e7 82.5px,#0005ff 86.5px,#0014ff 87.5px)"></i><i style="height:85px;background:linear-gradient(#006fff 0.5px,#06f 11.5px,#0050ff 14.5px,#0004ff 18.5px,#0000f1 26.5px,#0000e9 65.5px,#0000e8 79.5px,#0005ff 83.5px,#0015ff 84.5px)"></i><i style="height:82px;background:linear-gradient(#0082ff 0.5px,#007cff 7.5px,#004cff 10.5px,#0037ff 16.5px,#0003ff 20.5px,#0000ef 28.5px,#0000e5 66.5px,#0000eb 77.5px,#0004ff 80.5px,#0013ff 81.5px)"></i><i style="height:79px;background:linear-gradient(#0082ff 0.5px,#0076ff 6.5px,#0047ff 8.5px,#03f 12.5px,#0000fe 17.5px,#0000f1 73.5px,#0002ff 76.5px,#001dff 78.5px)"></i><i style="height:76px;background:linear-gradient(#006aff 0.5px,#0065ff 9.5px,#004dff 11.5px,#003eff 17.5px,#00f 23.5px,#0000f3 70.5px,#0004ff 73.5px,#001fff 75.5px)"></i><i style="height:73px;background:linear-gradient(#005dff 0.5px,#0050ff 13.5px,#0032ff 17.5px,#0002ff 21.5px,#0000f6 39.5px,#0000f2 67.5px,#0003ff 70.5px,#001eff 72.5px)"></i><i style="height:73px;background:linear-gradient(#0051ff 0.5px,#04f 15.5px,#0008ff 22.5px,#0006ff 69.5px,#0029ff 72.5px)"></i><i style="height:73px;background:linear-gradient(#005cff 0.5px,#0053ff 12.5px,#01f 18.5px,#0007ff 37.5px,#0005ff 68.5px,#002dff 72.5px)"></i><i style="height:70px;background:linear-gradient(#004fff 0.5px,#004aff 12.5px,#01f 19.5px,#0007ff 64.5px,#0023ff 68.5px,#03f 69.5px)"></i><i style="height:67px;background:linear-gradient(#008cff 0.5px,#0087ff 7.5px,#006cff 9.5px,#0052ff 10.5px,#0046ff 16.5px,#0010ff 22.5px,#0006ff 61.5px,#02f 65.5px,#0031ff 66.5px)"></i><i style="height:64px;background:linear-gradient(#0092ff 0.5px,#08f 14.5px,#005fff 17.5px,#0013ff 21.5px,#00f 26.5px,#0007ff 60.5px,#0029ff 63.5px)"></i><i style="height:64px;background:linear-gradient(#0092ff 0.5px,#008bff 10.5px,#0060ff 13.5px,#003eff 17.5px,#0012ff 21.5px,#0004ff 44.5px,#000aff 59.5px,#0031ff 63.5px)"></i><i style="height:64px;background:linear-gradient(#0087ff 0.5px,#007fff 14.5px,#005eff 17.5px,#001bff 21.5px,#0009ff 26.5px,#0006ff 58.5px,#02f 62.5px,#0031ff 63.5px)"></i><i style="height:64px;background:linear-gradient(#0040ff 0.5px,#0035ff 13.5px,#0002ff 20.5px,#0000f9 58.5px,#000aff 61.5px,#0025ff 63.5px)"></i><i style="height:61px;background:linear-gradient(#0087ff 0.5px,#0080ff 9.5px,#0065ff 11.5px,#0053ff 15.5px,#0018ff 20.5px,#000aff 30.5px,#0009ff 55.5px,#0025ff 59.5px,#0035ff 60.5px)"></i><i style="height:61px;background:linear-gradient(#004fff 0.5px,#0045ff 15.5px,#01f 22.5px,#000aff 55.5px,#0025ff 59.5px,#0035ff 60.5px)"></i><i style="height:61px;background:linear-gradient(#07f 0.5px,#0071ff 12.5px,#0040ff 16.5px,#0014ff 20.5px,#0008ff 54.5px,#0025ff 59.5px,#0035ff 60.5px)"></i><i style="height:61px;background:linear-gradient(#0083ff 0.5px,#007aff 11.5px,#0059ff 13.5px,#003fff 14.5px,#0014ff 21.5px,#000dff 55.5px,#0028ff 59.5px,#0038ff 60.5px)"></i><i style="height:61px;background:linear-gradient(#007fff 0.5px,#006dff 16.5px,#001bff 23.5px,#0009ff 51.5px,#0017ff 57.5px,#0039ff 60.5px)"></i><i style="height:61px;background:linear-gradient(#003bff 0.5px,#0032ff 18.5px,#001bff 26.5px,#0017ff 55.5px,#03f 59.5px,#0042ff 60.5px)"></i><i style="height:61px;background:linear-gradient(#0061ff 0.5px,#005bff 10.5px,#0049ff 13.5px,#0038ff 20.5px,#0017ff 26.5px,#01f 55.5px,#002cff 59.5px,#003cff 60.5px)"></i><i style="height:61px;background:linear-gradient(#005aff 0.5px,#0050ff 6.5px,#002bff 9.5px,#001fff 23.5px,#01f 54.5px,#002fff 59.5px,#003fff 60.5px)"></i><i style="height:58px;background:linear-gradient(#008aff 0.5px,#0081ff 5.5px,#0047ff 8.5px,#0039ff 18.5px,#001bff 25.5px,#0018ff 52.5px,#03f 56.5px,#0043ff 57.5px)"></i><i style="height:58px;background:linear-gradient(#00a4ff 0.5px,#0093ff 4.5px,#0042ff 7.5px,#003bff 25.5px,#001aff 33.5px,#0019ff 52.5px,#0035ff 56.5px,#0045ff 57.5px)"></i><i style="height:58px;background:linear-gradient(#0075ff 0.5px,#0063ff 4.5px,#002aff 7.5px,#0020ff 24.5px,#000cff 44.5px,#0015ff 53.5px,#003dff 57.5px)"></i><i style="height:55px;background:linear-gradient(#009eff 0.5px,#0093ff 4.5px,#006cff 6.5px,#0039ff 8.5px,#0026ff 12.5px,#001eff 48.5px,#003dff 53.5px,#004dff 54.5px)"></i><i style="height:55px;background:linear-gradient(#006cff 0.5px,#005cff 8.5px,#0053ff 21.5px,#001fff 28.5px,#0019ff 48.5px,#002cff 52.5px,#0047ff 54.5px)"></i><i style="height:52px;background:linear-gradient(#0af 0.5px,#009dff 2.5px,#0051ff 5.5px,#0049ff 24.5px,#001dff 31.5px,#001dff 46.5px,#003aff 50.5px,#0049ff 51.5px)"></i><i style="height:49px;background:linear-gradient(#0057ff 0.5px,#004bff 5.5px,#0032ff 7.5px,#002bff 26.5px,#0015ff 36.5px,#0025ff 45.5px,#0048ff 48.5px)"></i><i style="height:49px;background:linear-gradient(#0046ff 0.5px,#0036ff 25.5px,#0015ff 32.5px,#0018ff 43.5px,#0035ff 47.5px,#0045ff 48.5px)"></i><i style="height:49px;background:linear-gradient(#003eff 0.5px,#0036ff 9.5px,#0027ff 28.5px,#0010ff 37.5px,#0020ff 45.5px,#0043ff 48.5px)"></i><i style="height:46px;background:linear-gradient(#0040ff 0.5px,#003aff 24.5px,#0015ff 32.5px,#001dff 41.5px,#0036ff 44.5px,#0046ff 45.5px)"></i><i style="height:46px;background:linear-gradient(#005bff 0.5px,#0050ff 10.5px,#0042ff 33.5px,#001dff 39.5px,#002bff 43.5px,#0046ff 45.5px)"></i><i style="height:46px;background:linear-gradient(#004eff 0.5px,#0048ff 28.5px,#001aff 36.5px,#0027ff 42.5px,#004bff 45.5px)"></i><i style="height:46px;background:linear-gradient(#004bff 0.5px,#0046ff 8.5px,#0039ff 12.5px,#03f 30.5px,#0018ff 37.5px,#002dff 43.5px,#0049ff 45.5px)"></i><i style="height:43px;background:linear-gradient(#0041ff 0.5px,#0039ff 30.5px,#001fff 36.5px,#002fff 40.5px,#004bff 42.5px)"></i><i style="height:43px;background:linear-gradient(#05f 0.5px,#004fff 27.5px,#0027ff 35.5px,#003bff 40.5px,#0056ff 42.5px)"></i><i style="height:40px;background:linear-gradient(#04f 0.5px,#003dff 9.5px,#002fff 32.5px,#002dff 36.5px,#004eff 39.5px)"></i><i style="height:40px;background:linear-gradient(#003eff 0.5px,#0034ff 25.5px,#0020ff 32.5px,#0035ff 37.5px,#0051ff 39.5px)"></i><i style="height:37px;background:linear-gradient(#0051ff 0.5px,#04f 30.5px,#0045ff 34.5px,#005dff 36.5px)"></i><i style="height:37px;background:linear-gradient(#0057ff 0.5px,#0062ff 35.5px,#006bff 36.5px)"></i><i style="height:35px;background:linear-gradient(#006aff 0.5px,#0065ff 10.5px,#0041ff 13.5px,#004cff 30.5px,#0064ff 34.5px)"></i></div>
<div class="p" style="left:77px;top:251px"><i style="height:24px;background:linear-gradient(#00faff 0.5px,#00e0ff 18.5px,#05fffa 23.5px)"></i><i style="height:37px;background:linear-gradient(#00faff 0.5px,#00b7ff 29.5px,#0085ff 32.5px,#0098ff 36.5px)"></i><i style="height:38px;background:linear-gradient(#00faff 0.5px,#0bf 20.5px,#008cff 23.5px,#0082ff 30.5px,#0060ff 35.5px,#0072ff 37.5px)"></i><i style="height:39px;background:linear-gradient(#06fff9 0.5px,#0ff 5.5px,#00dfff 7.5px,#004bff 10.5px,#0030ff 11.5px,#001eff 14.5px,#002cff 32.5px,#04f 36.5px,#0062ff 38.5px)"></i><i style="height:40px;background:linear-gradient(#00e7ff 0.5px,#00e3ff 7.5px,#00cbff 9.5px,#007cff 11.5px,#0051ff 12.5px,#002dff 14.5px,#002fff 30.5px,#0045ff 36.5px,#006cff 39.5px)"></i><i style="height:41px;background:linear-gradient(#e6ff19 0.5px,#dcff23 7.5px,#d1ff2e 8.5px,#b6ff49 9.5px,#37ffc8 11.5px,#2fffd0 20.5px,#07fff8 23.5px,#00e8ff 24.5px,#0070ff 27.5px,#003fff 29.5px,#002dff 33.5px,#0045ff 38.5px,#0063ff 40.5px)"></i><i style="height:42px;background:linear-gradient(#fbff04 0.5px,#f6ff09 5.5px,#d5ff2a 7.5px,#a0ff5f 8.5px,#7eff81 9.5px,#16ffe9 17.5px,#00fbff 22.5px,#00cbff 24.5px,#0060ff 27.5px,#0038ff 29.5px,#0029ff 33.5px,#003bff 38.5px,#0061ff 41.5px)"></i><i style="height:43px;background:linear-gradient(#fd0 0.5px,#ffe900 6.5px,#fffc00 7.5px,#d4ff2b 8.5px,#7eff81 9.5px,#23ffdc 16.5px,#18ffe7 21.5px,#0ff 23.5px,#00c7ff 25.5px,#0054ff 28.5px,#002dff 30.5px,#001fff 34.5px,#003bff 40.5px,#0058ff 42.5px)"></i><i style="height:44px;background:linear-gradient(#f8ff07 0.5px,#edff12 4.5px,#dcff23 5.5px,#7dff82 7.5px,#14ffeb 13.5px,#00f7ff 18.5px,#00c6ff 20.5px,#0057ff 23.5px,#002eff 25.5px,#001cff 30.5px,#002eff 39.5px,#005bff 43.5px)"></i><i style="height:45px;background:linear-gradient(#fff600 0.5px,#f9ff06 7.5px,#e0ff1f 8.5px,#a9ff56 9.5px,#4fb 10.5px,#00c8ff 11.5px,#0067ff 12.5px,#0032ff 13.5px,#0014ff 15.5px,#001fff 37.5px,#003aff 42.5px,#0057ff 44.5px)"></i><i style="height:46px;background:linear-gradient(#ffe900 0.5px,#fffb00 4.5px,#e5ff1a 5.5px,#a4ff5b 6.5px,#35ffca 7.5px,#00b5ff 8.5px,#0058ff 9.5px,#0029ff 10.5px,#000eff 12.5px,#001cff 38.5px,#0036ff 43.5px,#0054ff 45.5px)"></i><i style="height:47px;background:linear-gradient(#fff400 0.5px,#fcff03 4.5px,#e5ff1a 5.5px,#afff50 6.5px,#4cffb3 7.5px,#00cdff 8.5px,#06f 9.5px,#002eff 10.5px,#0015ff 11.5px,#0007ff 15.5px,#001fff 41.5px,#003fff 45.5px,#0050ff 46.5px)"></i><i style="height:49px;background:linear-gradient(#ff7500 0.5px,#ff7500 1.5px,#fff000 6.5px,#f5ff0a 7.5px,#5cffa3 13.5px,#1fe 15.5px,#00d0ff 16.5px,#01f 18.5px,#001eff 42.5px,#0042ff 47.5px,#0053ff 48.5px)"></i><i style="height:50px;background:linear-gradient(#ff7500 0.5px,#ff7500 1.5px,#f80 2.5px,#ff9300 8.5px,#ffa500 9.5px,#ffd000 10.5px,#d3ff2c 11.5px,#37ffc8 19.5px,#1affe5 20.5px,#00efff 21.5px,#00abff 22.5px,#0056ff 23.5px,#0026ff 25.5px,#0010ff 29.5px,#001fff 44.5px,#003fff 48.5px,#0050ff 49.5px)"></i><i style="height:52px;background:linear-gradient(#ff7500 0.5px,#ff7500 1.5px,#ff8e00 3.5px,#ff9700 6.5px,#ffa600 7.5px,#f6ff09 9.5px,#61ff9e 17.5px,#4affb5 21.5px,#2fd 23.5px,#00fcff 24.5px,#0068ff 27.5px,#002cff 29.5px,#01f 32.5px,#0018ff 45.5px,#003cff 50.5px,#004cff 51.5px)"></i><i style="height:53px;background:linear-gradient(#ff7500 0.5px,#ff8300 7.5px,#ff9100 8.5px,#ffb400 9.5px,#fcff03 10.5px,#92ff6d 11.5px,#3cffc3 14.5px,#1fe 15.5px,#00d0ff 16.5px,#008eff 17.5px,#0046ff 19.5px,#0021ff 21.5px,#01f 26.5px,#0024ff 47.5px,#0043ff 51.5px,#0053ff 52.5px)"></i><i style="height:54px;background:linear-gradient(#ffe700 0.5px,#ffed00 5.5px,#fff900 6.5px,#e9ff16 7.5px,#a9ff56 8.5px,#5affa5 9.5px,#53ffac 18.5px,#2fffd0 21.5px,#12ffed 22.5px,#00e6ff 23.5px,#0052ff 26.5px,#001dff 28.5px,#0005ff 32.5px,#0013ff 48.5px,#0032ff 52.5px,#0042ff 53.5px)"></i><i style="height:56px;background:linear-gradient(#e0ff1f 0.5px,#d2ff2d 4.5px,#bdff42 5.5px,#8aff75 6.5px,#2dffd2 7.5px,#00b5ff 8.5px,#0079ff 9.5px,#0063ff 14.5px,#0012ff 19.5px,#0001ff 24.5px,#0014ff 50.5px,#0032ff 54.5px,#0042ff 55.5px)"></i><i style="height:57px;background:linear-gradient(#b2ff4d 0.5px,#b1ff4e 1.5px,#9aff65 2.5px,#8cff73 6.5px,#7fff80 7.5px,#60ff9f 8.5px,#1fffe0 9.5px,#00beff 10.5px,#0060ff 11.5px,#0025ff 12.5px,#000aff 13.5px,#0000f9 16.5px,#000eff 50.5px,#002eff 55.5px,#003eff 56.5px)"></i><i style="height:58px;background:linear-gradient(#53ffac 0.5px,#46ffb9 5.5px,#32ffcd 6.5px,#06fff9 7.5px,#00bcff 8.5px,#0069ff 9.5px,#002fff 10.5px,#01f 11.5px,#00f 15.5px,#0016ff 52.5px,#03f 56.5px,#0043ff 57.5px)"></i><i style="height:59px;background:linear-gradient(#37ffc8 0.5px,#2dffd2 4.5px,#00f8ff 6.5px,#006aff 8.5px,#002eff 9.5px,#000fff 10.5px,#0000fc 12.5px,#01f 53.5px,#002eff 57.5px,#003eff 58.5px)"></i><i style="height:61px;background:linear-gradient(#30ffcf 0.5px,#27ffd8 5.5px,#00f5ff 7.5px,#00b7ff 8.5px,#0069ff 9.5px,#002cff 10.5px,#0007ff 12.5px,#0000f8 23.5px,#0008ff 55.5px,#0025ff 59.5px,#0035ff 60.5px)"></i><i style="height:62px;background:linear-gradient(#2fd 0.5px,#1bffe4 6.5px,#00f5ff 8.5px,#00c2ff 9.5px,#003cff 11.5px,#0017ff 12.5px,#00f 14.5px,#000eff 56.5px,#002bff 60.5px,#003aff 61.5px)"></i><i style="height:63px;background:linear-gradient(#19ffe6 0.5px,#15ffea 7.5px,#00faff 9.5px,#00d3ff 10.5px,#0053ff 12.5px,#0027ff 13.5px,#000aff 15.5px,#0014ff 57.5px,#0030ff 61.5px,#003fff 62.5px)"></i><i style="height:64px;background:linear-gradient(#18ffe7 0.5px,#0ffff0 4.5px,#0ff 5.5px,#00deff 6.5px,#0062ff 8.5px,#0031ff 9.5px,#0017ff 10.5px,#0008ff 14.5px,#0017ff 58.5px,#03f 62.5px,#0043ff 63.5px)"></i><i style="height:66px;background:linear-gradient(#1fe 0.5px,#00f9ff 4.5px,#00d8ff 5.5px,#005bff 7.5px,#0028ff 8.5px,#000eff 9.5px,#0000fd 13.5px,#000bff 60.5px,#0027ff 64.5px,#0037ff 65.5px)"></i><i style="height:67px;background:linear-gradient(#52ffad 0.5px,#4dffb2 6.5px,#2effd1 8.5px,#00feff 9.5px,#0064ff 11.5px,#002eff 12.5px,#0015ff 13.5px,#0005ff 17.5px,#01f 62.5px,#0039ff 66.5px)"></i><i style="height:69px;background:linear-gradient(#07fff8 0.5px,#00fdff 6.5px,#00f0ff 7.5px,#00d1ff 8.5px,#005dff 10.5px,#002eff 11.5px,#0015ff 12.5px,#0008ff 18.5px,#000dff 63.5px,#0028ff 67.5px,#0038ff 68.5px)"></i><i style="height:72px;background:linear-gradient(#0ff 0.5px,#00f7ff 5.5px,#00e9ff 6.5px,#00caff 7.5px,#0056ff 9.5px,#0029ff 10.5px,#01f 11.5px,#0003ff 15.5px,#0006ff 66.5px,#02f 70.5px,#0031ff 71.5px)"></i><i style="height:74px;background:linear-gradient(#08fff7 0.5px,#01fffe 6.5px,#00f4ff 7.5px,#00d8ff 8.5px,#0035ff 11.5px,#0021ff 12.5px,#000aff 19.5px,#0008ff 68.5px,#0023ff 72.5px,#0032ff 73.5px)"></i><i style="height:77px;background:linear-gradient(#0afff5 0.5px,#00fbff 7.5px,#00e6ff 8.5px,#0bf 9.5px,#0043ff 11.5px,#001fff 12.5px,#0008ff 14.5px,#0003ff 72.5px,#002bff 76.5px)"></i><i style="height:80px;background:linear-gradient(#19ffe6 0.5px,#0ffff0 8.5px,#00feff 9.5px,#00dcff 10.5px,#005eff 12.5px,#002dff 13.5px,#000aff 15.5px,#0000f7 68.5px,#0004ff 76.5px,#0026ff 79.5px)"></i><i style="height:82px;background:linear-gradient(#36ffc9 0.5px,#2fffd0 5.5px,#0bfff4 7.5px,#00d6ff 8.5px,#0047ff 10.5px,#001dff 11.5px,#0002ff 13.5px,#0000f6 60.5px,#0000f2 76.5px,#0003ff 79.5px,#001dff 81.5px)"></i><i style="height:85px;background:linear-gradient(#3bffc4 0.5px,#32ffcd 7.5px,#24ffdb 8.5px,#04fffb 9.5px,#00c8ff 10.5px,#007cff 11.5px,#003fff 12.5px,#001eff 13.5px,#0009ff 16.5px,#0000f7 67.5px,#0000f6 79.5px,#0007ff 82.5px,#02f 84.5px)"></i><i style="height:88px;background:linear-gradient(#1dffe2 0.5px,#14ffeb 5.5px,#07fff8 6.5px,#00e6ff 7.5px,#0030ff 10.5px,#0004ff 16.5px,#0000f5 60.5px,#0000e9 81.5px,#0007ff 86.5px,#0017ff 87.5px)"></i><i style="height:90px;background:linear-gradient(#00e4ff 0.5px,#0df 5.5px,#00b7ff 7.5px,#0028ff 10.5px,#0012ff 11.5px,#0006ff 22.5px,#0000f6 63.5px,#0000eb 83.5px,#0000fe 87.5px,#001aff 89.5px)"></i><i style="height:93px;background:linear-gradient(#20ffdf 0.5px,#18ffe7 6.5px,#0afff5 7.5px,#00eaff 8.5px,#0031ff 11.5px,#0001ff 21.5px,#0000ed 63.5px,#0000e0 86.5px,#00f 91.5px,#0010ff 92.5px)"></i><i style="height:96px;background:linear-gradient(#00fbff 0.5px,#00f5ff 4.5px,#00d3ff 6.5px,#00a5ff 7.5px,#0092ff 13.5px,#0062ff 16.5px,#0020ff 19.5px,#0006ff 23.5px,#0000f2 62.5px,#0000e2 89.5px,#0002ff 94.5px,#0012ff 95.5px)"></i><i style="height:101px;background:linear-gradient(#0bfff4 0.5px,#02fffd 4.5px,#00f4ff 5.5px,#00b2ff 7.5px,#00abff 16.5px,#0089ff 19.5px,#0025ff 23.5px,#0005ff 26.5px,#0000e1 73.5px,#0000df 93.5px,#0004ff 99.5px,#0013ff 100.5px)"></i><i style="height:105px;background:linear-gradient(#00fbff 0.5px,#00f0ff 7.5px,#00e0ff 8.5px,#00bdff 9.5px,#08f 10.5px,#0079ff 17.5px,#004aff 20.5px,#0013ff 23.5px,#0000fd 27.5px,#0000dc 85.5px,#0008ff 97.5px,#0030ff 104.5px)"></i><i style="height:109px;background:linear-gradient(#1affe5 0.5px,#13ffec 3.5px,#07fff8 4.5px,#00eaff 5.5px,#007fff 7.5px,#0076ff 20.5px,#0056ff 23.5px,#000fff 27.5px,#0000fb 31.5px,#00d 82.5px,#0000fe 89.5px,#0062ff 99.5px,#0060ff 104.5px,#0050ff 108.5px)"></i><i style="height:112px;background:linear-gradient(#03fffc 0.5px,#00f7ff 6.5px,#00e6ff 7.5px,#009eff 9.5px,#0094ff 23.5px,#0070ff 26.5px,#0016ff 30.5px,#0000fd 33.5px,#00d 81.5px,#0005ff 88.5px,#008fff 98.5px,#009cff 102.5px,#006cff 107.5px,#0048ff 111.5px)"></i><i style="height:89px;background:linear-gradient(#1dffe2 0.5px,#16ffe9 5.5px,#09fff6 6.5px,#00ebff 7.5px,#00b5ff 8.5px,#00a0ff 9.5px,#0098ff 19.5px,#0076ff 22.5px,#0018ff 26.5px,#0000fc 29.5px,#0000db 80.5px,#0000f5 85.5px,#01f 87.5px,#0024ff 88.5px)"></i><i style="height:79px;background:linear-gradient(#16ffe9 0.5px,#0efff1 5.5px,#01fffe 6.5px,#00e3ff 7.5px,#00aeff 8.5px,#009aff 23.5px,#006bff 26.5px,#0021ff 29.5px,#0002ff 32.5px,#0000e5 72.5px,#0005ff 77.5px,#0015ff 78.5px)"></i><i style="height:79px;background:linear-gradient(#05fffa 0.5px,#00fbff 4.5px,#00edff 5.5px,#00cdff 6.5px,#00bdff 7.5px,#00b3ff 19.5px,#0089ff 22.5px,#0017ff 26.5px,#0000fa 28.5px,#0000e9 38.5px,#0000d7 72.5px,#0000f6 77.5px,#0006ff 78.5px)"></i><i style="height:79px;background:linear-gradient(#0afff5 0.5px,#02fffd 3.5px,#00f5ff 4.5px,#00d7ff 5.5px,#06f 7.5px,#005fff 21.5px,#0043ff 24.5px,#00f 28.5px,#0000e9 34.5px,#0000c8 78.5px)"></i><i style="height:141px;background:linear-gradient(#19ffe6 0.5px,#0efff1 5.5px,#00fbff 6.5px,#00d5ff 7.5px,#00a0ff 8.5px,#0098ff 19.5px,#0074ff 22.5px,#0015ff 26.5px,#0000fe 28.5px,#00e 40.5px,#0000c7 105.5px,#0000d1 140.5px)"></i><i style="height:141px;background:linear-gradient(#00fcff 0.5px,#00f5ff 4.5px,#00eaff 5.5px,#00cfff 6.5px,#009dff 7.5px,#0090ff 20.5px,#006cff 23.5px,#000dff 27.5px,#0000f5 29.5px,#0000e1 49.5px,#0000c1 102.5px,#0000ca 140.5px)"></i><i style="height:141px;background:linear-gradient(#16ffe9 0.5px,#0dfff2 5.5px,#00fdff 6.5px,#00dcff 7.5px,#00a0ff 8.5px,#0096ff 16.5px,#0073ff 19.5px,#000aff 23.5px,#0000e7 26.5px,#0000b5 98.5px,#0000bf 140.5px)"></i><i style="height:141px;background:linear-gradient(#00fdff 0.5px,#00f3ff 6.5px,#00e2ff 7.5px,#00a2ff 9.5px,#0096ff 18.5px,#0069ff 21.5px,#0004ff 25.5px,#0000e6 30.5px,#0000bd 100.5px,#0000c6 140.5px)"></i><i style="height:141px;background:linear-gradient(#0ff 0.5px,#00f5ff 5.5px,#00e6ff 6.5px,#00c3ff 7.5px,#00b8ff 9.5px,#00b0ff 21.5px,#008fff 24.5px,#0003ff 29.5px,#0000e2 33.5px,#0000b9 99.5px,#0000c3 140.5px)"></i><i style="height:141px;background:linear-gradient(#06fff9 0.5px,#00f7ff 5.5px,#00e2ff 6.5px,#00b6ff 7.5px,#00acff 10.5px,#00a3ff 20.5px,#007dff 23.5px,#0006ff 27.5px,#0000dc 30.5px,#0000b2 80.5px,#0000b6 138.5px,#0000b7 140.5px)"></i><i style="height:141px;background:linear-gradient(#0dfff2 0.5px,#00faff 7.5px,#00dfff 8.5px,#00abff 9.5px,#009cff 10.5px,#008eff 16.5px,#005aff 19.5px,#0007ff 22.5px,#0000de 26.5px,#0000b3 97.5px,#0000bc 140.5px)"></i><i style="height:141px;background:linear-gradient(#00f7ff 0.5px,#00f0ff 5.5px,#00e4ff 6.5px,#00a0ff 8.5px,#09f 20.5px,#007bff 23.5px,#000eff 27.5px,#0000ea 29.5px,#0000d6 34.5px,#0000b3 99.5px,#0000bc 140.5px)"></i><i style="height:141px;background:linear-gradient(#00e9ff 0.5px,#00e1ff 5.5px,#00d4ff 6.5px,#00a0ff 8.5px,#0096ff 21.5px,#006eff 24.5px,#00f 28.5px,#0000de 31.5px,#0000b6 91.5px,#0000be 140.5px)"></i><i style="height:141px;background:linear-gradient(#00f3ff 0.5px,#00e9ff 6.5px,#00dbff 7.5px,#009aff 9.5px,#008fff 18.5px,#0062ff 21.5px,#000eff 24.5px,#0000eb 26.5px,#0000d6 32.5px,#0000b6 97.5px,#0000be 140.5px)"></i><i style="height:141px;background:linear-gradient(#00c0ff 0.5px,#00b9ff 18.5px,#009cff 21.5px,#0040ff 24.5px,#0002ff 26.5px,#0000da 29.5px,#0000b8 69.5px,#0000b8 137.5px,#0000b9 140.5px)"></i><i style="height:141px;background:linear-gradient(#00fdff 0.5px,#00f4ff 9.5px,#00e6ff 10.5px,#00c5ff 11.5px,#008bff 12.5px,#006dff 13.5px,#0060ff 18.5px,#03f 21.5px,#0005ff 23.5px,#0000d9 27.5px,#0000b4 89.5px,#00b 140.5px)"></i><i style="height:141px;background:linear-gradient(#00bcff 0.5px,#00b8ff 8.5px,#009fff 10.5px,#007bff 11.5px,#0071ff 19.5px,#004dff 22.5px,#0002ff 25.5px,#0000d6 28.5px,#0000c3 42.5px,#0000ad 98.5px,#0000b3 140.5px)"></i><i style="height:141px;background:linear-gradient(#00e3ff 0.5px,#00dbff 5.5px,#00b7ff 7.5px,#00aeff 17.5px,#0086ff 20.5px,#0001ff 24.5px,#0000d9 26.5px,#0000c3 31.5px,#0000a7 95.5px,#0000ad 140.5px)"></i><i style="height:141px;background:linear-gradient(#00bfff 0.5px,#00b7ff 5.5px,#00abff 6.5px,#008fff 7.5px,#0085ff 15.5px,#005cff 18.5px,#0004ff 21.5px,#0000cf 24.5px,#0000bd 32.5px,#0000a4 96.5px,#0000a9 140.5px)"></i><i style="height:141px;background:linear-gradient(#00ceff 0.5px,#00c3ff 7.5px,#00b2ff 8.5px,#008dff 9.5px,#0081ff 11.5px,#006dff 16.5px,#002dff 19.5px,#0000f5 21.5px,#0000cd 24.5px,#0000b7 46.5px,#0000a7 104.5px,#0000ac 140.5px)"></i><i style="height:141px;background:linear-gradient(#0bf 0.5px,#00b5ff 7.5px,#0093ff 9.5px,#0080ff 10.5px,#0067ff 14.5px,#001dff 17.5px,#0000fe 18.5px,#0000c6 21.5px,#0000b3 29.5px,#00009a 94.5px,#00009e 140.5px)"></i><i style="height:141px;background:linear-gradient(#00bdff 0.5px,#00b8ff 6.5px,#009cff 8.5px,#0073ff 9.5px,#0038ff 10.5px,#0020ff 11.5px,#0010ff 16.5px,#0000f7 18.5px,#0000c8 22.5px,#0000b3 43.5px,#0000a4 100.5px,#0000a7 140.5px)"></i><i style="height:141px;background:linear-gradient(#00a0ff 0.5px,#009aff 9.5px,#005cff 13.5px,#0000fd 16.5px,#0000d0 18.5px,#0000b7 22.5px,#00009b 90.5px,#00009e 140.5px)"></i><i style="height:141px;background:linear-gradient(#007eff 0.5px,#0078ff 8.5px,#0059ff 10.5px,#0032ff 11.5px,#0000f9 16.5px,#0000c3 20.5px,#0000af 35.5px,#00009f 99.5px,#0000a0 140.5px)"></i><i style="height:141px;background:linear-gradient(#00acff 0.5px,#00a8ff 8.5px,#008fff 10.5px,#006bff 11.5px,#0034ff 12.5px,#00f 15.5px,#0000c8 19.5px,#0000b5 29.5px,#0000a2 97.5px,#0000a3 140.5px)"></i><i style="height:141px;background:linear-gradient(#0091ff 0.5px,#008bff 6.5px,#006cff 8.5px,#004cff 9.5px,#001fff 12.5px,#0007ff 13.5px,#0000c8 17.5px,#0000b2 39.5px,#0000a6 107.5px,#0000a5 140.5px)"></i><i style="height:141px;background:linear-gradient(#008aff 0.5px,#007fff 6.5px,#006fff 7.5px,#004eff 8.5px,#001cff 9.5px,#0000fe 11.5px,#0000be 16.5px,#0000ab 25.5px,#000098 95.5px,#000097 140.5px)"></i><i style="height:141px;background:linear-gradient(#0082ff 0.5px,#0075ff 6.5px,#0063ff 7.5px,#0040ff 8.5px,#002dff 9.5px,#0017ff 12.5px,#0000f3 14.5px,#0000c4 17.5px,#0000af 24.5px,#00009c 93.5px,#00009b 140.5px)"></i><i style="height:141px;background:linear-gradient(#00b3ff 0.5px,#00aeff 6.5px,#0091ff 8.5px,#003dff 10.5px,#001dff 14.5px,#0000f5 16.5px,#0000c4 19.5px,#0000af 26.5px,#00009f 95.5px,#00009c 140.5px)"></i><i style="height:130px;background:linear-gradient(#0078ff 0.5px,#0072ff 5.5px,#0054ff 7.5px,#0000fe 9.5px,#00b 14.5px,#0000a6 34.5px,#00009a 129.5px)"></i><i style="height:141px;background:linear-gradient(#0084ff 0.5px,#007cff 6.5px,#0071ff 7.5px,#0057ff 8.5px,#0000f8 10.5px,#0000c1 14.5px,#0000ae 25.5px,#0000a1 101.5px,#00009b 140.5px)"></i><i style="height:141px;background:linear-gradient(#005fff 0.5px,#005aff 6.5px,#003eff 8.5px,#0002ff 10.5px,#0000be 13.5px,#0000a5 18.5px,#000094 87.5px,#000094 140.5px)"></i><i style="height:141px;background:linear-gradient(#008fff 0.5px,#0086ff 8.5px,#0078ff 9.5px,#005aff 10.5px,#0000f4 12.5px,#0000d0 13.5px,#0000b4 15.5px,#00009d 66.5px,#000096 140.5px)"></i><i style="height:141px;background:linear-gradient(#005fff 0.5px,#0059ff 6.5px,#003eff 8.5px,#0000fe 10.5px,#0000c4 13.5px,#0000ae 18.5px,#00009e 88.5px,#000096 140.5px)"></i><i style="height:141px;background:linear-gradient(#002eff 0.5px,#0023ff 6.5px,#0000f9 8.5px,#0000da 9.5px,#0000ae 17.5px,#00009c 74.5px,#000094 140.5px)"></i><i style="height:141px;background:linear-gradient(#0094ff 0.5px,#008eff 6.5px,#006aff 8.5px,#003eff 9.5px,#0001ff 12.5px,#0000bd 16.5px,#00a 24.5px,#000097 140.5px)"></i><i style="height:141px;background:linear-gradient(#0040ff 0.5px,#003bff 7.5px,#001eff 9.5px,#0006ff 10.5px,#00b 13.5px,#0000a5 17.5px,#000098 82.5px,#000094 140.5px)"></i><i style="height:141px;background:linear-gradient(#0067ff 0.5px,#0062ff 7.5px,#0046ff 9.5px,#0000f5 11.5px,#0000d0 12.5px,#0000b6 14.5px,#0000a4 31.5px,#000095 137.5px,#000094 140.5px)"></i><i style="height:141px;background:linear-gradient(#0050ff 0.5px,#0045ff 6.5px,#0015ff 8.5px,#0000eb 9.5px,#0000b1 13.5px,#00009f 22.5px,#000094 140.5px)"></i><i style="height:141px;background:linear-gradient(#04f 0.5px,#003fff 7.5px,#0025ff 9.5px,#0005ff 10.5px,#0000d1 12.5px,#0000ab 16.5px,#00009d 60.5px,#000094 140.5px)"></i><i style="height:141px;background:linear-gradient(#0027ff 0.5px,#02f 8.5px,#0007ff 10.5px,#0000b4 15.5px,#00009f 21.5px,#000094 140.5px)"></i><i style="height:141px;background:linear-gradient(#0025ff 0.5px,#001fff 7.5px,#0004ff 9.5px,#0000b5 13.5px,#0000a3 20.5px,#000095 120.5px,#000094 140.5px)"></i><i style="height:141px;background:linear-gradient(#002fff 0.5px,#0025ff 7.5px,#0000fa 9.5px,#0000af 15.5px,#00009e 32.5px,#000096 117.5px,#000094 140.5px)"></i><i style="height:141px;background:linear-gradient(#001eff 0.5px,#0015ff 6.5px,#0000f7 8.5px,#0000b1 11.5px,#00009d 15.5px,#000094 140.5px)"></i><i style="height:141px;background:linear-gradient(#001bff 0.5px,#0016ff 9.5px,#0004ff 11.5px,#0000b1 16.5px,#00009e 22.5px,#000094 140.5px)"></i><i style="height:141px;background:linear-gradient(#001bff 0.5px,#0013ff 4.5px,#0000fc 6.5px,#0000b7 10.5px,#0000a1 15.5px,#000094 140.5px)"></i><i style="height:141px;background:linear-gradient(#0008ff 0.5px,#0000f8 8.5px,#0000a9 14.5px,#00009b 30.5px,#000096 109.5px,#000094 140.5px)"></i><i style="height:141px;background:linear-gradient(#0000fe 0.5px,#0000f8 8.5px,#0000a8 14.5px,#009 29.5px,#000095 108.5px,#000094 140.5px)"></i><i style="height:141px;background:linear-gradient(#0021ff 0.5px,#0015ff 7.5px,#0000f6 11.5px,#0000b4 16.5px,#0000a5 25.5px,#0000a0 107.5px,#000094 140.5px)"></i><i style="height:141px;background:linear-gradient(#001dff 0.5px,#0015ff 11.5px,#0002ff 13.5px,#0000b0 18.5px,#00009f 25.5px,#00009b 105.5px,#000094 140.5px)"></i><i style="height:141px;background:linear-gradient(#0000fd 0.5px,#0000ed 8.5px,#0000b0 14.5px,#0000a5 36.5px,#0000a3 102.5px,#000094 139.5px,#000094 140.5px)"></i><i style="height:141px;background:linear-gradient(#0001ff 0.5px,#0000f8 9.5px,#0000ae 14.5px,#00009e 22.5px,#00009c 100.5px,#000094 140.5px)"></i><i style="height:141px;background:linear-gradient(#0000e7 0.5px,#0000df 8.5px,#00a 12.5px,#00009c 22.5px,#00009b 98.5px,#000094 140.5px)"></i><i style="height:141px;background:linear-gradient(#000dff 0.5px,#0008ff 8.5px,#0000e8 11.5px,#0000af 15.5px,#0000a0 24.5px,#0000a0 97.5px,#000094 135.5px,#000094 140.5px)"></i><i style="height:141px;background:linear-gradient(#001dff 0.5px,#0012ff 10.5px,#0000f6 12.5px,#0000b0 16.5px,#00009d 22.5px,#00009d 95.5px,#000094 140.5px)"></i><i style="height:141px;background:linear-gradient(#0028ff 0.5px,#001dff 10.5px,#0007ff 12.5px,#0000b6 17.5px,#0000a8 25.5px,#0000a8 95.5px,#000094 133.5px,#000094 140.5px)"></i><i style="height:141px;background:linear-gradient(#0000f5 0.5px,#0000f0 7.5px,#0000ac 12.5px,#00009e 22.5px,#0000a1 90.5px,#000094 131.5px,#000094 140.5px)"></i><i style="height:141px;background:linear-gradient(#003aff 0.5px,#0035ff 8.5px,#0019ff 10.5px,#0000f8 11.5px,#0000be 13.5px,#0000a5 16.5px,#0000a3 92.5px,#000094 129.5px,#000094 140.5px)"></i><i style="height:141px;background:linear-gradient(#08f 0.5px,#0081ff 4.5px,#005dff 6.5px,#0000f5 8.5px,#0000a2 17.5px,#00009c 93.5px,#000094 140.5px)"></i><i style="height:141px;background:linear-gradient(#0083ff 0.5px,#007bff 6.5px,#006fff 7.5px,#0054ff 8.5px,#0025ff 9.5px,#0000ec 10.5px,#0000d3 11.5px,#0000a4 16.5px,#00009e 35.5px,#00009e 89.5px,#000094 135.5px,#000094 140.5px)"></i><i style="height:141px;background:linear-gradient(#006aff 0.5px,#0065ff 6.5px,#0049ff 8.5px,#0000f4 10.5px,#0000cb 11.5px,#0000a6 13.5px,#00009f 30.5px,#0000a2 83.5px,#000094 125.5px,#000094 140.5px)"></i><i style="height:141px;background:linear-gradient(#0073ff 0.5px,#006aff 5.5px,#005dff 6.5px,#0041ff 7.5px,#0012ff 8.5px,#0000f6 9.5px,#0000c2 11.5px,#0000a4 14.5px,#0000a1 87.5px,#000094 123.5px,#000094 140.5px)"></i><i style="height:141px;background:linear-gradient(#0016ff 0.5px,#000eff 6.5px,#0000f3 8.5px,#0000ae 11.5px,#00009f 17.5px,#0000a7 76.5px,#000094 120.5px,#000094 140.5px)"></i><i style="height:141px;background:linear-gradient(#00f 0.5px,#0000f8 7.5px,#0000a4 14.5px,#00009b 26.5px,#0000a0 78.5px,#000094 121.5px,#000094 140.5px)"></i><i style="height:141px;background:linear-gradient(#000dff 0.5px,#0000fb 9.5px,#0000a8 14.5px,#000096 20.5px,#00009c 76.5px,#000094 140.5px)"></i><i style="height:141px;background:linear-gradient(#0003ff 0.5px,#0000fb 8.5px,#0000c8 12.5px,#0000a1 15.5px,#000094 24.5px,#000098 76.5px,#000094 140.5px)"></i><i style="height:141px;background:linear-gradient(#001fff 0.5px,#0014ff 9.5px,#0000f3 11.5px,#0000a7 15.5px,#000096 20.5px,#00009d 72.5px,#000094 139.5px,#000094 140.5px)"></i><i style="height:141px;background:linear-gradient(#0018ff 0.5px,#0010ff 6.5px,#0000f8 10.5px,#00a 15.5px,#000098 21.5px,#00009f 71.5px,#000094 123.5px,#000094 140.5px)"></i><i style="height:141px;background:linear-gradient(#0024ff 0.5px,#001eff 7.5px,#0008ff 9.5px,#0000a8 14.5px,#000098 20.5px,#0000a0 69.5px,#000094 117.5px,#000094 140.5px)"></i><i style="height:141px;background:linear-gradient(#001aff 0.5px,#000aff 6.5px,#0000f9 7.5px,#0000b3 10.5px,#009 14.5px,#00009e 72.5px,#000094 122.5px,#000094 140.5px)"></i><i style="height:141px;background:linear-gradient(#0008ff 0.5px,#0000f8 9.5px,#0000a9 14.5px,#000098 19.5px,#00009f 68.5px,#000094 114.5px,#000094 140.5px)"></i><i style="height:141px;background:linear-gradient(#0000de 0.5px,#0000d7 10.5px,#0000a3 16.5px,#0000a7 49.5px,#000094 113.5px,#000094 140.5px)"></i><i style="height:141px;background:linear-gradient(#000cff 0.5px,#0001ff 7.5px,#0000a9 12.5px,#0000a1 24.5px,#0000a8 65.5px,#000094 108.5px,#000094 140.5px)"></i><i style="height:141px;background:linear-gradient(#0007ff 0.5px,#0000f6 8.5px,#0000a7 13.5px,#0000a2 28.5px,#0000a6 66.5px,#000094 106.5px,#000094 140.5px)"></i><i style="height:141px;background:linear-gradient(#0030ff 0.5px,#002aff 9.5px,#0000f6 13.5px,#00b 16.5px,#0000a4 20.5px,#0000a7 66.5px,#000094 107.5px,#000094 140.5px)"></i><i style="height:141px;background:linear-gradient(#0012ff 0.5px,#000aff 11.5px,#0000f4 13.5px,#0000b5 17.5px,#0000a3 23.5px,#0000a8 65.5px,#000094 105.5px,#000094 140.5px)"></i><i style="height:141px;background:linear-gradient(#0000ed 0.5px,#0000df 8.5px,#0000ae 13.5px,#0000b2 49.5px,#000094 110.5px,#000094 140.5px)"></i><i style="height:141px;background:linear-gradient(#004dff 0.5px,#0045ff 6.5px,#001eff 8.5px,#0000f6 9.5px,#0000bd 11.5px,#0000a6 14.5px,#00a 65.5px,#000094 104.5px,#000094 140.5px)"></i><i style="height:141px;background:linear-gradient(#0076ff 0.5px,#0071ff 8.5px,#0053ff 10.5px,#0000fe 12.5px,#0000d7 13.5px,#0000b2 15.5px,#0000ad 28.5px,#0000ad 67.5px,#000094 105.5px,#000094 140.5px)"></i><i style="height:141px;background:linear-gradient(#0087ff 0.5px,#0081ff 8.5px,#0063ff 10.5px,#0005ff 12.5px,#0000c0 14.5px,#0000ae 17.5px,#0000b1 64.5px,#000094 107.5px,#000094 140.5px)"></i><i style="height:141px;background:linear-gradient(#007fff 0.5px,#0074ff 7.5px,#0063ff 8.5px,#0042ff 9.5px,#01f 10.5px,#0000e1 11.5px,#0000bc 13.5px,#0000b0 20.5px,#0000b5 61.5px,#000094 109.5px,#000094 140.5px)"></i><i style="height:141px;background:linear-gradient(#005cff 0.5px,#0054ff 6.5px,#002cff 8.5px,#000bff 9.5px,#0000fa 11.5px,#0000be 16.5px,#0000b9 31.5px,#0000b6 65.5px,#000094 111.5px,#000094 140.5px)"></i><i style="height:141px;background:linear-gradient(#000cff 0.5px,#0000fb 8.5px,#0000bd 12.5px,#0000b2 18.5px,#0000b6 62.5px,#000094 108.5px,#000094 140.5px)"></i><i style="height:141px;background:linear-gradient(#0003ff 0.5px,#0000fa 6.5px,#0000b8 11.5px,#0000b5 63.5px,#000094 108.5px,#000094 140.5px)"></i><i style="height:141px;background:linear-gradient(#0015ff 0.5px,#0010ff 11.5px,#0001ff 13.5px,#0000bc 18.5px,#0000ae 25.5px,#0000ac 63.5px,#000094 99.5px,#000094 140.5px)"></i><i style="height:141px;background:linear-gradient(#0000fb 0.5px,#0000f3 7.5px,#0000bd 12.5px,#0000b6 24.5px,#0000b5 62.5px,#000094 106.5px,#000094 140.5px)"></i><i style="height:141px;background:linear-gradient(#002fff 0.5px,#0026ff 10.5px,#00f 13.5px,#0000c7 17.5px,#0000bf 27.5px,#0000b9 64.5px,#000094 113.5px,#000094 140.5px)"></i><i style="height:131px;background:linear-gradient(#0015ff 0.5px,#0009ff 7.5px,#0000f8 8.5px,#0000bc 11.5px,#0000ae 16.5px,#0000ae 61.5px,#000094 99.5px,#000094 130.5px)"></i><i style="height:131px;background:linear-gradient(#002cff 0.5px,#02f 8.5px,#0000f7 12.5px,#0000bc 16.5px,#0000b2 26.5px,#0000ac 63.5px,#000094 98.5px,#000094 130.5px)"></i><i style="height:141px;background:linear-gradient(#004fff 0.5px,#0046ff 4.5px,#000dff 7.5px,#0000de 9.5px,#0000ba 12.5px,#0000b0 63.5px,#000094 101.5px,#000094 140.5px)"></i><i style="height:141px;background:linear-gradient(#006fff 0.5px,#0068ff 6.5px,#0047ff 8.5px,#0003ff 10.5px,#0000cf 12.5px,#0000bc 16.5px,#0000b8 61.5px,#000094 108.5px,#000094 140.5px)"></i><i style="height:141px;background:linear-gradient(#0075ff 0.5px,#006bff 6.5px,#005cff 7.5px,#01f 9.5px,#0000eb 10.5px,#0000c6 12.5px,#0000bd 20.5px,#0000b7 61.5px,#000094 107.5px,#000094 140.5px)"></i><i style="height:141px;background:linear-gradient(#0068ff 0.5px,#0060ff 6.5px,#0038ff 8.5px,#0010ff 9.5px,#0000f1 10.5px,#0000c2 15.5px,#0000b0 65.5px,#000094 103.5px,#000094 140.5px)"></i><i style="height:141px;background:linear-gradient(#006aff 0.5px,#0061ff 5.5px,#0039ff 7.5px,#0006ff 9.5px,#0000ca 12.5px,#0000bd 19.5px,#0000b6 61.5px,#000094 105.5px,#000094 140.5px)"></i><i style="height:141px;background:linear-gradient(#0064ff 0.5px,#0057ff 5.5px,#0037ff 7.5px,#0027ff 11.5px,#0000f8 14.5px,#0000d0 17.5px,#0000c4 26.5px,#0000b9 62.5px,#000094 112.5px,#000095 140.5px)"></i><i style="height:141px;background:linear-gradient(#0069ff 0.5px,#0064ff 5.5px,#0048ff 7.5px,#0038ff 19.5px,#0000f9 23.5px,#0000d0 26.5px,#0000c4 38.5px,#0000a3 83.5px,#000094 118.5px,#000095 140.5px)"></i><i style="height:141px;background:linear-gradient(#0085ff 0.5px,#007aff 6.5px,#006cff 8.5px,#0061ff 21.5px,#0038ff 24.5px,#0008ff 26.5px,#0000d3 30.5px,#000095 120.5px,#00009d 140.5px)"></i><i style="height:141px;background:linear-gradient(#08f 0.5px,#07f 19.5px,#004cff 22.5px,#0000fa 25.5px,#0000d1 28.5px,#0000c4 45.5px,#000094 113.5px,#000098 140.5px)"></i><i style="height:141px;background:linear-gradient(#006dff 0.5px,#0065ff 19.5px,#0045ff 22.5px,#0000fc 25.5px,#0000d1 28.5px,#0000c4 37.5px,#000094 111.5px,#000097 140.5px)"></i><i style="height:141px;background:linear-gradient(#0071ff 0.5px,#0069ff 6.5px,#004cff 8.5px,#0048ff 21.5px,#002dff 24.5px,#0007ff 26.5px,#0000d0 30.5px,#000094 112.5px,#00009a 140.5px)"></i><i style="height:141px;background:linear-gradient(#007aff 0.5px,#0076ff 23.5px,#005cff 26.5px,#0000f7 30.5px,#0000ce 33.5px,#000094 107.5px,#009 140.5px)"></i><i style="height:141px;background:linear-gradient(#05f 0.5px,#004fff 4.5px,#003cff 7.5px,#0041ff 21.5px,#0020ff 24.5px,#0000f9 26.5px,#0000d2 29.5px,#0000c2 41.5px,#000094 110.5px,#00009a 140.5px)"></i><i style="height:141px;background:linear-gradient(#007eff 0.5px,#0076ff 20.5px,#0052ff 23.5px,#0008ff 26.5px,#0000d5 30.5px,#00009a 110.5px,#0000a2 140.5px)"></i><i style="height:141px;background:linear-gradient(#0082ff 0.5px,#0083ff 25.5px,#006fff 28.5px,#002dff 31.5px,#0000f9 33.5px,#0000d7 36.5px,#00009f 107.5px,#0000a7 140.5px)"></i><i style="height:127px;background:linear-gradient(#0068ff 0.5px,#0074ff 16.5px,#007cff 23.5px,#0062ff 27.5px,#0027ff 30.5px,#0000f5 32.5px,#0000d2 35.5px,#0000a0 101.5px,#00009c 126.5px)"></i><i style="height:114px;background:linear-gradient(#0083ff 0.5px,#007dff 13.5px,#0087ff 21.5px,#0069ff 24.5px,#0004ff 28.5px,#0000d8 32.5px,#0000b7 82.5px,#0000b9 101.5px,#0000ba 109.5px,#0000d0 112.5px,#0000df 113.5px)"></i><i style="height:109px;background:linear-gradient(#0091ff 0.5px,#0083ff 5.5px,#0082ff 14.5px,#008eff 23.5px,#006cff 27.5px,#0006ff 31.5px,#0000d9 35.5px,#0000c0 75.5px,#00f 94.5px,#0000ed 106.5px,#0000fc 108.5px)"></i><i style="height:103px;background:linear-gradient(#00a1ff 0.5px,#0096ff 5.5px,#0070ff 7.5px,#0081ff 16.5px,#0091ff 22.5px,#0073ff 26.5px,#0000fc 31.5px,#0000df 34.5px,#0000c7 71.5px,#0000e6 79.5px,#0009ff 83.5px,#005aff 92.5px,#0060ff 97.5px,#0050ff 102.5px)"></i><i style="height:98px;background:linear-gradient(#0070ff 0.5px,#07f 14.5px,#0094ff 21.5px,#007dff 25.5px,#0038ff 28.5px,#0004ff 30.5px,#0000dc 34.5px,#0000c7 70.5px,#0000e2 77.5px,#0008ff 81.5px,#0083ff 91.5px,#0093ff 96.5px,#0090ff 97.5px)"></i><i style="height:95px;background:linear-gradient(#0096ff 0.5px,#0092ff 6.5px,#0082ff 9.5px,#0091ff 22.5px,#0070ff 25.5px,#0008ff 29.5px,#0000de 34.5px,#0000cb 72.5px,#0000f8 81.5px,#0036ff 87.5px,#006fff 94.5px)"></i><i style="height:93px;background:linear-gradient(#007eff 0.5px,#0089ff 17.5px,#008cff 22.5px,#0078ff 24.5px,#0002ff 29.5px,#0000e0 33.5px,#0000c7 74.5px,#0000e6 84.5px,#0009ff 89.5px,#0029ff 92.5px)"></i><i style="height:90px;background:linear-gradient(#00baff 0.5px,#00b4ff 21.5px,#008cff 25.5px,#003bff 28.5px,#0008ff 30.5px,#0000e2 35.5px,#0000c8 79.5px,#0000df 86.5px,#0004ff 89.5px)"></i><i style="height:87px;background:linear-gradient(#0086ff 0.5px,#007eff 7.5px,#005aff 9.5px,#0035ff 10.5px,#004eff 20.5px,#002aff 24.5px,#0000fe 27.5px,#0000db 32.5px,#0000bd 79.5px,#0000d3 84.5px,#0000ef 86.5px)"></i><i style="height:85px;background:linear-gradient(#0085ff 0.5px,#007fff 6.5px,#005eff 8.5px,#0043ff 9.5px,#0028ff 18.5px,#0023ff 23.5px,#0000f9 28.5px,#0000e5 36.5px,#0000cf 78.5px,#00e 83.5px,#0000fe 84.5px)"></i><i style="height:82px;background:linear-gradient(#0097ff 0.5px,#0092ff 6.5px,#0074ff 8.5px,#000dff 11.5px,#0000fb 13.5px,#0014ff 22.5px,#0000f5 28.5px,#0000e0 49.5px,#0000d3 75.5px,#0000f2 80.5px,#0003ff 81.5px)"></i><i style="height:79px;background:linear-gradient(#0091ff 0.5px,#0087ff 6.5px,#005bff 8.5px,#0012ff 10.5px,#0001ff 11.5px,#0000f9 25.5px,#0000e4 38.5px,#0000d3 72.5px,#0000f2 77.5px,#0003ff 78.5px)"></i><i style="height:76px;background:linear-gradient(#007cff 0.5px,#07f 7.5px,#005eff 9.5px,#0009ff 12.5px,#0000fd 21.5px,#0000e3 49.5px,#00d 70.5px,#0000f9 74.5px,#000aff 75.5px)"></i><i style="height:73px;background:linear-gradient(#009eff 0.5px,#0093ff 7.5px,#0067ff 9.5px,#001bff 11.5px,#0006ff 12.5px,#0000df 66.5px,#0000fe 71.5px,#000fff 72.5px)"></i><i style="height:70px;background:linear-gradient(#008dff 0.5px,#08f 6.5px,#006bff 8.5px,#000aff 11.5px,#0000f3 14.5px,#0000de 63.5px,#0000fc 68.5px,#000dff 69.5px)"></i><i style="height:67px;background:linear-gradient(#00a3ff 0.5px,#0096ff 5.5px,#0084ff 6.5px,#0038ff 8.5px,#0013ff 11.5px,#0000fa 15.5px,#0000e5 60.5px,#0004ff 65.5px,#0014ff 66.5px)"></i><i style="height:66px;background:linear-gradient(#0070ff 0.5px,#006cff 7.5px,#0056ff 9.5px,#000eff 12.5px,#0000fa 17.5px,#0000e9 59.5px,#0008ff 64.5px,#0018ff 65.5px)"></i><i style="height:65px;background:linear-gradient(#08f 0.5px,#0079ff 5.5px,#0047ff 7.5px,#000eff 9.5px,#0000fc 11.5px,#0000e8 58.5px,#0008ff 63.5px,#0018ff 64.5px)"></i><i style="height:64px;background:linear-gradient(#008bff 0.5px,#0085ff 7.5px,#0069ff 9.5px,#01f 12.5px,#0000fe 15.5px,#0000f0 58.5px,#0002ff 61.5px,#001dff 63.5px)"></i><i style="height:63px;background:linear-gradient(#00b6ff 0.5px,#00b0ff 6.5px,#0095ff 8.5px,#001fff 11.5px,#0005ff 13.5px,#0000ed 56.5px,#0001ff 60.5px,#001cff 62.5px)"></i><i style="height:62px;background:linear-gradient(#00b2ff 0.5px,#00abff 3.5px,#0086ff 5.5px,#0034ff 7.5px,#0017ff 8.5px,#0001ff 11.5px,#0000f0 55.5px,#0004ff 59.5px,#001fff 61.5px)"></i><i style="height:62px;background:linear-gradient(#00b3ff 0.5px,#00a9ff 5.5px,#008fff 7.5px,#0086ff 16.5px,#0063ff 19.5px,#0012ff 23.5px,#0000fb 26.5px,#0000ef 55.5px,#0003ff 59.5px,#001fff 61.5px)"></i><i style="height:61px;background:linear-gradient(#009dff 0.5px,#0090ff 23.5px,#0073ff 26.5px,#001bff 30.5px,#0000fd 33.5px,#0000f4 54.5px,#0009ff 58.5px,#0024ff 60.5px)"></i><i style="height:60px;background:linear-gradient(#00bfff 0.5px,#00afff 10.5px,#00a8ff 24.5px,#08f 27.5px,#0013ff 32.5px,#0000fc 35.5px,#0000f7 53.5px,#000cff 57.5px,#0027ff 59.5px)"></i><i style="height:59px;background:linear-gradient(#00d0ff 0.5px,#00c9ff 5.5px,#00b1ff 7.5px,#00a9ff 24.5px,#0085ff 27.5px,#0026ff 31.5px,#0007ff 35.5px,#0007ff 53.5px,#0023ff 57.5px,#03f 58.5px)"></i><i style="height:58px;background:linear-gradient(#00d4ff 0.5px,#00cfff 27.5px,#00b7ff 30.5px,#0069ff 33.5px,#001cff 36.5px,#0001ff 40.5px,#0008ff 53.5px,#0021ff 56.5px,#0031ff 57.5px)"></i><i style="height:57px;background:linear-gradient(#00ceff 0.5px,#00c5ff 21.5px,#009cff 24.5px,#002aff 28.5px,#0007ff 31.5px,#0006ff 52.5px,#001fff 55.5px,#002fff 56.5px)"></i><i style="height:56px;background:linear-gradient(#00c4ff 0.5px,#00beff 19.5px,#00a0ff 22.5px,#0026ff 27.5px,#0009ff 31.5px,#0007ff 49.5px,#0027ff 54.5px,#0037ff 55.5px)"></i><i style="height:55px;background:linear-gradient(#00e5ff 0.5px,#00deff 4.5px,#00c3ff 6.5px,#00bdff 21.5px,#00a0ff 24.5px,#0023ff 29.5px,#0005ff 33.5px,#0007ff 49.5px,#0025ff 53.5px,#0035ff 54.5px)"></i><i style="height:54px;background:linear-gradient(#00d2ff 0.5px,#00c9ff 20.5px,#00a1ff 23.5px,#0028ff 27.5px,#00f 30.5px,#0000f3 44.5px,#0006ff 50.5px,#0029ff 53.5px)"></i><i style="height:53px;background:linear-gradient(#00baff 0.5px,#00adff 23.5px,#0091ff 26.5px,#001fff 31.5px,#0005ff 35.5px,#0009ff 47.5px,#0028ff 51.5px,#0038ff 52.5px)"></i><i style="height:53px;background:linear-gradient(#00d5ff 0.5px,#0cf 23.5px,#00a7ff 26.5px,#002fff 30.5px,#0004ff 33.5px,#0001ff 47.5px,#001fff 51.5px,#002fff 52.5px)"></i><i style="height:52px;background:linear-gradient(#00c2ff 0.5px,#00b9ff 4.5px,#00a6ff 7.5px,#009eff 20.5px,#007dff 23.5px,#0024ff 27.5px,#0006ff 31.5px,#0009ff 46.5px,#0027ff 50.5px,#0038ff 51.5px)"></i><i style="height:51px;background:linear-gradient(#00d6ff 0.5px,#00d0ff 22.5px,#00b8ff 25.5px,#0067ff 28.5px,#002bff 30.5px,#0004ff 33.5px,#0007ff 46.5px,#0021ff 49.5px,#0032ff 50.5px)"></i><i style="height:50px;background:linear-gradient(#00bcff 0.5px,#00b4ff 22.5px,#0097ff 25.5px,#0019ff 30.5px,#0000fe 33.5px,#0006ff 45.5px,#0030ff 49.5px)"></i><i style="height:49px;background:linear-gradient(#00e7ff 0.5px,#00deff 23.5px,#00beff 26.5px,#002bff 31.5px,#0009ff 34.5px,#000aff 43.5px,#0029ff 47.5px,#0039ff 48.5px)"></i><i style="height:48px;background:linear-gradient(#00a9ff 0.5px,#00a0ff 22.5px,#007bff 25.5px,#001cff 29.5px,#0001ff 32.5px,#0008ff 43.5px,#03f 47.5px)"></i><i style="height:47px;background:linear-gradient(#00dcff 0.5px,#00ceff 4.5px,#00bcff 5.5px,#00b5ff 22.5px,#0095ff 25.5px,#001cff 30.5px,#0004ff 34.5px,#000eff 42.5px,#0028ff 45.5px,#0039ff 46.5px)"></i><i style="height:46px;background:linear-gradient(#00beff 0.5px,#00b3ff 8.5px,#00adff 22.5px,#0093ff 25.5px,#0021ff 30.5px,#0008ff 34.5px,#0018ff 42.5px,#003dff 45.5px)"></i><i style="height:45px;background:linear-gradient(#00e0ff 0.5px,#00dbff 25.5px,#00c2ff 28.5px,#0071ff 31.5px,#0036ff 33.5px,#0012ff 36.5px,#001bff 41.5px,#003fff 44.5px)"></i><i style="height:44px;background:linear-gradient(#00f5ff 0.5px,#00e9ff 5.5px,#00d8ff 6.5px,#00b5ff 7.5px,#00a4ff 8.5px,#009bff 21.5px,#0079ff 24.5px,#0024ff 28.5px,#000bff 32.5px,#0016ff 39.5px,#0040ff 43.5px)"></i><i style="height:43px;background:linear-gradient(#00deff 0.5px,#00d9ff 21.5px,#00bdff 24.5px,#0030ff 29.5px,#000eff 32.5px,#0013ff 38.5px,#002dff 41.5px,#003eff 42.5px)"></i><i style="height:43px;background:linear-gradient(#00e8ff 0.5px,#00e1ff 3.5px,#00d4ff 5.5px,#0cf 23.5px,#00a8ff 26.5px,#0021ff 31.5px,#000aff 34.5px,#0016ff 39.5px,#003bff 42.5px)"></i><i style="height:42px;background:linear-gradient(#00d6ff 0.5px,#00d1ff 22.5px,#00b9ff 25.5px,#006dff 28.5px,#0027ff 31.5px,#0016ff 35.5px,#002aff 39.5px,#0046ff 41.5px)"></i><i style="height:41px;background:linear-gradient(#00bfff 0.5px,#00b6ff 9.5px,#00adff 26.5px,#0086ff 29.5px,#0028ff 33.5px,#0017ff 36.5px,#002dff 39.5px,#003dff 40.5px)"></i><i style="height:40px;background:linear-gradient(#00e1ff 0.5px,#00d5ff 12.5px,#00c9ff 23.5px,#09f 26.5px,#002fff 30.5px,#001aff 33.5px,#002aff 37.5px,#0046ff 39.5px)"></i><i style="height:39px;background:linear-gradient(#00feff 0.5px,#00f5ff 9.5px,#00f0ff 23.5px,#00d3ff 26.5px,#0078ff 29.5px,#003aff 31.5px,#001fff 33.5px,#0024ff 36.5px,#003eff 38.5px)"></i><i style="height:38px;background:linear-gradient(#00e9ff 0.5px,#0df 3.5px,#00beff 5.5px,#00c9ff 18.5px,#00b5ff 24.5px,#0087ff 27.5px,#003dff 30.5px,#0023ff 33.5px,#0036ff 36.5px,#0046ff 37.5px)"></i><i style="height:35px;background:linear-gradient(#00fcff 0.5px,#00f8ff 4.5px,#00e5ff 6.5px,#00f1ff 17.5px,#00dbff 22.5px,#0af 25.5px,#04f 29.5px,#0036ff 32.5px,#004bff 34.5px)"></i><i style="height:32px;background:linear-gradient(#00faff 0.5px,#01fffe 1.5px,#18ffe7 2.5px,#4cffb3 3.5px,#91ff6e 4.5px,#afff50 5.5px,#8eff71 6.5px,#49ffb6 7.5px,#1bffe4 8.5px,#12ffed 9.5px,#4cffb3 14.5px,#48ffb7 17.5px,#02fffd 23.5px,#00d6ff 26.5px,#0083ff 30.5px,#007fff 31.5px)"></i><i style="height:28px;background:linear-gradient(#00feff 0.5px,#1fe 1.5px,#52ffad 2.5px,#eaff15 3.5px,#ff4a00 4.5px,#e50000 5.5px,#ff4a00 6.5px,#f0ff0f 7.5px,#75ff8a 8.5px,#5dffa2 9.5px,#9bff64 11.5px,#dfff20 13.5px,#feff01 15.5px,#f1ff0e 17.5px,#aeff51 21.5px,#adff52 23.5px,#d5ff2a 27.5px)"></i><i style="height:38px;background:linear-gradient(#00f7ff 0.5px,#00feff 1.5px,#17ffe8 2.5px,#4fffb0 3.5px,#9f6 4.5px,#baff45 5.5px,#8eff71 6.5px,#51ffae 7.5px,#30ffcf 8.5px,#36ffc9 9.5px,#aeff51 13.5px,#daff25 16.5px,#ebff14 19.5px,#fdff02 20.5px,#ffbc00 22.5px,#ff2600 25.5px,#fc0000 26.5px,#e10000 27.5px,#d70000 28.5px,#e30000 29.5px,#ff0500 30.5px,#ff3b00 31.5px,#ffcf00 33.5px,#deff21 34.5px,#4effb1 36.5px,#19ffe6 37.5px)"></i><i style="height:39px;background:linear-gradient(#04fffb 0.5px,#0ff 5.5px,#00eaff 6.5px,#00f9ff 10.5px,#45ffba 17.5px,#8f7 20.5px,#f7ff08 23.5px,#ffa000 26.5px,#ff8900 28.5px,#ffa300 30.5px,#ffe800 32.5px,#e8ff17 33.5px,#13ffec 37.5px,#00e7ff 38.5px)"></i><i style="height:39px;background:linear-gradient(#00dcff 0.5px,#00d4ff 4.5px,#00c2ff 6.5px,#00e5ff 19.5px,#0afff5 24.5px,#14ffeb 28.5px,#00fcff 30.5px,#0074ff 35.5px,#0060ff 37.5px,#0064ff 38.5px)"></i><i style="height:40px;background:linear-gradient(#01fffe 0.5px,#00faff 5.5px,#00dbff 7.5px,#0081ff 9.5px,#007cff 31.5px,#0049ff 37.5px,#0054ff 39.5px)"></i><i style="height:41px;background:linear-gradient(#00e6ff 0.5px,#00d9ff 2.5px,#00c3ff 3.5px,#00bdff 33.5px,#00a0ff 36.5px,#006cff 39.5px,#0068ff 40.5px)"></i><i style="height:43px;background:linear-gradient(#1bffe4 0.5px,#1fe 4.5px,#02fffd 5.5px,#00dfff 6.5px,#0af 7.5px,#00a4ff 34.5px,#0085ff 37.5px,#0052ff 40.5px,#0053ff 42.5px)"></i><i style="height:44px;background:linear-gradient(#24ffdb 0.5px,#1bffe4 3.5px,#0cfff3 4.5px,#00c9ff 6.5px,#00c1ff 25.5px,#00a0ff 28.5px,#0039ff 32.5px,#001aff 35.5px,#0026ff 40.5px,#004cff 43.5px)"></i><i style="height:45px;background:linear-gradient(#13ffec 0.5px,#00fdff 3.5px,#00dfff 4.5px,#00a8ff 5.5px,#09f 28.5px,#0078ff 31.5px,#0025ff 35.5px,#0015ff 38.5px,#0028ff 42.5px,#0045ff 44.5px)"></i><i style="height:46px;background:linear-gradient(#3bffc4 0.5px,#25ffda 3.5px,#03fffc 4.5px,#00ecff 5.5px,#00e6ff 25.5px,#00cdff 28.5px,#007aff 31.5px,#003eff 33.5px,#001aff 36.5px,#0026ff 42.5px,#004dff 45.5px)"></i><i style="height:47px;background:linear-gradient(#3bffc4 0.5px,#27ffd8 3.5px,#08fff7 4.5px,#0098ff 6.5px,#0092ff 28.5px,#07f 31.5px,#002aff 35.5px,#0015ff 38.5px,#0024ff 43.5px,#004aff 46.5px)"></i><i style="height:49px;background:linear-gradient(#41ffbe 0.5px,#30ffcf 4.5px,#16ffe9 5.5px,#00e0ff 6.5px,#00c3ff 7.5px,#00bcff 28.5px,#009dff 31.5px,#02f 36.5px,#000dff 40.5px,#0027ff 46.5px,#0045ff 48.5px)"></i><i style="height:50px;background:linear-gradient(#3affc5 0.5px,#2cffd3 2.5px,#14ffeb 3.5px,#00e2ff 4.5px,#09f 5.5px,#008dff 26.5px,#0070ff 29.5px,#0023ff 33.5px,#000cff 37.5px,#001cff 45.5px,#0038ff 48.5px,#0049ff 49.5px)"></i><i style="height:51px;background:linear-gradient(#4cffb3 0.5px,#3affc5 3.5px,#1effe1 4.5px,#00e6ff 5.5px,#00b4ff 6.5px,#00aeff 31.5px,#0095ff 34.5px,#0028ff 39.5px,#0014ff 43.5px,#002cff 48.5px,#004aff 50.5px)"></i><i style="height:52px;background:linear-gradient(#58ffa7 0.5px,#4dffb2 3.5px,#3affc5 4.5px,#1fe 5.5px,#00c8ff 6.5px,#0091ff 7.5px,#008bff 32.5px,#006fff 35.5px,#001aff 40.5px,#0014ff 45.5px,#002bff 49.5px,#0049ff 51.5px)"></i><i style="height:54px;background:linear-gradient(#3fc 0.5px,#21ffde 2.5px,#04fffb 3.5px,#00ceff 4.5px,#00c8ff 27.5px,#00abff 30.5px,#002dff 35.5px,#0013ff 39.5px,#001fff 48.5px,#003fff 52.5px,#0050ff 53.5px)"></i><i style="height:55px;background:linear-gradient(#32ffcd 0.5px,#28ffd7 4.5px,#00f2ff 6.5px,#00b3ff 7.5px,#00a4ff 31.5px,#007fff 34.5px,#0028ff 38.5px,#01f 42.5px,#0021ff 50.5px,#004dff 54.5px)"></i><i style="height:56px;background:linear-gradient(#5cffa3 0.5px,#5fa 5.5px,#4affb5 6.5px,#30ffcf 7.5px,#00faff 8.5px,#00d3ff 9.5px,#00caff 31.5px,#00a6ff 34.5px,#003dff 38.5px,#001fff 41.5px,#0027ff 50.5px,#0046ff 54.5px,#0057ff 55.5px)"></i><i style="height:57px;background:linear-gradient(#13ffec 0.5px,#00f8ff 3.5px,#0af 5.5px,#00a5ff 30.5px,#008fff 33.5px,#002dff 38.5px,#0019ff 42.5px,#002aff 52.5px,#05f 56.5px)"></i><i style="height:58px;background:linear-gradient(#0efff1 0.5px,#02fffd 4.5px,#00f0ff 5.5px,#00cbff 6.5px,#008fff 7.5px,#0083ff 9.5px,#0079ff 27.5px,#0059ff 30.5px,#001cff 34.5px,#0010ff 41.5px,#0024ff 53.5px,#003eff 56.5px,#004fff 57.5px)"></i><i style="height:60px;background:linear-gradient(#1dffe2 0.5px,#0bfff4 3.5px,#00efff 4.5px,#0096ff 6.5px,#008eff 35.5px,#006fff 38.5px,#0029ff 42.5px,#0019ff 47.5px,#002eff 56.5px,#0052ff 59.5px)"></i><i style="height:61px;background:linear-gradient(#47ffb8 0.5px,#3fffc0 3.5px,#32ffcd 4.5px,#13ffec 5.5px,#00d7ff 6.5px,#00a1ff 7.5px,#09f 34.5px,#007aff 37.5px,#002cff 41.5px,#0017ff 45.5px,#0026ff 56.5px,#0040ff 59.5px,#0051ff 60.5px)"></i><i style="height:62px;background:linear-gradient(#45ffba 0.5px,#3fc 3.5px,#17ffe8 4.5px,#00deff 5.5px,#00ceff 6.5px,#00c5ff 28.5px,#009fff 31.5px,#0032ff 35.5px,#01f 38.5px,#0017ff 55.5px,#002dff 59.5px,#0049ff 61.5px)"></i><i style="height:63px;background:linear-gradient(#4dffb2 0.5px,#45ffba 5.5px,#38ffc7 6.5px,#19ffe6 7.5px,#00f0ff 8.5px,#00e6ff 28.5px,#00bdff 31.5px,#0041ff 35.5px,#001aff 38.5px,#001bff 54.5px,#0034ff 60.5px,#0050ff 62.5px)"></i><i style="height:64px;background:linear-gradient(#4fb 0.5px,#2fffd0 3.5px,#0ffff0 4.5px,#00d2ff 5.5px,#00a7ff 6.5px,#00a0ff 26.5px,#0085ff 29.5px,#02f 34.5px,#0010ff 39.5px,#001fff 58.5px,#003dff 62.5px,#004dff 63.5px)"></i><i style="height:66px;background:linear-gradient(#62ff9d 0.5px,#51ffae 4.5px,#36ffc9 5.5px,#0ff 6.5px,#00b1ff 7.5px,#00abff 30.5px,#0092ff 33.5px,#0026ff 38.5px,#0010ff 42.5px,#001bff 60.5px,#0039ff 64.5px,#0049ff 65.5px)"></i><i style="height:64px;background:linear-gradient(#63ff9c 0.5px,#5bffa4 3.5px,#4dffb2 4.5px,#2cffd3 5.5px,#00ecff 6.5px,#00c8ff 7.5px,#00c0ff 29.5px,#009cff 32.5px,#002fff 36.5px,#000dff 39.5px,#01f 57.5px,#0026ff 61.5px,#0041ff 63.5px)"></i><i style="height:67px;background:linear-gradient(#58ffa7 0.5px,#45ffba 2.5px,#24ffdb 3.5px,#00e5ff 4.5px,#0090ff 5.5px,#0086ff 30.5px,#006eff 33.5px,#001bff 38.5px,#000dff 45.5px,#001bff 62.5px,#0045ff 66.5px)"></i><i style="height:70px;background:linear-gradient(#1dffe2 0.5px,#0ffff0 1.5px,#00efff 2.5px,#00b5ff 3.5px,#0097ff 4.5px,#0091ff 27.5px,#0076ff 30.5px,#0016ff 35.5px,#0004ff 40.5px,#000eff 64.5px,#002bff 68.5px,#003bff 69.5px)"></i><i style="height:74px;background:linear-gradient(#3effc1 0.5px,#2fffd0 4.5px,#17ffe8 5.5px,#00e4ff 6.5px,#00a7ff 7.5px,#00a1ff 24.5px,#0086ff 27.5px,#001cff 32.5px,#0007ff 36.5px,#000fff 68.5px,#002cff 72.5px,#003cff 73.5px)"></i><i style="height:77px;background:linear-gradient(#1fffe0 0.5px,#16ffe9 4.5px,#08fff7 5.5px,#00e6ff 6.5px,#00acff 7.5px,#0096ff 8.5px,#008fff 24.5px,#0073ff 27.5px,#0024ff 31.5px,#000bff 35.5px,#0010ff 71.5px,#002cff 75.5px,#003bff 76.5px)"></i><i style="height:80px;background:linear-gradient(#20ffdf 0.5px,#1fe 3.5px,#00f9ff 4.5px,#00caff 5.5px,#0083ff 6.5px,#007bff 24.5px,#005fff 27.5px,#0017ff 31.5px,#0003ff 35.5px,#0006ff 74.5px,#02f 78.5px,#0031ff 79.5px)"></i><i style="height:83px;background:linear-gradient(#0ffff0 0.5px,#01fffe 3.5px,#00ebff 4.5px,#00beff 5.5px,#007aff 6.5px,#0062ff 7.5px,#005bff 25.5px,#0032ff 29.5px,#0002ff 33.5px,#0000fa 76.5px,#000fff 80.5px,#0029ff 82.5px)"></i><i style="height:86px;background:linear-gradient(#1fffe0 0.5px,#1fe 5.5px,#00fbff 6.5px,#00ceff 7.5px,#0089ff 8.5px,#0074ff 9.5px,#006dff 23.5px,#0052ff 26.5px,#0010ff 30.5px,#0000fd 35.5px,#0006ff 80.5px,#002fff 85.5px)"></i><i style="height:89px;background:linear-gradient(#23ffdc 0.5px,#1effe1 4.5px,#0ff 6.5px,#00d2ff 7.5px,#008cff 8.5px,#007bff 9.5px,#0075ff 24.5px,#005bff 27.5px,#0016ff 31.5px,#0002ff 36.5px,#0007ff 79.5px,#0031ff 87.5px,#003aff 88.5px)"></i><i style="height:92px;background:linear-gradient(#21ffde 0.5px,#1bffe4 6.5px,#00f6ff 8.5px,#00c4ff 9.5px,#003bff 11.5px,#02f 12.5px,#01f 21.5px,#0000fd 27.5px,#0006ff 77.5px,#0046ff 91.5px)"></i><i style="height:95px;background:linear-gradient(#0efff1 0.5px,#07fff8 7.5px,#00faff 8.5px,#00deff 9.5px,#00a9ff 10.5px,#0026ff 12.5px,#0004ff 13.5px,#00e 22.5px,#0000f3 61.5px,#0000fa 76.5px,#02f 84.5px,#004cff 93.5px,#004dff 94.5px)"></i><i style="height:98px;background:linear-gradient(#0ffff0 0.5px,#0afff5 7.5px,#02fffd 8.5px,#00edff 9.5px,#00c2ff 10.5px,#003dff 12.5px,#0006ff 15.5px,#0000f0 22.5px,#0000f2 64.5px,#0000fe 78.5px,#0041ff 93.5px,#04f 97.5px)"></i><i style="height:102px;background:linear-gradient(#17ffe8 0.5px,#0ffff0 7.5px,#01fffe 8.5px,#00e1ff 9.5px,#00a7ff 10.5px,#0023ff 12.5px,#000bff 13.5px,#0000f0 24.5px,#0000ef 65.5px,#0000f7 79.5px,#0017ff 88.5px,#002aff 101.5px)"></i><i style="height:106px;background:linear-gradient(#10ffef 0.5px,#08fff7 6.5px,#00faff 7.5px,#0df 8.5px,#00a6ff 9.5px,#02f 11.5px,#000eff 12.5px,#0000fa 18.5px,#0000ed 26.5px,#0000ec 62.5px,#00e 82.5px,#0000fc 96.5px,#0005ff 104.5px,#0010ff 105.5px)"></i><i style="height:110px;background:linear-gradient(#28ffd7 0.5px,#2fd 8.5px,#00feff 10.5px,#0cf 11.5px,#0037ff 13.5px,#0009ff 14.5px,#0000e8 17.5px,#0000e8 62.5px,#0000df 106.5px,#0000fd 109.5px)"></i><i style="height:112px;background:linear-gradient(#00eaff 0.5px,#00e0ff 10.5px,#00d1ff 11.5px,#00afff 12.5px,#03f 14.5px,#0003ff 15.5px,#0000df 17.5px,#0000d9 63.5px,#0000c2 106.5px,#0000db 110.5px,#0000eb 111.5px)"></i><i style="height:141px;background:linear-gradient(#00c5ff 0.5px,#00beff 7.5px,#00b4ff 8.5px,#009bff 9.5px,#0002ff 12.5px,#0000d9 18.5px,#0000d5 62.5px,#0000a7 125.5px,#0000ba 136.5px,#0000e6 140.5px)"></i><i style="height:141px;background:linear-gradient(#009eff 0.5px,#0094ff 6.5px,#0084ff 7.5px,#0064ff 8.5px,#0007ff 10.5px,#0000ea 11.5px,#0000d8 21.5px,#0000d7 60.5px,#0000a7 123.5px,#0000ad 140.5px)"></i><i style="height:141px;background:linear-gradient(#00b7ff 0.5px,#00aeff 4.5px,#009fff 5.5px,#0080ff 6.5px,#0015ff 8.5px,#00e 9.5px,#0000de 11.5px,#0000d6 27.5px,#0000ce 63.5px,#0000a2 124.5px,#0000a8 140.5px)"></i><i style="height:141px;background:linear-gradient(#00c1ff 0.5px,#00b7ff 5.5px,#00a9ff 6.5px,#08f 7.5px,#0019ff 9.5px,#0000f0 10.5px,#0000d5 12.5px,#0000ce 61.5px,#0000a1 123.5px,#0000a8 140.5px)"></i><i style="height:141px;background:linear-gradient(#00a7ff 0.5px,#009dff 6.5px,#008eff 7.5px,#006eff 8.5px,#000cff 10.5px,#0000e5 12.5px,#0000d5 18.5px,#0000d1 60.5px,#0000a4 122.5px,#0000ab 140.5px)"></i><i style="height:141px;background:linear-gradient(#0098ff 0.5px,#008cff 6.5px,#007aff 7.5px,#0026ff 9.5px,#0007ff 11.5px,#0000d6 17.5px,#00c 61.5px,#0000a1 121.5px,#0000a8 140.5px)"></i><i style="height:141px;background:linear-gradient(#00b9ff 0.5px,#00afff 7.5px,#00a0ff 8.5px,#007fff 9.5px,#0016ff 11.5px,#0000f9 16.5px,#0000da 21.5px,#0000cd 63.5px,#0000a4 121.5px,#0000ac 140.5px)"></i><i style="height:141px;background:linear-gradient(#00a4ff 0.5px,#0098ff 6.5px,#0086ff 7.5px,#0063ff 8.5px,#0031ff 9.5px,#000eff 10.5px,#0000e5 14.5px,#0000d5 20.5px,#0000cd 60.5px,#0000a3 119.5px,#0000ab 140.5px)"></i><i style="height:141px;background:linear-gradient(#0092ff 0.5px,#0087ff 7.5px,#07f 8.5px,#0057ff 9.5px,#0028ff 10.5px,#000eff 12.5px,#00e 15.5px,#0000d4 20.5px,#0000c7 62.5px,#0000a0 118.5px,#0000a8 140.5px)"></i><i style="height:141px;background:linear-gradient(#00aeff 0.5px,#00a2ff 6.5px,#0090ff 7.5px,#006bff 8.5px,#0005ff 10.5px,#0000e7 11.5px,#0000d2 17.5px,#0000c7 61.5px,#0000a0 118.5px,#0000a9 140.5px)"></i><i style="height:141px;background:linear-gradient(#009cff 0.5px,#0090ff 6.5px,#007fff 7.5px,#002dff 9.5px,#0002ff 10.5px,#0000e2 12.5px,#0000d6 20.5px,#0000cb 61.5px,#0000a5 118.5px,#0000ae 140.5px)"></i><i style="height:141px;background:linear-gradient(#007aff 0.5px,#0075ff 7.5px,#005bff 9.5px,#0012ff 11.5px,#0000f4 12.5px,#0000d8 15.5px,#0000c6 63.5px,#0000a3 118.5px,#0000ac 140.5px)"></i><i style="height:141px;background:linear-gradient(#00a3ff 0.5px,#09f 5.5px,#008bff 6.5px,#006eff 7.5px,#000cff 9.5px,#0000dc 11.5px,#0000d1 18.5px,#0000c4 61.5px,#0000a1 116.5px,#00a 140.5px)"></i><i style="height:141px;background:linear-gradient(#009bff 0.5px,#008eff 6.5px,#007bff 7.5px,#0003ff 10.5px,#0000d9 15.5px,#0000c3 65.5px,#0000a4 117.5px,#0000ae 140.5px)"></i><i style="height:114px;background:linear-gradient(#006eff 0.5px,#0061ff 5.5px,#002fff 7.5px,#0008ff 8.5px,#0000ed 9.5px,#0000cf 22.5px,#0000bd 64.5px,#00009f 113.5px)"></i><i style="height:114px;background:linear-gradient(#0067ff 0.5px,#0060ff 6.5px,#0042ff 8.5px,#0020ff 9.5px,#0000f8 13.5px,#0000d5 18.5px,#0000bd 66.5px,#0000a3 113.5px)"></i><i style="height:114px;background:linear-gradient(#0094ff 0.5px,#008dff 7.5px,#006aff 9.5px,#01f 11.5px,#00e 12.5px,#0000d4 15.5px,#0000bc 66.5px,#0000a2 113.5px)"></i><i style="height:141px;background:linear-gradient(#009eff 0.5px,#0093ff 7.5px,#0081ff 8.5px,#005eff 9.5px,#002cff 10.5px,#000aff 11.5px,#0000e4 14.5px,#0000ce 19.5px,#0000b8 65.5px,#00009f 116.5px,#0000a9 140.5px)"></i><i style="height:141px;background:linear-gradient(#009cff 0.5px,#0091ff 7.5px,#0080ff 8.5px,#005dff 9.5px,#002bff 10.5px,#0005ff 13.5px,#0000d0 17.5px,#0000c2 37.5px,#009 111.5px,#0000a3 140.5px)"></i><i style="height:141px;background:linear-gradient(#0073ff 0.5px,#006dff 7.5px,#0050ff 9.5px,#0008ff 11.5px,#0000df 13.5px,#0000d0 35.5px,#0000a8 110.5px,#0000b2 140.5px)"></i><i style="height:141px;background:linear-gradient(#0086ff 0.5px,#007bff 7.5px,#006bff 8.5px,#0000f7 11.5px,#0000d6 14.5px,#0000a2 109.5px,#0000ac 140.5px)"></i><i style="height:141px;background:linear-gradient(#009aff 0.5px,#008fff 7.5px,#007eff 8.5px,#005cff 9.5px,#0000f7 11.5px,#0000d1 14.5px,#0000c0 21.5px,#0000a1 76.5px,#000098 125.5px,#00009f 140.5px)"></i><i style="height:141px;background:linear-gradient(#0ffff0 0.5px,#05fffa 9.5px,#00f5ff 10.5px,#00d2ff 11.5px,#0092ff 12.5px,#0043ff 13.5px,#0004ff 14.5px,#0000e1 15.5px,#0000c9 19.5px,#00009e 110.5px,#0000a8 140.5px)"></i><i style="height:141px;background:linear-gradient(#30ffcf 0.5px,#28ffd7 7.5px,#1cffe3 8.5px,#00feff 9.5px,#00c3ff 10.5px,#0020ff 12.5px,#0002ff 13.5px,#0000cf 19.5px,#0000a1 106.5px,#0000ab 140.5px)"></i><i style="height:141px;background:linear-gradient(#0086ff 0.5px,#0081ff 6.5px,#0067ff 8.5px,#0016ff 10.5px,#0000f9 11.5px,#0000d0 14.5px,#0000bd 45.5px,#00009f 106.5px,#0000a9 140.5px)"></i><i style="height:141px;background:linear-gradient(#008dff 0.5px,#0085ff 7.5px,#0079ff 8.5px,#005eff 9.5px,#0006ff 11.5px,#0000de 13.5px,#0000c9 20.5px,#0000a3 108.5px,#0000ac 140.5px)"></i><i style="height:141px;background:linear-gradient(#0041ff 0.5px,#003bff 5.5px,#001fff 7.5px,#0002ff 8.5px,#0000d3 11.5px,#0000c2 19.5px,#00009d 108.5px,#0000a7 140.5px)"></i><i style="height:141px;background:linear-gradient(#006fff 0.5px,#0069ff 6.5px,#004cff 8.5px,#0004ff 10.5px,#0000cd 15.5px,#0000a2 103.5px,#0000ac 140.5px)"></i><i style="height:141px;background:linear-gradient(#008eff 0.5px,#0087ff 7.5px,#0064ff 9.5px,#000aff 11.5px,#0000e7 14.5px,#0000c9 18.5px,#0000a2 103.5px,#0000ab 140.5px)"></i><i style="height:141px;background:linear-gradient(#0051ff 0.5px,#0047ff 6.5px,#001fff 8.5px,#0000fd 9.5px,#0000e2 10.5px,#0000cd 18.5px,#00b 36.5px,#0000a3 108.5px,#0000ab 140.5px)"></i><i style="height:141px;background:linear-gradient(#0050ff 0.5px,#0045ff 5.5px,#0028ff 10.5px,#0000f6 13.5px,#0000cf 16.5px,#0000bd 27.5px,#0000a3 109.5px,#0000ab 140.5px)"></i><i style="height:141px;background:linear-gradient(#0046ff 0.5px,#0041ff 6.5px,#0027ff 8.5px,#000aff 9.5px,#0000e4 12.5px,#0000c6 17.5px,#0000a5 103.5px,#0000ad 140.5px)"></i><i style="height:141px;background:linear-gradient(#0001ff 0.5px,#0000fa 10.5px,#00c 15.5px,#00a 83.5px,#0000b0 140.5px)"></i><i style="height:141px;background:linear-gradient(#0003ff 0.5px,#0000fa 6.5px,#0000c5 14.5px,#0000a5 82.5px,#0000ab 140.5px)"></i><i style="height:141px;background:linear-gradient(#0000f8 0.5px,#0000f2 9.5px,#0000c6 15.5px,#0000b4 44.5px,#0000a7 112.5px,#0000ac 140.5px)"></i><i style="height:141px;background:linear-gradient(#0000e7 0.5px,#00d 13.5px,#0000bf 21.5px,#00a 108.5px,#0000b0 140.5px)"></i><i style="height:141px;background:linear-gradient(#0028ff 0.5px,#001dff 6.5px,#0000f8 9.5px,#0000d0 12.5px,#0000b9 27.5px,#0000ac 121.5px,#0000b0 140.5px)"></i><i style="height:141px;background:linear-gradient(#0000d0 0.5px,#0000b8 46.5px,#0000b2 128.5px,#0000b4 140.5px)"></i><i style="height:141px;background:linear-gradient(#0000fe 0.5px,#0000f6 10.5px,#0000c9 16.5px,#0000b9 43.5px,#0000b6 140.5px)"></i><i style="height:141px;background:linear-gradient(#0010ff 0.5px,#0006ff 8.5px,#0000ca 16.5px,#0000ba 42.5px,#0000b8 140.5px)"></i><i style="height:141px;background:linear-gradient(#0000d5 0.5px,#0000ce 13.5px,#0000b5 28.5px,#0000b2 140.5px)"></i><i style="height:141px;background:linear-gradient(#000bff 0.5px,#0000fc 9.5px,#0000be 15.5px,#0000a8 32.5px,#0000a8 140.5px)"></i><i style="height:141px;background:linear-gradient(#0021ff 0.5px,#0013ff 8.5px,#0000fb 10.5px,#0000c8 14.5px,#0000b0 27.5px,#0000af 140.5px)"></i><i style="height:141px;background:linear-gradient(#0007ff 0.5px,#0000fd 9.5px,#0000bf 16.5px,#0000ac 36.5px,#0000af 140.5px)"></i><i style="height:141px;background:linear-gradient(#0000fe 0.5px,#0000f3 8.5px,#0000c0 13.5px,#0000a7 31.5px,#0000ab 140.5px)"></i><i style="height:141px;background:linear-gradient(#0000fd 0.5px,#0000f5 8.5px,#0000be 13.5px,#0000a4 30.5px,#0000a9 140.5px)"></i><i style="height:141px;background:linear-gradient(#0002ff 0.5px,#0000f6 8.5px,#0000af 15.5px,#000098 32.5px,#0000a1 117.5px,#00009e 140.5px)"></i><i style="height:141px;background:linear-gradient(#000eff 0.5px,#0000fd 9.5px,#0000be 14.5px,#0000a4 27.5px,#0000ab 135.5px,#0000a9 140.5px)"></i><i style="height:141px;background:linear-gradient(#0000e8 0.5px,#0000e1 12.5px,#0000a9 20.5px,#00009f 40.5px,#0000ab 104.5px,#0000a5 140.5px)"></i><i style="height:141px;background:linear-gradient(#0008ff 0.5px,#0000fa 10.5px,#00a 17.5px,#000096 32.5px,#0000a5 84.5px,#00009f 140.5px)"></i><i style="height:141px;background:linear-gradient(#0000fb 0.5px,#0000f0 8.5px,#0000b0 14.5px,#000097 29.5px,#0000a8 89.5px,#0000a1 140.5px)"></i><i style="height:141px;background:linear-gradient(#000dff 0.5px,#0004ff 7.5px,#0000cb 13.5px,#0000a7 17.5px,#000095 35.5px,#0000a7 75.5px,#0000a0 140.5px)"></i><i style="height:141px;background:linear-gradient(#0000f0 0.5px,#0000e8 7.5px,#0000cb 14.5px,#0000a4 20.5px,#00009c 38.5px,#0000ae 76.5px,#0000a5 140.5px)"></i><i style="height:141px;background:linear-gradient(#0010ff 0.5px,#0007ff 11.5px,#0000f1 13.5px,#0000ae 18.5px,#009 28.5px,#0000af 84.5px,#0000a4 140.5px)"></i><i style="height:141px;background:linear-gradient(#0000ef 0.5px,#0000e5 14.5px,#0000a8 21.5px,#00009c 35.5px,#0000b3 74.5px,#0000a7 140.5px)"></i><i style="height:141px;background:linear-gradient(#001bff 0.5px,#0012ff 8.5px,#0000fe 10.5px,#00b 14.5px,#0000a0 20.5px,#00009b 39.5px,#0000b0 73.5px,#0000a3 140.5px)"></i><i style="height:141px;background:linear-gradient(#0000fd 0.5px,#0000f7 12.5px,#0000ca 16.5px,#00009d 20.5px,#000094 40.5px,#0000a9 75.5px,#00009b 140.5px)"></i><i style="height:141px;background:linear-gradient(#0000fe 0.5px,#0000f6 9.5px,#0000a4 16.5px,#000094 24.5px,#00009c 47.5px,#00a 94.5px,#00009a 140.5px)"></i><i style="height:141px;background:linear-gradient(#0000e5 0.5px,#0000d8 11.5px,#0000a5 18.5px,#000098 34.5px,#0000b4 69.5px,#0000a9 130.5px,#0000a4 140.5px)"></i><i style="height:141px;background:linear-gradient(#0000e5 0.5px,#0000de 9.5px,#00a 16.5px,#009 33.5px,#0000b7 68.5px,#0000ac 127.5px,#0000a6 140.5px)"></i><i style="height:141px;background:linear-gradient(#000dff 0.5px,#00f 8.5px,#0000ae 14.5px,#000095 23.5px,#00009e 44.5px,#0000b2 78.5px,#00009e 140.5px)"></i><i style="height:141px;background:linear-gradient(#0000fc 0.5px,#0000f6 13.5px,#0000ce 17.5px,#0000a1 21.5px,#000095 33.5px,#0000b5 68.5px,#00a 120.5px,#0000a1 140.5px)"></i><i style="height:141px;background:linear-gradient(#0024ff 0.5px,#001fff 6.5px,#0001ff 9.5px,#0000f4 14.5px,#0000a4 20.5px,#000094 28.5px,#00009e 47.5px,#0000af 85.5px,#000098 140.5px)"></i><i style="height:141px;background:linear-gradient(#003bff 0.5px,#0034ff 7.5px,#01f 9.5px,#0000f6 12.5px,#0000ae 16.5px,#000096 20.5px,#00009c 46.5px,#0000ae 82.5px,#000096 140.5px)"></i><i style="height:141px;background:linear-gradient(#0030ff 0.5px,#0026ff 5.5px,#000cff 7.5px,#0000fc 12.5px,#0000a5 18.5px,#000094 24.5px,#00009e 45.5px,#0000b2 75.5px,#00009a 138.5px,#009 140.5px)"></i><i style="height:141px;background:linear-gradient(#0032ff 0.5px,#002bff 4.5px,#0000f5 7.5px,#0000de 12.5px,#0000a5 17.5px,#000094 26.5px,#0000a2 45.5px,#0000b6 75.5px,#00009e 136.5px,#00009c 140.5px)"></i><i style="height:141px;background:linear-gradient(#0049ff 0.5px,#0040ff 12.5px,#0019ff 15.5px,#00f 16.5px,#0000b6 19.5px,#00009a 22.5px,#00009a 40.5px,#0000b5 67.5px,#0000a7 117.5px,#00009a 140.5px)"></i><i style="height:141px;background:linear-gradient(#004fff 0.5px,#04f 7.5px,#0025ff 9.5px,#0004ff 10.5px,#0000c4 12.5px,#0000a3 15.5px,#000094 30.5px,#0000b7 70.5px,#0000a5 119.5px,#00009a 140.5px)"></i><i style="height:141px;background:linear-gradient(#0021ff 0.5px,#0014ff 6.5px,#000aff 9.5px,#0000f8 14.5px,#0000a1 20.5px,#000094 29.5px,#0000a8 49.5px,#0000b5 85.5px,#000097 140.5px)"></i><i style="height:141px;background:linear-gradient(#003bff 0.5px,#002eff 6.5px,#0000fd 8.5px,#0000d9 9.5px,#0000a9 13.5px,#000094 28.5px,#0000ba 69.5px,#0000a6 119.5px,#00009a 140.5px)"></i><i style="height:141px;background:linear-gradient(#0060ff 0.5px,#0059ff 5.5px,#0037ff 7.5px,#000fff 8.5px,#0000e7 9.5px,#0000d4 15.5px,#00009f 21.5px,#00009a 35.5px,#0000bc 65.5px,#0000ae 112.5px,#00009c 140.5px)"></i><i style="height:141px;background:linear-gradient(#0034ff 0.5px,#002fff 6.5px,#000eff 9.5px,#0000fc 15.5px,#0000a3 21.5px,#000094 28.5px,#0000b9 69.5px,#0000a3 118.5px,#000097 140.5px)"></i><i style="height:141px;background:linear-gradient(#001bff 0.5px,#000fff 8.5px,#00f 9.5px,#0000b9 13.5px,#0000a2 19.5px,#0000a3 37.5px,#0000c2 64.5px,#0000b2 112.5px,#0000a0 140.5px)"></i><i style="height:141px;background:linear-gradient(#0050ff 0.5px,#004aff 4.5px,#0028ff 6.5px,#0003ff 7.5px,#0000d7 11.5px,#0000a7 15.5px,#000094 27.5px,#0000ba 67.5px,#0000a6 114.5px,#000096 140.5px)"></i><i style="height:141px;background:linear-gradient(#02f 0.5px,#001aff 7.5px,#0000f5 9.5px,#0000d7 10.5px,#0000a5 16.5px,#000098 31.5px,#0000bd 66.5px,#0000a7 115.5px,#000098 140.5px)"></i><i style="height:141px;background:linear-gradient(#0042ff 0.5px,#003bff 5.5px,#000aff 8.5px,#0000fc 12.5px,#0000af 18.5px,#00009d 25.5px,#0000b7 49.5px,#0000c1 82.5px,#00009c 140.5px)"></i><i style="height:141px;background:linear-gradient(#002eff 0.5px,#0023ff 6.5px,#000cff 8.5px,#0000f2 9.5px,#0000c0 11.5px,#0000a5 15.5px,#00009d 33.5px,#0000bf 63.5px,#0000ac 110.5px,#000098 140.5px)"></i><i style="height:141px;background:linear-gradient(#0038ff 0.5px,#0031ff 6.5px,#000eff 8.5px,#0000dc 10.5px,#00a 17.5px,#0000a5 34.5px,#0000c5 64.5px,#0000ae 113.5px,#00009d 140.5px)"></i><i style="height:141px;background:linear-gradient(#0057ff 0.5px,#0048ff 5.5px,#0034ff 6.5px,#0010ff 7.5px,#0000f5 8.5px,#0000de 13.5px,#0000a6 18.5px,#00009a 30.5px,#0000bd 65.5px,#0000a3 114.5px,#000094 140.5px)"></i><i style="height:141px;background:linear-gradient(#0000f5 0.5px,#00e 12.5px,#0000a8 19.5px,#0000a4 34.5px,#0000c3 63.5px,#0000ab 111.5px,#009 140.5px)"></i><i style="height:141px;background:linear-gradient(#0000df 0.5px,#0000d7 10.5px,#0000af 15.5px,#00009c 23.5px,#0000b0 46.5px,#0000bd 74.5px,#000094 140.5px)"></i><i style="height:141px;background:linear-gradient(#0000f2 0.5px,#0000ea 10.5px,#0000af 16.5px,#0000a9 33.5px,#0000c7 64.5px,#0000ab 112.5px,#00009b 140.5px)"></i><i style="height:141px;background:linear-gradient(#0000f0 0.5px,#0000e6 10.5px,#0000ab 15.5px,#00009b 24.5px,#0000bc 66.5px,#000094 136.5px,#000094 140.5px)"></i><i style="height:141px;background:linear-gradient(#0000e2 0.5px,#0000cf 10.5px,#0000a6 16.5px,#0000a3 34.5px,#0000be 62.5px,#0000a2 110.5px,#000094 140.5px)"></i><i style="height:141px;background:linear-gradient(#0000e8 0.5px,#0000e2 15.5px,#0000a7 23.5px,#0000b5 44.5px,#0000c1 72.5px,#000094 140.5px)"></i><i style="height:141px;background:linear-gradient(#0005ff 0.5px,#00f 8.5px,#0000ad 14.5px,#00009d 23.5px,#00b 65.5px,#000094 130.5px,#000094 140.5px)"></i><i style="height:141px;background:linear-gradient(#0062ff 0.5px,#0058ff 7.5px,#002eff 9.5px,#0007ff 10.5px,#0000f4 12.5px,#0000be 16.5px,#0000ac 23.5px,#0000c9 65.5px,#009 140.5px)"></i><i style="height:141px;background:linear-gradient(#09f 0.5px,#0092ff 9.5px,#0087ff 10.5px,#006dff 11.5px,#0007ff 13.5px,#0000bd 16.5px,#0000ae 23.5px,#0000ca 64.5px,#00009a 140.5px)"></i><i style="height:141px;background:linear-gradient(#009aff 0.5px,#0093ff 8.5px,#0089ff 9.5px,#0070ff 10.5px,#000aff 12.5px,#0000c2 15.5px,#0000af 21.5px,#0000c9 65.5px,#009 138.5px,#009 140.5px)"></i><i style="height:141px;background:linear-gradient(#00dbff 0.5px,#00d2ff 7.5px,#00c3ff 8.5px,#00a1ff 9.5px,#001bff 11.5px,#0000e7 12.5px,#0000b2 17.5px,#0000af 34.5px,#0000c4 63.5px,#000094 136.5px,#000094 140.5px)"></i><i style="height:141px;background:linear-gradient(#009eff 0.5px,#0095ff 8.5px,#08f 9.5px,#006aff 10.5px,#00f 12.5px,#0000ca 14.5px,#0000b1 17.5px,#0000b7 39.5px,#0000c4 66.5px,#000094 135.5px,#000094 140.5px)"></i><i style="height:141px;background:linear-gradient(#00ceff 0.5px,#00c4ff 8.5px,#00b5ff 9.5px,#0092ff 10.5px,#0014ff 12.5px,#0000eb 13.5px,#0000c2 16.5px,#0000b8 26.5px,#0000ce 64.5px,#00009d 135.5px,#00009d 140.5px)"></i><i style="height:141px;background:linear-gradient(#00ceff 0.5px,#00c9ff 8.5px,#00adff 10.5px,#0084ff 11.5px,#000dff 13.5px,#0000d3 15.5px,#0000bd 19.5px,#0000d0 65.5px,#0000a0 134.5px,#0000a0 140.5px)"></i><i style="height:141px;background:linear-gradient(#00b3ff 0.5px,#00aeff 9.5px,#008fff 11.5px,#06f 12.5px,#002bff 13.5px,#000dff 14.5px,#0000e1 16.5px,#0000c5 19.5px,#0000cb 41.5px,#0000d2 68.5px,#0000a2 134.5px,#0000a3 140.5px)"></i><i style="height:141px;background:linear-gradient(#00deff 0.5px,#00d8ff 9.5px,#00b8ff 11.5px,#008aff 12.5px,#0002ff 14.5px,#0000db 15.5px,#0000bf 17.5px,#0000be 35.5px,#0000ca 64.5px,#009 133.5px,#00009a 140.5px)"></i><i style="height:141px;background:linear-gradient(#00bdff 0.5px,#00b8ff 10.5px,#009eff 12.5px,#0078ff 13.5px,#00f 15.5px,#0000d8 16.5px,#0000bf 18.5px,#0000c4 40.5px,#0000c9 68.5px,#00009a 131.5px,#00009a 140.5px)"></i><i style="height:141px;background:linear-gradient(#00c2ff 0.5px,#0bf 9.5px,#00b1ff 10.5px,#0098ff 11.5px,#0068ff 12.5px,#0029ff 13.5px,#0000f8 14.5px,#0000cf 16.5px,#0000bf 21.5px,#0000cf 63.5px,#00009e 131.5px,#00009f 140.5px)"></i><i style="height:141px;background:linear-gradient(#00c1ff 0.5px,#00bcff 10.5px,#00a0ff 12.5px,#0078ff 13.5px,#0000fe 15.5px,#0000da 17.5px,#0000be 21.5px,#0000c9 63.5px,#000098 131.5px,#009 140.5px)"></i><i style="height:141px;background:linear-gradient(#00f3ff 0.5px,#0ef 11.5px,#00d0ff 13.5px,#00a4ff 14.5px,#0017ff 16.5px,#0000fe 17.5px,#0000cf 20.5px,#0000c4 28.5px,#0000d0 62.5px,#00009e 131.5px,#0000a0 140.5px)"></i><i style="height:136px;background:linear-gradient(#00d9ff 0.5px,#00d1ff 8.5px,#00c5ff 9.5px,#00a8ff 10.5px,#0074ff 11.5px,#0031ff 12.5px,#0000fe 13.5px,#0000d4 15.5px,#0000cb 24.5px,#0000d6 63.5px,#0000a5 130.5px,#0000a6 135.5px)"></i><i style="height:130px;background:linear-gradient(#00f8ff 0.5px,#00f2ff 10.5px,#00d0ff 12.5px,#009fff 13.5px,#0016ff 15.5px,#0000ed 16.5px,#0000d3 18.5px,#0000d8 65.5px,#0000a9 128.5px,#0000a9 129.5px)"></i><i style="height:125px;background:linear-gradient(#00d1ff 0.5px,#00cbff 8.5px,#00a9ff 10.5px,#007bff 11.5px,#0007ff 13.5px,#0000d7 15.5px,#00c 22.5px,#0000d6 62.5px,#0000ad 117.5px,#0000c3 122.5px,#0000df 124.5px)"></i><i style="height:119px;background:linear-gradient(#0ef 0.5px,#00eaff 7.5px,#00d2ff 9.5px,#00acff 10.5px,#002aff 12.5px,#000aff 13.5px,#0000db 16.5px,#0000db 37.5px,#0000d9 67.5px,#0000b8 111.5px,#0000cd 116.5px,#0000e8 118.5px)"></i><i style="height:114px;background:linear-gradient(#0ff 0.5px,#00f9ff 11.5px,#00d7ff 13.5px,#00a7ff 14.5px,#001cff 16.5px,#0000f3 17.5px,#0000d7 19.5px,#0000d6 65.5px,#0000b8 107.5px,#0000d7 112.5px,#0000e7 113.5px)"></i><i style="height:109px;background:linear-gradient(#00cdff 0.5px,#00c9ff 10.5px,#00b2ff 12.5px,#008fff 13.5px,#001bff 15.5px,#0000f3 16.5px,#0000d7 18.5px,#0000d6 64.5px,#0000bd 102.5px,#0000cf 106.5px,#0000ea 108.5px)"></i><i style="height:104px;background:linear-gradient(#00a5ff 0.5px,#009dff 10.5px,#008fff 11.5px,#0071ff 12.5px,#0010ff 14.5px,#00e 15.5px,#0000d5 18.5px,#0000d5 65.5px,#0000ce 99.5px,#0000f1 103.5px)"></i><i style="height:99px;background:linear-gradient(#00a3ff 0.5px,#009eff 8.5px,#0082ff 10.5px,#00f 13.5px,#0000db 16.5px,#0000df 71.5px,#0007ff 83.5px,#000fff 93.5px,#0015ff 97.5px,#001dff 98.5px)"></i><i style="height:94px;background:linear-gradient(#00b1ff 0.5px,#00acff 10.5px,#0091ff 12.5px,#0043ff 14.5px,#0009ff 16.5px,#0000de 19.5px,#0000dc 64.5px,#0001ff 73.5px,#0082ff 86.5px,#008aff 93.5px)"></i><i style="height:91px;background:linear-gradient(#0091ff 0.5px,#0086ff 8.5px,#07f 9.5px,#0007ff 13.5px,#0000db 17.5px,#0000e2 65.5px,#0002ff 71.5px,#0058ff 78.5px,#00bdff 85.5px,#00d1ff 89.5px,#00d0ff 90.5px)"></i><i style="height:88px;background:linear-gradient(#0064ff 0.5px,#005eff 10.5px,#003cff 16.5px,#0000f8 20.5px,#00d 24.5px,#0000e0 66.5px,#0002ff 73.5px,#0095ff 87.5px)"></i><i style="height:84px;background:linear-gradient(#0054ff 0.5px,#0050ff 12.5px,#003aff 14.5px,#0000fc 17.5px,#0000e3 21.5px,#0000e4 71.5px,#0008ff 79.5px,#0036ff 83.5px)"></i><i style="height:81px;background:linear-gradient(#007bff 0.5px,#0076ff 11.5px,#0054ff 15.5px,#000bff 18.5px,#0000f0 20.5px,#0000e5 30.5px,#00d 65.5px,#0000e7 76.5px,#0001ff 79.5px,#01f 80.5px)"></i><i style="height:78px;background:linear-gradient(#008dff 0.5px,#0086ff 8.5px,#0053ff 11.5px,#0045ff 16.5px,#0000fb 21.5px,#0000e5 25.5px,#00d 72.5px,#0000f8 76.5px,#0009ff 77.5px)"></i><i style="height:76px;background:linear-gradient(#008eff 0.5px,#08f 6.5px,#006bff 8.5px,#004eff 9.5px,#0036ff 13.5px,#0000fd 17.5px,#0000eb 23.5px,#0000e6 70.5px,#0002ff 74.5px,#01f 75.5px)"></i><i style="height:75px;background:linear-gradient(#0075ff 0.5px,#006fff 10.5px,#05f 12.5px,#0042ff 18.5px,#0000fc 23.5px,#0000ec 29.5px,#0000e6 69.5px,#0002ff 73.5px,#0012ff 74.5px)"></i><i style="height:73px;background:linear-gradient(#0068ff 0.5px,#0064ff 10.5px,#004cff 16.5px,#0002ff 21.5px,#0000ea 26.5px,#0000e4 67.5px,#00f 71.5px,#0010ff 72.5px)"></i><i style="height:71px;background:linear-gradient(#005cff 0.5px,#0051ff 14.5px,#0036ff 18.5px,#0003ff 22.5px,#0000f4 44.5px,#0000f1 65.5px,#0002ff 68.5px,#001dff 70.5px)"></i><i style="height:69px;background:linear-gradient(#0064ff 0.5px,#005fff 12.5px,#002dff 16.5px,#0007ff 19.5px,#0000f7 63.5px,#0009ff 66.5px,#0023ff 68.5px)"></i><i style="height:68px;background:linear-gradient(#0057ff 0.5px,#0051ff 13.5px,#0006ff 20.5px,#0000fb 62.5px,#0017ff 66.5px,#0027ff 67.5px)"></i><i style="height:66px;background:linear-gradient(#0098ff 0.5px,#0091ff 8.5px,#0072ff 10.5px,#005aff 11.5px,#004aff 17.5px,#0006ff 23.5px,#0000fa 60.5px,#000bff 63.5px,#0025ff 65.5px)"></i><i style="height:65px;background:linear-gradient(#009aff 0.5px,#0095ff 14.5px,#0075ff 17.5px,#0018ff 21.5px,#0000fe 23.5px,#0000f1 36.5px,#0000f3 60.5px,#000cff 63.5px,#001cff 64.5px)"></i><i style="height:65px;background:linear-gradient(#009dff 0.5px,#0096ff 11.5px,#0068ff 14.5px,#004eff 17.5px,#0008ff 22.5px,#0000f9 38.5px,#0000fb 60.5px,#0014ff 63.5px,#0024ff 64.5px)"></i><i style="height:64px;background:linear-gradient(#008fff 0.5px,#008aff 14.5px,#0071ff 17.5px,#01f 22.5px,#0000fd 26.5px,#0000f9 58.5px,#000aff 61.5px,#0024ff 63.5px)"></i><i style="height:64px;background:linear-gradient(#004bff 0.5px,#0039ff 14.5px,#0000fb 20.5px,#00e 37.5px,#0000ed 58.5px,#0009ff 62.5px,#0018ff 63.5px)"></i><i style="height:63px;background:linear-gradient(#0092ff 0.5px,#008aff 10.5px,#006cff 12.5px,#0056ff 16.5px,#000eff 21.5px,#0000fd 28.5px,#0000fb 57.5px,#000cff 60.5px,#0026ff 62.5px)"></i><i style="height:63px;background:linear-gradient(#005bff 0.5px,#004fff 15.5px,#0007ff 23.5px,#0000fb 57.5px,#0017ff 61.5px,#0027ff 62.5px)"></i><i style="height:62px;background:linear-gradient(#007eff 0.5px,#07f 13.5px,#0051ff 16.5px,#0010ff 20.5px,#00f 28.5px,#0006ff 58.5px,#0028ff 61.5px)"></i><i style="height:61px;background:linear-gradient(#008eff 0.5px,#0084ff 12.5px,#0045ff 15.5px,#000cff 21.5px,#0000fe 54.5px,#01f 58.5px,#002cff 60.5px)"></i><i style="height:61px;background:linear-gradient(#008aff 0.5px,#007cff 15.5px,#0068ff 18.5px,#0018ff 23.5px,#0005ff 30.5px,#0006ff 56.5px,#001dff 59.5px,#002dff 60.5px)"></i><i style="height:60px;background:linear-gradient(#0043ff 0.5px,#0039ff 18.5px,#0012ff 25.5px,#000cff 54.5px,#0027ff 58.5px,#0037ff 59.5px)"></i><i style="height:59px;background:linear-gradient(#006cff 0.5px,#0064ff 11.5px,#0050ff 14.5px,#0041ff 20.5px,#000eff 26.5px,#0005ff 52.5px,#0017ff 56.5px,#0032ff 58.5px)"></i><i style="height:58px;background:linear-gradient(#06f 0.5px,#0060ff 6.5px,#03f 9.5px,#0026ff 22.5px,#000cff 29.5px,#000aff 52.5px,#0025ff 56.5px,#0035ff 57.5px)"></i><i style="height:58px;background:linear-gradient(#0097ff 0.5px,#008cff 6.5px,#004eff 9.5px,#0041ff 18.5px,#0014ff 24.5px,#000aff 51.5px,#0027ff 56.5px,#0037ff 57.5px)"></i><i style="height:57px;background:linear-gradient(#00b1ff 0.5px,#00a9ff 4.5px,#0083ff 6.5px,#005eff 7.5px,#0049ff 8.5px,#0042ff 25.5px,#0010ff 33.5px,#000cff 50.5px,#002aff 55.5px,#003aff 56.5px)"></i><i style="height:56px;background:linear-gradient(#0081ff 0.5px,#0078ff 4.5px,#0053ff 6.5px,#0036ff 7.5px,#0025ff 24.5px,#0007ff 31.5px,#0008ff 50.5px,#0023ff 54.5px,#03f 55.5px)"></i><i style="height:55px;background:linear-gradient(#00abff 0.5px,#009eff 5.5px,#006eff 7.5px,#0031ff 9.5px,#001eff 11.5px,#0012ff 48.5px,#0031ff 53.5px,#0041ff 54.5px)"></i><i style="height:54px;background:linear-gradient(#0079ff 0.5px,#006fff 5.5px,#0063ff 7.5px,#005cff 21.5px,#0014ff 29.5px,#000dff 47.5px,#002cff 52.5px,#003cff 53.5px)"></i><i style="height:53px;background:linear-gradient(#00b8ff 0.5px,#00a7ff 3.5px,#0091ff 4.5px,#006cff 5.5px,#0058ff 6.5px,#0052ff 24.5px,#0012ff 32.5px,#000eff 46.5px,#002dff 51.5px,#003dff 52.5px)"></i><i style="height:53px;background:linear-gradient(#0062ff 0.5px,#005bff 5.5px,#0039ff 8.5px,#0031ff 26.5px,#000bff 34.5px,#000dff 47.5px,#002aff 51.5px,#003aff 52.5px)"></i><i style="height:51px;background:linear-gradient(#0051ff 0.5px,#003eff 25.5px,#000bff 32.5px,#000bff 45.5px,#0028ff 49.5px,#0038ff 50.5px)"></i><i style="height:50px;background:linear-gradient(#0047ff 0.5px,#0042ff 9.5px,#0037ff 14.5px,#002eff 28.5px,#0007ff 35.5px,#000eff 45.5px,#0037ff 49.5px)"></i><i style="height:49px;background:linear-gradient(#0046ff 0.5px,#003eff 25.5px,#000bff 32.5px,#000cff 43.5px,#0029ff 47.5px,#0039ff 48.5px)"></i><i style="height:48px;background:linear-gradient(#0064ff 0.5px,#005eff 10.5px,#0051ff 14.5px,#004aff 33.5px,#0010ff 40.5px,#0016ff 44.5px,#0039ff 47.5px)"></i><i style="height:47px;background:linear-gradient(#05f 0.5px,#004dff 29.5px,#0012ff 36.5px,#0015ff 42.5px,#003eff 46.5px)"></i><i style="height:46px;background:linear-gradient(#05f 0.5px,#004cff 9.5px,#0040ff 13.5px,#0036ff 31.5px,#0010ff 37.5px,#001aff 42.5px,#003dff 45.5px)"></i><i style="height:44px;background:linear-gradient(#0048ff 0.5px,#0041ff 30.5px,#0014ff 37.5px,#0023ff 41.5px,#003fff 43.5px)"></i><i style="height:43px;background:linear-gradient(#005cff 0.5px,#0054ff 28.5px,#001fff 35.5px,#002fff 40.5px,#004bff 42.5px)"></i><i style="height:42px;background:linear-gradient(#004eff 0.5px,#0043ff 10.5px,#0037ff 31.5px,#001dff 37.5px,#0032ff 40.5px,#0042ff 41.5px)"></i><i style="height:40px;background:linear-gradient(#0048ff 0.5px,#003bff 25.5px,#0017ff 32.5px,#002aff 37.5px,#0045ff 39.5px)"></i><i style="height:38px;background:linear-gradient(#005bff 0.5px,#004eff 29.5px,#0037ff 34.5px,#0052ff 37.5px)"></i><i style="height:37px;background:linear-gradient(#005eff 0.5px,#006aff 35.5px,#006fff 36.5px)"></i><i style="height:35px;background:linear-gradient(#0074ff 0.5px,#006eff 11.5px,#0048ff 14.5px,#0056ff 31.5px,#0067ff 34.5px)"></i></div>
<svg width="600" height="451" viewBox="0 0 600 451"><path d="M165 253h1v1h-1zM207 253h2v1h-2zM313 253h2v1h-2zM323 253h1v1h-1zM329 253h1v1h-1zM342 253h2v1h-2zM347 253h3v1h-3zM386 253h1v1h-1zM119 254h2v1h-2zM181 254h1v1h-1zM213 254h3v1h-3zM307 254h3v1h-3zM312 254h1v1h-1zM315 254h3v1h-3zM319 254h1v1h-1zM336 254h2v1h-2zM345 254h1v1h-1zM348 254h1v1h-1zM406 254h1v1h-1zM144 255h1v1h-1zM148 255h1v1h-1zM150 255h3v1h-3zM171 255h1v1h-1zM186 255h1v1h-1zM216 255h1v1h-1zM326 255h1v1h-1zM419 255h1v1h-1zM132 256h1v1h-1zM170 256h2v1h-2zM339 256h1v1h-1zM342 256h3v1h-3zM357 256h1v1h-1zM128 257h3v1h-3zM146 257h2v1h-2zM185 257h1v1h-1zM201 257h2v1h-2zM330 257h1v1h-1zM337 257h1v1h-1zM349 257h1v1h-1zM405 257h1v1h-1zM129 258h3v1h-3zM142 258h3v1h-3zM146 258h1v1h-1zM159 258h2v1h-2zM163 258h1v1h-1zM170 258h2v1h-2zM209 258h1v1h-1zM306 258h1v1h-1zM320 258h1v1h-1zM344 258h1v1h-1zM365 258h2v1h-2zM409 258h3v1h-3zM104 259h3v1h-3zM123 259h1v1h-1zM130 259h1v1h-1zM133 259h1v1h-1zM172 259h1v1h-1zM181 259h1v1h-1zM185 259h1v1h-1zM194 259h1v1h-1zM310 259h2v1h-2zM314 259h1v1h-1zM317 259h3v1h-3zM337 259h1v1h-1zM339 259h2v1h-2zM347 259h3v1h-3zM361 259h1v1h-1zM374 259h2v1h-2zM378 259h1v1h-1zM392 259h2v1h-2zM416 259h3v1h-3zM111 260h1v1h-1zM114 260h2v1h-2zM122 260h1v1h-1zM129 260h1v1h-1zM159 260h1v1h-1zM182 260h3v1h-3zM194 260h1v1h-1zM199 260h2v1h-2zM312 260h2v1h-2zM316 260h1v1h-1zM322 260h2v1h-2zM325 260h2v1h-2zM340 260h1v1h-1zM343 260h1v1h-1zM348 260h1v1h-1zM351 260h1v1h-1zM353 260h1v1h-1zM358 260h1v1h-1zM365 260h1v1h-1zM405 260h1v1h-1zM114 261h1v1h-1zM118 261h3v1h-3zM132 261h1v1h-1zM141 261h1v1h-1zM143 261h1v1h-1zM149 261h1v1h-1zM166 261h2v1h-2zM184 261h1v1h-1zM211 261h1v1h-1zM320 261h1v1h-1zM329 261h1v1h-1zM337 261h1v1h-1zM344 261h3v1h-3zM351 261h2v1h-2zM386 261h1v1h-1zM389 261h1v1h-1zM402 261h2v1h-2zM406 261h1v1h-1zM408 261h1v1h-1zM418 261h2v1h-2zM93 262h1v1h-1zM136 262h1v1h-1zM144 262h2v1h-2zM153 262h1v1h-1zM155 262h2v1h-2zM176 262h2v1h-2zM184 262h1v1h-1zM193 262h2v1h-2zM200 262h1v1h-1zM203 262h2v1h-2zM211 262h1v1h-1zM218 262h1v1h-1zM313 262h1v1h-1zM341 262h3v1h-3zM347 262h1v1h-1zM378 262h1v1h-1zM380 262h2v1h-2zM395 262h1v1h-1zM399 262h1v1h-1zM408 262h1v1h-1zM118 263h1v1h-1zM126 263h3v1h-3zM157 263h1v1h-1zM162 263h2v1h-2zM176 263h2v1h-2zM183 263h1v1h-1zM185 263h1v1h-1zM196 263h2v1h-2zM213 263h1v1h-1zM313 263h1v1h-1zM315 263h1v1h-1zM339 263h2v1h-2zM361 263h1v1h-1zM388 263h1v1h-1zM393 263h2v1h-2zM407 263h1v1h-1zM417 263h1v1h-1zM90 264h3v1h-3zM111 264h1v1h-1zM148 264h3v1h-3zM153 264h2v1h-2zM161 264h1v1h-1zM172 264h1v1h-1zM186 264h3v1h-3zM196 264h2v1h-2zM205 264h1v1h-1zM312 264h1v1h-1zM322 264h1v1h-1zM332 264h3v1h-3zM340 264h1v1h-1zM350 264h2v1h-2zM379 264h3v1h-3zM393 264h1v1h-1zM96 265h1v1h-1zM108 265h1v1h-1zM130 265h2v1h-2zM140 265h1v1h-1zM145 265h1v1h-1zM147 265h1v1h-1zM158 265h1v1h-1zM166 265h1v1h-1zM180 265h1v1h-1zM194 265h2v1h-2zM220 265h1v1h-1zM308 265h1v1h-1zM318 265h2v1h-2zM345 265h1v1h-1zM351 265h1v1h-1zM382 265h1v1h-1zM388 265h1v1h-1zM412 265h1v1h-1zM138 266h3v1h-3zM171 266h1v1h-1zM178 266h2v1h-2zM186 266h1v1h-1zM191 266h1v1h-1zM193 266h1v1h-1zM196 266h1v1h-1zM202 266h1v1h-1zM311 266h2v1h-2zM345 266h1v1h-1zM356 266h2v1h-2zM367 266h1v1h-1zM371 266h2v1h-2zM376 266h1v1h-1zM381 266h1v1h-1zM404 266h3v1h-3zM120 267h2v1h-2zM134 267h1v1h-1zM158 267h1v1h-1zM166 267h1v1h-1zM178 267h1v1h-1zM206 267h1v1h-1zM220 267h1v1h-1zM314 267h2v1h-2zM342 267h1v1h-1zM347 267h1v1h-1zM349 267h2v1h-2zM352 267h1v1h-1zM354 267h2v1h-2zM361 267h1v1h-1zM378 267h1v1h-1zM389 267h1v1h-1zM393 267h1v1h-1zM111 268h1v1h-1zM114 268h1v1h-1zM131 268h2v1h-2zM137 268h1v1h-1zM146 268h1v1h-1zM148 268h2v1h-2zM170 268h1v1h-1zM178 268h1v1h-1zM197 268h1v1h-1zM212 268h2v1h-2zM311 268h1v1h-1zM324 268h1v1h-1zM327 268h2v1h-2zM332 268h1v1h-1zM340 268h2v1h-2zM381 268h1v1h-1zM401 268h1v1h-1zM422 268h1v1h-1zM105 269h1v1h-1zM122 269h2v1h-2zM126 269h1v1h-1zM133 269h2v1h-2zM152 269h2v1h-2zM167 269h1v1h-1zM170 269h2v1h-2zM182 269h1v1h-1zM191 269h2v1h-2zM195 269h1v1h-1zM198 269h2v1h-2zM202 269h1v1h-1zM204 269h1v1h-1zM211 269h1v1h-1zM218 269h3v1h-3zM222 269h1v1h-1zM309 269h3v1h-3zM320 269h1v1h-1zM328 269h2v1h-2zM336 269h1v1h-1zM347 269h1v1h-1zM350 269h2v1h-2zM355 269h1v1h-1zM358 269h2v1h-2zM389 269h1v1h-1zM403 269h1v1h-1zM405 269h1v1h-1zM410 269h1v1h-1zM115 270h1v1h-1zM125 270h1v1h-1zM136 270h2v1h-2zM147 270h1v1h-1zM156 270h1v1h-1zM159 270h1v1h-1zM162 270h1v1h-1zM164 270h2v1h-2zM172 270h1v1h-1zM181 270h1v1h-1zM187 270h1v1h-1zM192 270h2v1h-2zM202 270h1v1h-1zM214 270h1v1h-1zM223 270h1v1h-1zM318 270h1v1h-1zM323 270h1v1h-1zM341 270h3v1h-3zM363 270h1v1h-1zM390 270h1v1h-1zM100 271h2v1h-2zM130 271h3v1h-3zM138 271h1v1h-1zM149 271h1v1h-1zM162 271h1v1h-1zM173 271h1v1h-1zM175 271h2v1h-2zM201 271h1v1h-1zM210 271h1v1h-1zM213 271h1v1h-1zM326 271h1v1h-1zM332 271h1v1h-1zM337 271h3v1h-3zM344 271h1v1h-1zM351 271h1v1h-1zM365 271h1v1h-1zM388 271h3v1h-3zM392 271h1v1h-1zM115 272h2v1h-2zM118 272h2v1h-2zM130 272h2v1h-2zM135 272h1v1h-1zM139 272h2v1h-2zM150 272h2v1h-2zM174 272h1v1h-1zM180 272h1v1h-1zM192 272h2v1h-2zM195 272h2v1h-2zM198 272h1v1h-1zM204 272h2v1h-2zM211 272h1v1h-1zM214 272h3v1h-3zM325 272h3v1h-3zM338 272h2v1h-2zM341 272h2v1h-2zM353 272h2v1h-2zM356 272h2v1h-2zM367 272h1v1h-1zM378 272h2v1h-2zM392 272h3v1h-3zM117 273h1v1h-1zM125 273h1v1h-1zM152 273h1v1h-1zM179 273h3v1h-3zM184 273h1v1h-1zM188 273h3v1h-3zM194 273h2v1h-2zM199 273h2v1h-2zM209 273h1v1h-1zM218 273h1v1h-1zM224 273h1v1h-1zM319 273h1v1h-1zM324 273h2v1h-2zM335 273h1v1h-1zM340 273h1v1h-1zM345 273h2v1h-2zM367 273h1v1h-1zM390 273h1v1h-1zM418 273h3v1h-3zM108 274h1v1h-1zM115 274h1v1h-1zM117 274h1v1h-1zM150 274h1v1h-1zM153 274h1v1h-1zM155 274h1v1h-1zM161 274h2v1h-2zM166 274h1v1h-1zM171 274h1v1h-1zM176 274h3v1h-3zM185 274h1v1h-1zM188 274h2v1h-2zM201 274h2v1h-2zM313 274h1v1h-1zM333 274h3v1h-3zM346 274h1v1h-1zM365 274h2v1h-2zM394 274h3v1h-3zM111 275h2v1h-2zM125 275h2v1h-2zM142 275h1v1h-1zM154 275h1v1h-1zM157 275h1v1h-1zM164 275h3v1h-3zM168 275h3v1h-3zM191 275h1v1h-1zM203 275h1v1h-1zM208 275h1v1h-1zM217 275h3v1h-3zM312 275h2v1h-2zM325 275h1v1h-1zM328 275h3v1h-3zM334 275h1v1h-1zM339 275h1v1h-1zM363 275h2v1h-2zM378 275h1v1h-1zM93 276h1v1h-1zM115 276h1v1h-1zM123 276h1v1h-1zM131 276h1v1h-1zM169 276h2v1h-2zM172 276h2v1h-2zM179 276h1v1h-1zM185 276h1v1h-1zM188 276h1v1h-1zM190 276h1v1h-1zM193 276h2v1h-2zM213 276h1v1h-1zM220 276h1v1h-1zM321 276h2v1h-2zM329 276h1v1h-1zM332 276h2v1h-2zM339 276h1v1h-1zM342 276h3v1h-3zM350 276h1v1h-1zM358 276h1v1h-1zM361 276h1v1h-1zM366 276h2v1h-2zM378 276h3v1h-3zM401 276h3v1h-3zM108 277h1v1h-1zM121 277h2v1h-2zM129 277h2v1h-2zM147 277h2v1h-2zM163 277h1v1h-1zM216 277h2v1h-2zM301 277h1v1h-1zM321 277h2v1h-2zM325 277h1v1h-1zM329 277h1v1h-1zM332 277h1v1h-1zM381 277h1v1h-1zM389 277h1v1h-1zM391 277h1v1h-1zM394 277h1v1h-1zM397 277h2v1h-2zM400 277h1v1h-1zM403 277h1v1h-1zM102 278h1v1h-1zM110 278h2v1h-2zM113 278h1v1h-1zM121 278h1v1h-1zM125 278h1v1h-1zM131 278h3v1h-3zM158 278h2v1h-2zM168 278h1v1h-1zM173 278h2v1h-2zM185 278h2v1h-2zM221 278h1v1h-1zM223 278h2v1h-2zM312 278h1v1h-1zM315 278h2v1h-2zM319 278h1v1h-1zM324 278h2v1h-2zM332 278h1v1h-1zM345 278h1v1h-1zM365 278h1v1h-1zM377 278h2v1h-2zM105 279h1v1h-1zM126 279h1v1h-1zM146 279h1v1h-1zM150 279h1v1h-1zM156 279h3v1h-3zM170 279h1v1h-1zM180 279h1v1h-1zM183 279h1v1h-1zM202 279h3v1h-3zM211 279h1v1h-1zM213 279h1v1h-1zM215 279h1v1h-1zM219 279h1v1h-1zM223 279h1v1h-1zM311 279h1v1h-1zM319 279h1v1h-1zM326 279h1v1h-1zM338 279h3v1h-3zM343 279h2v1h-2zM348 279h1v1h-1zM355 279h1v1h-1zM131 280h1v1h-1zM134 280h1v1h-1zM139 280h1v1h-1zM145 280h1v1h-1zM149 280h1v1h-1zM162 280h1v1h-1zM178 280h1v1h-1zM200 280h1v1h-1zM207 280h1v1h-1zM212 280h1v1h-1zM214 280h1v1h-1zM224 280h3v1h-3zM313 280h2v1h-2zM327 280h1v1h-1zM331 280h1v1h-1zM343 280h3v1h-3zM382 280h1v1h-1zM131 281h2v1h-2zM141 281h3v1h-3zM157 281h1v1h-1zM159 281h3v1h-3zM171 281h1v1h-1zM220 281h1v1h-1zM224 281h1v1h-1zM316 281h1v1h-1zM318 281h1v1h-1zM322 281h1v1h-1zM333 281h1v1h-1zM339 281h1v1h-1zM356 281h1v1h-1zM361 281h2v1h-2zM366 281h1v1h-1zM393 281h3v1h-3zM415 281h1v1h-1zM122 282h1v1h-1zM140 282h2v1h-2zM151 282h2v1h-2zM161 282h2v1h-2zM165 282h1v1h-1zM178 282h2v1h-2zM182 282h1v1h-1zM184 282h1v1h-1zM193 282h1v1h-1zM196 282h2v1h-2zM199 282h1v1h-1zM201 282h1v1h-1zM209 282h1v1h-1zM211 282h3v1h-3zM308 282h1v1h-1zM323 282h1v1h-1zM326 282h2v1h-2zM336 282h1v1h-1zM338 282h2v1h-2zM352 282h2v1h-2zM365 282h2v1h-2zM389 282h1v1h-1zM129 283h1v1h-1zM132 283h1v1h-1zM142 283h1v1h-1zM157 283h2v1h-2zM167 283h2v1h-2zM191 283h2v1h-2zM202 283h1v1h-1zM204 283h2v1h-2zM212 283h1v1h-1zM226 283h1v1h-1zM310 283h1v1h-1zM312 283h1v1h-1zM325 283h1v1h-1zM333 283h1v1h-1zM335 283h2v1h-2zM345 283h1v1h-1zM382 283h1v1h-1zM399 283h1v1h-1zM405 283h1v1h-1zM407 283h3v1h-3zM104 284h1v1h-1zM120 284h1v1h-1zM122 284h2v1h-2zM127 284h3v1h-3zM133 284h3v1h-3zM151 284h2v1h-2zM163 284h2v1h-2zM171 284h1v1h-1zM177 284h1v1h-1zM180 284h1v1h-1zM204 284h2v1h-2zM211 284h1v1h-1zM213 284h1v1h-1zM311 284h1v1h-1zM343 284h1v1h-1zM348 284h1v1h-1zM354 284h1v1h-1zM401 284h1v1h-1zM120 285h1v1h-1zM125 285h1v1h-1zM142 285h1v1h-1zM175 285h1v1h-1zM179 285h1v1h-1zM187 285h1v1h-1zM192 285h1v1h-1zM198 285h3v1h-3zM203 285h3v1h-3zM214 285h1v1h-1zM226 285h3v1h-3zM338 285h1v1h-1zM342 285h1v1h-1zM345 285h2v1h-2zM356 285h1v1h-1zM358 285h1v1h-1zM368 285h2v1h-2zM377 285h1v1h-1zM402 285h1v1h-1zM405 285h1v1h-1zM416 285h1v1h-1zM418 285h3v1h-3zM135 286h2v1h-2zM155 286h1v1h-1zM186 286h1v1h-1zM199 286h1v1h-1zM216 286h1v1h-1zM329 286h1v1h-1zM128 287h1v1h-1zM132 287h1v1h-1zM140 287h1v1h-1zM143 287h3v1h-3zM152 287h1v1h-1zM165 287h3v1h-3zM176 287h3v1h-3zM201 287h1v1h-1zM203 287h2v1h-2zM207 287h1v1h-1zM209 287h1v1h-1zM213 287h1v1h-1zM223 287h2v1h-2zM317 287h2v1h-2zM331 287h1v1h-1zM340 287h1v1h-1zM346 287h2v1h-2zM350 287h1v1h-1zM352 287h3v1h-3zM357 287h1v1h-1zM363 287h2v1h-2zM371 287h1v1h-1zM391 287h1v1h-1zM401 287h1v1h-1zM414 287h1v1h-1zM126 288h1v1h-1zM129 288h1v1h-1zM140 288h1v1h-1zM146 288h1v1h-1zM161 288h1v1h-1zM178 288h1v1h-1zM190 288h3v1h-3zM209 288h1v1h-1zM213 288h1v1h-1zM217 288h1v1h-1zM223 288h1v1h-1zM306 288h1v1h-1zM325 288h2v1h-2zM341 288h1v1h-1zM346 288h1v1h-1zM349 288h1v1h-1zM402 288h3v1h-3zM406 288h1v1h-1zM414 288h1v1h-1zM128 289h1v1h-1zM133 289h1v1h-1zM141 289h2v1h-2zM147 289h1v1h-1zM170 289h3v1h-3zM187 289h1v1h-1zM189 289h1v1h-1zM199 289h1v1h-1zM205 289h1v1h-1zM214 289h1v1h-1zM218 289h1v1h-1zM227 289h2v1h-2zM230 289h3v1h-3zM322 289h2v1h-2zM327 289h1v1h-1zM332 289h1v1h-1zM336 289h2v1h-2zM341 289h1v1h-1zM348 289h2v1h-2zM351 289h1v1h-1zM361 289h1v1h-1zM400 289h1v1h-1zM119 290h2v1h-2zM128 290h1v1h-1zM135 290h2v1h-2zM141 290h1v1h-1zM147 290h1v1h-1zM161 290h2v1h-2zM165 290h2v1h-2zM172 290h1v1h-1zM183 290h2v1h-2zM199 290h1v1h-1zM212 290h3v1h-3zM228 290h1v1h-1zM313 290h2v1h-2zM317 290h1v1h-1zM319 290h1v1h-1zM322 290h2v1h-2zM335 290h2v1h-2zM344 290h2v1h-2zM350 290h1v1h-1zM363 290h1v1h-1zM379 290h3v1h-3zM406 290h2v1h-2zM108 291h1v1h-1zM126 291h1v1h-1zM134 291h2v1h-2zM139 291h1v1h-1zM145 291h1v1h-1zM164 291h1v1h-1zM173 291h2v1h-2zM176 291h1v1h-1zM180 291h1v1h-1zM182 291h1v1h-1zM194 291h2v1h-2zM303 291h1v1h-1zM318 291h1v1h-1zM329 291h1v1h-1zM339 291h2v1h-2zM353 291h1v1h-1zM114 292h2v1h-2zM121 292h3v1h-3zM128 292h1v1h-1zM133 292h2v1h-2zM152 292h2v1h-2zM158 292h2v1h-2zM166 292h1v1h-1zM178 292h3v1h-3zM184 292h1v1h-1zM193 292h1v1h-1zM202 292h1v1h-1zM208 292h2v1h-2zM219 292h1v1h-1zM304 292h2v1h-2zM312 292h1v1h-1zM323 292h1v1h-1zM350 292h1v1h-1zM356 292h2v1h-2zM377 292h1v1h-1zM393 292h1v1h-1zM404 292h1v1h-1zM128 293h2v1h-2zM136 293h2v1h-2zM143 293h1v1h-1zM148 293h1v1h-1zM165 293h1v1h-1zM172 293h1v1h-1zM185 293h2v1h-2zM189 293h1v1h-1zM207 293h1v1h-1zM210 293h2v1h-2zM223 293h3v1h-3zM312 293h1v1h-1zM317 293h1v1h-1zM341 293h3v1h-3zM346 293h1v1h-1zM364 293h1v1h-1zM373 293h1v1h-1zM384 293h2v1h-2zM390 293h2v1h-2zM402 293h3v1h-3zM107 294h1v1h-1zM113 294h2v1h-2zM125 294h1v1h-1zM130 294h1v1h-1zM144 294h1v1h-1zM180 294h1v1h-1zM185 294h2v1h-2zM189 294h2v1h-2zM192 294h1v1h-1zM208 294h2v1h-2zM331 294h1v1h-1zM349 294h1v1h-1zM361 294h2v1h-2zM376 294h2v1h-2zM380 294h1v1h-1zM389 294h1v1h-1zM393 294h1v1h-1zM124 295h1v1h-1zM136 295h2v1h-2zM163 295h3v1h-3zM193 295h1v1h-1zM228 295h1v1h-1zM318 295h2v1h-2zM335 295h3v1h-3zM341 295h2v1h-2zM361 295h1v1h-1zM365 295h1v1h-1zM389 295h3v1h-3zM97 296h2v1h-2zM116 296h1v1h-1zM132 296h1v1h-1zM135 296h1v1h-1zM145 296h1v1h-1zM157 296h1v1h-1zM171 296h3v1h-3zM176 296h1v1h-1zM187 296h1v1h-1zM189 296h1v1h-1zM204 296h3v1h-3zM215 296h2v1h-2zM228 296h3v1h-3zM309 296h1v1h-1zM322 296h2v1h-2zM328 296h1v1h-1zM337 296h3v1h-3zM342 296h1v1h-1zM346 296h1v1h-1zM350 296h2v1h-2zM361 296h2v1h-2zM365 296h1v1h-1zM379 296h1v1h-1zM392 296h2v1h-2zM400 296h1v1h-1zM109 297h1v1h-1zM113 297h1v1h-1zM141 297h2v1h-2zM154 297h1v1h-1zM162 297h1v1h-1zM184 297h1v1h-1zM197 297h1v1h-1zM206 297h2v1h-2zM311 297h1v1h-1zM320 297h1v1h-1zM330 297h3v1h-3zM354 297h1v1h-1zM377 297h1v1h-1zM381 297h2v1h-2zM402 297h2v1h-2zM408 297h1v1h-1zM122 298h1v1h-1zM130 298h1v1h-1zM137 298h3v1h-3zM166 298h1v1h-1zM181 298h1v1h-1zM185 298h1v1h-1zM196 298h1v1h-1zM208 298h1v1h-1zM215 298h1v1h-1zM220 298h1v1h-1zM311 298h1v1h-1zM325 298h2v1h-2zM342 298h3v1h-3zM367 298h1v1h-1zM417 298h1v1h-1zM96 299h1v1h-1zM109 299h1v1h-1zM122 299h2v1h-2zM139 299h2v1h-2zM156 299h1v1h-1zM163 299h3v1h-3zM179 299h1v1h-1zM182 299h1v1h-1zM196 299h1v1h-1zM199 299h1v1h-1zM208 299h2v1h-2zM216 299h2v1h-2zM221 299h2v1h-2zM225 299h1v1h-1zM228 299h1v1h-1zM231 299h1v1h-1zM314 299h1v1h-1zM323 299h1v1h-1zM328 299h1v1h-1zM337 299h1v1h-1zM360 299h2v1h-2zM402 299h1v1h-1zM107 300h3v1h-3zM151 300h1v1h-1zM161 300h1v1h-1zM224 300h1v1h-1zM226 300h1v1h-1zM229 300h2v1h-2zM321 300h1v1h-1zM326 300h1v1h-1zM357 300h1v1h-1zM361 300h3v1h-3zM367 300h1v1h-1zM379 300h1v1h-1zM381 300h1v1h-1zM99 301h1v1h-1zM115 301h2v1h-2zM119 301h1v1h-1zM143 301h3v1h-3zM148 301h1v1h-1zM156 301h1v1h-1zM170 301h1v1h-1zM173 301h1v1h-1zM189 301h2v1h-2zM196 301h1v1h-1zM222 301h3v1h-3zM318 301h2v1h-2zM327 301h3v1h-3zM344 301h3v1h-3zM354 301h3v1h-3zM377 301h1v1h-1zM104 302h2v1h-2zM125 302h1v1h-1zM136 302h1v1h-1zM156 302h1v1h-1zM161 302h3v1h-3zM165 302h2v1h-2zM175 302h2v1h-2zM189 302h3v1h-3zM204 302h1v1h-1zM208 302h1v1h-1zM212 302h1v1h-1zM215 302h1v1h-1zM217 302h1v1h-1zM321 302h2v1h-2zM344 302h1v1h-1zM356 302h2v1h-2zM363 302h1v1h-1zM367 302h1v1h-1zM387 302h1v1h-1zM112 303h1v1h-1zM118 303h2v1h-2zM121 303h1v1h-1zM135 303h1v1h-1zM148 303h3v1h-3zM162 303h1v1h-1zM187 303h2v1h-2zM201 303h1v1h-1zM203 303h1v1h-1zM209 303h2v1h-2zM213 303h2v1h-2zM223 303h1v1h-1zM317 303h1v1h-1zM325 303h3v1h-3zM341 303h1v1h-1zM354 303h3v1h-3zM365 303h1v1h-1zM367 303h1v1h-1zM374 303h1v1h-1zM390 303h2v1h-2zM395 303h1v1h-1zM403 303h1v1h-1zM93 304h1v1h-1zM143 304h3v1h-3zM153 304h1v1h-1zM166 304h1v1h-1zM185 304h1v1h-1zM199 304h1v1h-1zM202 304h1v1h-1zM208 304h1v1h-1zM217 304h1v1h-1zM311 304h1v1h-1zM313 304h2v1h-2zM321 304h1v1h-1zM328 304h1v1h-1zM335 304h1v1h-1zM337 304h3v1h-3zM360 304h1v1h-1zM374 304h1v1h-1zM123 305h1v1h-1zM125 305h3v1h-3zM130 305h3v1h-3zM141 305h1v1h-1zM156 305h1v1h-1zM162 305h1v1h-1zM178 305h2v1h-2zM189 305h1v1h-1zM202 305h1v1h-1zM209 305h1v1h-1zM212 305h2v1h-2zM226 305h2v1h-2zM327 305h3v1h-3zM331 305h1v1h-1zM343 305h3v1h-3zM390 305h1v1h-1zM395 305h2v1h-2zM109 306h3v1h-3zM115 306h3v1h-3zM162 306h2v1h-2zM170 306h3v1h-3zM175 306h2v1h-2zM185 306h3v1h-3zM197 306h1v1h-1zM204 306h1v1h-1zM206 306h1v1h-1zM212 306h1v1h-1zM227 306h2v1h-2zM306 306h1v1h-1zM335 306h1v1h-1zM337 306h1v1h-1zM342 306h3v1h-3zM349 306h1v1h-1zM352 306h1v1h-1zM359 306h1v1h-1zM391 306h1v1h-1zM121 307h1v1h-1zM130 307h2v1h-2zM173 307h1v1h-1zM183 307h1v1h-1zM190 307h1v1h-1zM200 307h3v1h-3zM209 307h1v1h-1zM211 307h2v1h-2zM214 307h2v1h-2zM316 307h1v1h-1zM318 307h1v1h-1zM322 307h1v1h-1zM328 307h1v1h-1zM332 307h2v1h-2zM350 307h2v1h-2zM354 307h2v1h-2zM357 307h1v1h-1zM362 307h3v1h-3zM367 307h1v1h-1zM131 308h2v1h-2zM137 308h3v1h-3zM149 308h1v1h-1zM155 308h1v1h-1zM172 308h1v1h-1zM179 308h1v1h-1zM188 308h1v1h-1zM200 308h1v1h-1zM210 308h1v1h-1zM212 308h1v1h-1zM232 308h1v1h-1zM309 308h1v1h-1zM311 308h1v1h-1zM314 308h2v1h-2zM321 308h1v1h-1zM334 308h1v1h-1zM340 308h1v1h-1zM345 308h3v1h-3zM355 308h1v1h-1zM405 308h2v1h-2zM416 308h2v1h-2zM419 308h1v1h-1zM104 309h3v1h-3zM128 309h2v1h-2zM133 309h1v1h-1zM142 309h2v1h-2zM171 309h1v1h-1zM173 309h1v1h-1zM176 309h2v1h-2zM192 309h1v1h-1zM210 309h2v1h-2zM213 309h1v1h-1zM219 309h1v1h-1zM227 309h1v1h-1zM330 309h1v1h-1zM332 309h2v1h-2zM338 309h2v1h-2zM342 309h1v1h-1zM349 309h2v1h-2zM363 309h1v1h-1zM370 309h2v1h-2zM373 309h2v1h-2zM376 309h1v1h-1zM382 309h1v1h-1zM404 309h1v1h-1zM118 310h1v1h-1zM129 310h1v1h-1zM133 310h2v1h-2zM145 310h2v1h-2zM159 310h2v1h-2zM163 310h2v1h-2zM171 310h1v1h-1zM180 310h1v1h-1zM197 310h1v1h-1zM208 310h1v1h-1zM224 310h1v1h-1zM226 310h1v1h-1zM324 310h2v1h-2zM327 310h1v1h-1zM335 310h2v1h-2zM347 310h1v1h-1zM349 310h3v1h-3zM360 310h1v1h-1zM367 310h1v1h-1zM381 310h1v1h-1zM392 310h3v1h-3zM420 310h3v1h-3zM147 311h1v1h-1zM152 311h1v1h-1zM162 311h3v1h-3zM172 311h1v1h-1zM195 311h3v1h-3zM203 311h3v1h-3zM208 311h1v1h-1zM210 311h1v1h-1zM221 311h3v1h-3zM314 311h2v1h-2zM329 311h1v1h-1zM331 311h2v1h-2zM334 311h1v1h-1zM339 311h2v1h-2zM354 311h2v1h-2zM365 311h2v1h-2zM391 311h1v1h-1zM119 312h1v1h-1zM143 312h1v1h-1zM156 312h1v1h-1zM163 312h1v1h-1zM194 312h1v1h-1zM196 312h3v1h-3zM203 312h1v1h-1zM211 312h1v1h-1zM320 312h3v1h-3zM332 312h1v1h-1zM338 312h1v1h-1zM342 312h1v1h-1zM366 312h1v1h-1zM372 312h3v1h-3zM376 312h1v1h-1zM101 313h2v1h-2zM105 313h1v1h-1zM133 313h1v1h-1zM142 313h3v1h-3zM160 313h2v1h-2zM172 313h1v1h-1zM186 313h1v1h-1zM206 313h1v1h-1zM215 313h2v1h-2zM219 313h2v1h-2zM223 313h1v1h-1zM227 313h1v1h-1zM317 313h1v1h-1zM324 313h1v1h-1zM326 313h1v1h-1zM343 313h2v1h-2zM361 313h1v1h-1zM363 313h1v1h-1zM376 313h2v1h-2zM401 313h2v1h-2zM123 314h2v1h-2zM136 314h1v1h-1zM145 314h1v1h-1zM157 314h1v1h-1zM159 314h1v1h-1zM171 314h1v1h-1zM173 314h3v1h-3zM183 314h1v1h-1zM190 314h1v1h-1zM206 314h1v1h-1zM209 314h1v1h-1zM212 314h1v1h-1zM221 314h1v1h-1zM231 314h3v1h-3zM311 314h1v1h-1zM318 314h2v1h-2zM329 314h2v1h-2zM346 314h2v1h-2zM349 314h3v1h-3zM354 314h3v1h-3zM360 314h1v1h-1zM377 314h1v1h-1zM403 314h1v1h-1zM406 314h1v1h-1zM122 315h1v1h-1zM133 315h1v1h-1zM135 315h1v1h-1zM146 315h1v1h-1zM155 315h1v1h-1zM173 315h1v1h-1zM198 315h1v1h-1zM209 315h1v1h-1zM213 315h1v1h-1zM219 315h1v1h-1zM221 315h3v1h-3zM307 315h1v1h-1zM319 315h1v1h-1zM328 315h1v1h-1zM339 315h1v1h-1zM345 315h1v1h-1zM363 315h2v1h-2zM400 315h1v1h-1zM146 316h1v1h-1zM149 316h1v1h-1zM160 316h1v1h-1zM169 316h1v1h-1zM196 316h3v1h-3zM207 316h2v1h-2zM210 316h1v1h-1zM216 316h2v1h-2zM222 316h2v1h-2zM318 316h1v1h-1zM326 316h1v1h-1zM339 316h1v1h-1zM341 316h1v1h-1zM349 316h1v1h-1zM356 316h1v1h-1zM366 316h2v1h-2zM395 316h1v1h-1zM403 316h1v1h-1zM105 317h2v1h-2zM112 317h2v1h-2zM119 317h3v1h-3zM124 317h1v1h-1zM142 317h1v1h-1zM165 317h3v1h-3zM172 317h1v1h-1zM185 317h1v1h-1zM189 317h1v1h-1zM199 317h1v1h-1zM203 317h3v1h-3zM208 317h2v1h-2zM218 317h1v1h-1zM309 317h1v1h-1zM318 317h1v1h-1zM324 317h1v1h-1zM335 317h2v1h-2zM340 317h1v1h-1zM348 317h1v1h-1zM351 317h1v1h-1zM394 317h1v1h-1zM401 317h1v1h-1zM416 317h2v1h-2zM130 318h1v1h-1zM139 318h2v1h-2zM158 318h2v1h-2zM161 318h1v1h-1zM164 318h2v1h-2zM167 318h1v1h-1zM201 318h1v1h-1zM215 318h3v1h-3zM307 318h3v1h-3zM322 318h1v1h-1zM324 318h1v1h-1zM330 318h2v1h-2zM333 318h1v1h-1zM350 318h1v1h-1zM121 319h1v1h-1zM124 319h2v1h-2zM143 319h2v1h-2zM147 319h1v1h-1zM151 319h1v1h-1zM176 319h1v1h-1zM179 319h3v1h-3zM184 319h1v1h-1zM189 319h2v1h-2zM195 319h1v1h-1zM198 319h1v1h-1zM227 319h1v1h-1zM310 319h2v1h-2zM318 319h1v1h-1zM328 319h1v1h-1zM331 319h2v1h-2zM337 319h1v1h-1zM380 319h1v1h-1zM415 319h1v1h-1zM113 320h2v1h-2zM146 320h2v1h-2zM149 320h2v1h-2zM169 320h2v1h-2zM175 320h3v1h-3zM186 320h2v1h-2zM194 320h1v1h-1zM216 320h1v1h-1zM303 320h2v1h-2zM306 320h1v1h-1zM349 320h2v1h-2zM363 320h2v1h-2zM383 320h2v1h-2zM106 321h3v1h-3zM130 321h1v1h-1zM137 321h2v1h-2zM148 321h1v1h-1zM152 321h2v1h-2zM157 321h2v1h-2zM170 321h2v1h-2zM186 321h1v1h-1zM192 321h3v1h-3zM196 321h1v1h-1zM217 321h1v1h-1zM220 321h1v1h-1zM227 321h3v1h-3zM310 321h3v1h-3zM326 321h1v1h-1zM328 321h1v1h-1zM336 321h1v1h-1zM352 321h3v1h-3zM364 321h2v1h-2zM370 321h1v1h-1zM376 321h1v1h-1zM124 322h1v1h-1zM144 322h1v1h-1zM152 322h1v1h-1zM157 322h1v1h-1zM171 322h1v1h-1zM173 322h2v1h-2zM180 322h1v1h-1zM200 322h1v1h-1zM204 322h1v1h-1zM213 322h3v1h-3zM225 322h1v1h-1zM309 322h1v1h-1zM337 322h2v1h-2zM380 322h1v1h-1zM388 322h1v1h-1zM403 322h2v1h-2zM407 322h1v1h-1zM411 322h1v1h-1zM108 323h1v1h-1zM124 323h1v1h-1zM146 323h1v1h-1zM153 323h2v1h-2zM157 323h3v1h-3zM162 323h1v1h-1zM167 323h1v1h-1zM170 323h1v1h-1zM178 323h1v1h-1zM180 323h1v1h-1zM186 323h1v1h-1zM222 323h2v1h-2zM323 323h1v1h-1zM332 323h3v1h-3zM337 323h1v1h-1zM355 323h1v1h-1zM361 323h1v1h-1zM364 323h3v1h-3zM390 323h1v1h-1zM406 323h2v1h-2zM415 323h1v1h-1zM125 324h1v1h-1zM133 324h2v1h-2zM136 324h1v1h-1zM138 324h1v1h-1zM156 324h1v1h-1zM176 324h1v1h-1zM178 324h2v1h-2zM184 324h1v1h-1zM190 324h2v1h-2zM204 324h1v1h-1zM207 324h1v1h-1zM231 324h1v1h-1zM318 324h2v1h-2zM341 324h2v1h-2zM351 324h2v1h-2zM363 324h1v1h-1zM367 324h3v1h-3zM375 324h2v1h-2zM379 324h1v1h-1zM390 324h1v1h-1zM113 325h1v1h-1zM132 325h3v1h-3zM142 325h2v1h-2zM157 325h2v1h-2zM162 325h1v1h-1zM176 325h1v1h-1zM192 325h1v1h-1zM202 325h2v1h-2zM206 325h1v1h-1zM219 325h1v1h-1zM230 325h1v1h-1zM232 325h2v1h-2zM309 325h3v1h-3zM318 325h3v1h-3zM325 325h3v1h-3zM330 325h1v1h-1zM342 325h1v1h-1zM350 325h1v1h-1zM360 325h2v1h-2zM377 325h1v1h-1zM380 325h3v1h-3zM123 326h1v1h-1zM132 326h1v1h-1zM135 326h1v1h-1zM141 326h3v1h-3zM159 326h1v1h-1zM171 326h1v1h-1zM209 326h1v1h-1zM220 326h2v1h-2zM223 326h2v1h-2zM317 326h1v1h-1zM319 326h1v1h-1zM323 326h1v1h-1zM335 326h2v1h-2zM356 326h1v1h-1zM378 326h1v1h-1zM111 327h1v1h-1zM133 327h1v1h-1zM149 327h2v1h-2zM169 327h2v1h-2zM173 327h2v1h-2zM180 327h1v1h-1zM188 327h2v1h-2zM200 327h1v1h-1zM212 327h1v1h-1zM218 327h1v1h-1zM225 327h1v1h-1zM310 327h1v1h-1zM313 327h3v1h-3zM327 327h3v1h-3zM347 327h1v1h-1zM357 327h1v1h-1zM377 327h2v1h-2zM395 327h1v1h-1zM404 327h2v1h-2zM130 328h2v1h-2zM136 328h1v1h-1zM143 328h1v1h-1zM148 328h1v1h-1zM172 328h1v1h-1zM174 328h1v1h-1zM179 328h1v1h-1zM183 328h1v1h-1zM197 328h1v1h-1zM204 328h1v1h-1zM214 328h2v1h-2zM218 328h1v1h-1zM310 328h2v1h-2zM322 328h1v1h-1zM342 328h1v1h-1zM350 328h1v1h-1zM357 328h2v1h-2zM361 328h2v1h-2zM369 328h2v1h-2zM378 328h1v1h-1zM388 328h3v1h-3zM401 328h1v1h-1zM112 329h1v1h-1zM117 329h1v1h-1zM119 329h1v1h-1zM181 329h1v1h-1zM199 329h2v1h-2zM202 329h1v1h-1zM206 329h3v1h-3zM225 329h1v1h-1zM228 329h1v1h-1zM310 329h1v1h-1zM330 329h1v1h-1zM332 329h1v1h-1zM334 329h1v1h-1zM354 329h2v1h-2zM361 329h1v1h-1zM387 329h1v1h-1zM391 329h1v1h-1zM393 329h1v1h-1zM408 329h2v1h-2zM111 330h1v1h-1zM113 330h2v1h-2zM129 330h1v1h-1zM136 330h1v1h-1zM165 330h1v1h-1zM174 330h1v1h-1zM178 330h1v1h-1zM180 330h1v1h-1zM192 330h2v1h-2zM196 330h2v1h-2zM200 330h1v1h-1zM206 330h1v1h-1zM218 330h1v1h-1zM332 330h1v1h-1zM335 330h1v1h-1zM351 330h3v1h-3zM359 330h1v1h-1zM111 331h1v1h-1zM127 331h3v1h-3zM144 331h1v1h-1zM163 331h1v1h-1zM167 331h1v1h-1zM175 331h1v1h-1zM178 331h1v1h-1zM195 331h1v1h-1zM207 331h1v1h-1zM211 331h1v1h-1zM217 331h2v1h-2zM222 331h2v1h-2zM306 331h2v1h-2zM310 331h1v1h-1zM319 331h2v1h-2zM322 331h3v1h-3zM327 331h1v1h-1zM339 331h1v1h-1zM341 331h1v1h-1zM345 331h3v1h-3zM360 331h3v1h-3zM375 331h2v1h-2zM378 331h1v1h-1zM387 331h1v1h-1zM119 332h1v1h-1zM131 332h1v1h-1zM137 332h1v1h-1zM142 332h1v1h-1zM145 332h1v1h-1zM153 332h1v1h-1zM158 332h1v1h-1zM167 332h2v1h-2zM186 332h1v1h-1zM200 332h3v1h-3zM211 332h3v1h-3zM218 332h1v1h-1zM318 332h1v1h-1zM335 332h3v1h-3zM340 332h1v1h-1zM351 332h3v1h-3zM357 332h2v1h-2zM365 332h1v1h-1zM368 332h1v1h-1zM374 332h1v1h-1zM402 332h1v1h-1zM126 333h3v1h-3zM152 333h1v1h-1zM165 333h1v1h-1zM167 333h2v1h-2zM187 333h1v1h-1zM198 333h2v1h-2zM201 333h1v1h-1zM209 333h2v1h-2zM217 333h1v1h-1zM222 333h1v1h-1zM224 333h1v1h-1zM229 333h1v1h-1zM305 333h3v1h-3zM317 333h1v1h-1zM339 333h1v1h-1zM341 333h1v1h-1zM345 333h2v1h-2zM358 333h1v1h-1zM377 333h1v1h-1zM416 333h1v1h-1zM131 334h1v1h-1zM143 334h2v1h-2zM157 334h3v1h-3zM171 334h1v1h-1zM179 334h1v1h-1zM185 334h2v1h-2zM190 334h2v1h-2zM197 334h3v1h-3zM220 334h1v1h-1zM222 334h1v1h-1zM230 334h1v1h-1zM328 334h1v1h-1zM338 334h1v1h-1zM349 334h1v1h-1zM351 334h2v1h-2zM355 334h3v1h-3zM376 334h1v1h-1zM378 334h1v1h-1zM123 335h1v1h-1zM129 335h2v1h-2zM167 335h1v1h-1zM175 335h3v1h-3zM180 335h2v1h-2zM191 335h1v1h-1zM193 335h1v1h-1zM196 335h2v1h-2zM206 335h1v1h-1zM210 335h1v1h-1zM230 335h1v1h-1zM306 335h3v1h-3zM315 335h1v1h-1zM324 335h1v1h-1zM329 335h2v1h-2zM353 335h1v1h-1zM357 335h1v1h-1zM364 335h2v1h-2zM378 335h2v1h-2zM394 335h3v1h-3zM404 335h1v1h-1zM407 335h1v1h-1zM415 335h1v1h-1zM134 336h1v1h-1zM152 336h3v1h-3zM158 336h1v1h-1zM161 336h2v1h-2zM174 336h1v1h-1zM176 336h2v1h-2zM209 336h2v1h-2zM224 336h1v1h-1zM227 336h1v1h-1zM315 336h2v1h-2zM318 336h1v1h-1zM329 336h1v1h-1zM335 336h2v1h-2zM340 336h1v1h-1zM343 336h1v1h-1zM347 336h2v1h-2zM350 336h1v1h-1zM357 336h1v1h-1zM380 336h1v1h-1zM389 336h2v1h-2zM417 336h2v1h-2zM111 337h2v1h-2zM123 337h1v1h-1zM131 337h1v1h-1zM161 337h1v1h-1zM175 337h1v1h-1zM192 337h2v1h-2zM314 337h2v1h-2zM319 337h1v1h-1zM325 337h2v1h-2zM328 337h1v1h-1zM337 337h3v1h-3zM349 337h1v1h-1zM352 337h1v1h-1zM355 337h1v1h-1zM363 337h1v1h-1zM368 337h2v1h-2zM378 337h2v1h-2zM400 337h1v1h-1zM406 337h1v1h-1zM118 338h1v1h-1zM127 338h2v1h-2zM132 338h2v1h-2zM136 338h1v1h-1zM153 338h1v1h-1zM164 338h1v1h-1zM169 338h1v1h-1zM171 338h1v1h-1zM178 338h2v1h-2zM181 338h2v1h-2zM200 338h1v1h-1zM205 338h1v1h-1zM216 338h1v1h-1zM220 338h2v1h-2zM225 338h2v1h-2zM230 338h3v1h-3zM317 338h1v1h-1zM324 338h2v1h-2zM360 338h1v1h-1zM366 338h1v1h-1zM382 338h2v1h-2zM388 338h1v1h-1zM392 338h1v1h-1zM137 339h1v1h-1zM140 339h1v1h-1zM149 339h2v1h-2zM172 339h2v1h-2zM179 339h1v1h-1zM189 339h2v1h-2zM205 339h2v1h-2zM208 339h1v1h-1zM212 339h1v1h-1zM311 339h1v1h-1zM316 339h1v1h-1zM320 339h1v1h-1zM356 339h1v1h-1zM363 339h1v1h-1zM388 339h1v1h-1zM390 339h1v1h-1zM134 340h1v1h-1zM142 340h1v1h-1zM153 340h1v1h-1zM164 340h1v1h-1zM166 340h1v1h-1zM191 340h1v1h-1zM194 340h1v1h-1zM199 340h1v1h-1zM208 340h1v1h-1zM215 340h1v1h-1zM222 340h3v1h-3zM226 340h2v1h-2zM311 340h1v1h-1zM313 340h2v1h-2zM324 340h1v1h-1zM326 340h1v1h-1zM333 340h3v1h-3zM346 340h1v1h-1zM356 340h1v1h-1zM358 340h2v1h-2zM367 340h1v1h-1zM390 340h2v1h-2zM146 341h1v1h-1zM156 341h3v1h-3zM170 341h1v1h-1zM182 341h1v1h-1zM191 341h1v1h-1zM196 341h1v1h-1zM219 341h3v1h-3zM224 341h1v1h-1zM228 341h1v1h-1zM309 341h3v1h-3zM319 341h2v1h-2zM327 341h1v1h-1zM329 341h3v1h-3zM342 341h2v1h-2zM347 341h2v1h-2zM350 341h1v1h-1zM352 341h1v1h-1zM359 341h1v1h-1zM368 341h1v1h-1zM384 341h1v1h-1zM393 341h1v1h-1zM118 342h1v1h-1zM134 342h1v1h-1zM138 342h1v1h-1zM144 342h3v1h-3zM151 342h2v1h-2zM154 342h3v1h-3zM158 342h1v1h-1zM160 342h1v1h-1zM179 342h1v1h-1zM181 342h2v1h-2zM193 342h1v1h-1zM204 342h1v1h-1zM223 342h2v1h-2zM317 342h2v1h-2zM327 342h3v1h-3zM343 342h1v1h-1zM390 342h1v1h-1zM399 342h1v1h-1zM129 343h1v1h-1zM147 343h1v1h-1zM153 343h1v1h-1zM158 343h1v1h-1zM167 343h2v1h-2zM196 343h1v1h-1zM198 343h1v1h-1zM206 343h1v1h-1zM218 343h1v1h-1zM220 343h3v1h-3zM227 343h1v1h-1zM323 343h1v1h-1zM329 343h1v1h-1zM336 343h1v1h-1zM342 343h2v1h-2zM358 343h3v1h-3zM363 343h3v1h-3zM392 343h1v1h-1zM129 344h3v1h-3zM166 344h2v1h-2zM189 344h1v1h-1zM208 344h1v1h-1zM228 344h2v1h-2zM340 344h3v1h-3zM348 344h1v1h-1zM350 344h2v1h-2zM356 344h2v1h-2zM364 344h1v1h-1zM401 344h3v1h-3zM132 345h1v1h-1zM161 345h2v1h-2zM187 345h1v1h-1zM198 345h1v1h-1zM200 345h1v1h-1zM208 345h1v1h-1zM321 345h1v1h-1zM330 345h1v1h-1zM336 345h1v1h-1zM339 345h2v1h-2zM353 345h1v1h-1zM359 345h1v1h-1zM366 345h2v1h-2zM392 345h1v1h-1zM404 345h3v1h-3zM414 345h1v1h-1zM139 346h1v1h-1zM142 346h2v1h-2zM149 346h1v1h-1zM162 346h3v1h-3zM166 346h1v1h-1zM184 346h1v1h-1zM214 346h2v1h-2zM218 346h1v1h-1zM310 346h1v1h-1zM327 346h1v1h-1zM335 346h3v1h-3zM340 346h2v1h-2zM347 346h1v1h-1zM349 346h3v1h-3zM353 346h1v1h-1zM357 346h3v1h-3zM370 346h3v1h-3zM393 346h2v1h-2zM414 346h1v1h-1zM138 347h2v1h-2zM147 347h1v1h-1zM152 347h1v1h-1zM154 347h2v1h-2zM167 347h1v1h-1zM189 347h2v1h-2zM207 347h1v1h-1zM214 347h1v1h-1zM217 347h2v1h-2zM222 347h1v1h-1zM226 347h1v1h-1zM311 347h1v1h-1zM322 347h1v1h-1zM325 347h3v1h-3zM331 347h3v1h-3zM335 347h1v1h-1zM337 347h3v1h-3zM351 347h3v1h-3zM359 347h3v1h-3zM364 347h1v1h-1zM366 347h1v1h-1zM390 347h3v1h-3zM401 347h1v1h-1zM420 347h1v1h-1zM128 348h1v1h-1zM134 348h3v1h-3zM148 348h1v1h-1zM188 348h1v1h-1zM198 348h2v1h-2zM213 348h2v1h-2zM318 348h1v1h-1zM349 348h1v1h-1zM353 348h2v1h-2zM365 348h2v1h-2zM391 348h1v1h-1zM404 348h2v1h-2zM131 349h3v1h-3zM140 349h1v1h-1zM143 349h1v1h-1zM149 349h1v1h-1zM151 349h1v1h-1zM175 349h1v1h-1zM184 349h1v1h-1zM199 349h2v1h-2zM203 349h3v1h-3zM209 349h1v1h-1zM213 349h1v1h-1zM217 349h2v1h-2zM313 349h2v1h-2zM319 349h3v1h-3zM327 349h1v1h-1zM338 349h1v1h-1zM348 349h1v1h-1zM362 349h1v1h-1zM387 349h1v1h-1zM118 350h2v1h-2zM140 350h2v1h-2zM150 350h1v1h-1zM158 350h3v1h-3zM163 350h3v1h-3zM182 350h3v1h-3zM195 350h1v1h-1zM204 350h3v1h-3zM311 350h1v1h-1zM317 350h2v1h-2zM322 350h1v1h-1zM329 350h2v1h-2zM350 350h1v1h-1zM361 350h1v1h-1zM375 350h1v1h-1zM399 350h3v1h-3zM404 350h1v1h-1zM414 350h1v1h-1zM115 351h1v1h-1zM126 351h1v1h-1zM142 351h1v1h-1zM151 351h1v1h-1zM163 351h1v1h-1zM168 351h3v1h-3zM177 351h1v1h-1zM184 351h1v1h-1zM187 351h1v1h-1zM189 351h2v1h-2zM219 351h1v1h-1zM222 351h1v1h-1zM330 351h2v1h-2zM344 351h1v1h-1zM355 351h2v1h-2zM361 351h1v1h-1zM366 351h1v1h-1zM389 351h1v1h-1zM406 351h2v1h-2zM415 351h1v1h-1zM129 352h1v1h-1zM135 352h1v1h-1zM137 352h2v1h-2zM142 352h1v1h-1zM145 352h1v1h-1zM151 352h1v1h-1zM156 352h2v1h-2zM162 352h1v1h-1zM168 352h2v1h-2zM183 352h1v1h-1zM191 352h1v1h-1zM214 352h2v1h-2zM224 352h1v1h-1zM336 352h2v1h-2zM352 352h1v1h-1zM354 352h1v1h-1zM357 352h1v1h-1zM387 352h1v1h-1zM152 353h2v1h-2zM173 353h1v1h-1zM175 353h3v1h-3zM199 353h2v1h-2zM208 353h2v1h-2zM323 353h3v1h-3zM327 353h1v1h-1zM332 353h2v1h-2zM338 353h1v1h-1zM347 353h1v1h-1zM363 353h3v1h-3zM377 353h1v1h-1zM395 353h1v1h-1zM131 354h2v1h-2zM135 354h1v1h-1zM167 354h1v1h-1zM171 354h2v1h-2zM194 354h1v1h-1zM205 354h3v1h-3zM317 354h2v1h-2zM325 354h1v1h-1zM327 354h1v1h-1zM331 354h1v1h-1zM338 354h1v1h-1zM340 354h1v1h-1zM348 354h1v1h-1zM351 354h1v1h-1zM406 354h1v1h-1zM124 355h1v1h-1zM128 355h2v1h-2zM135 355h1v1h-1zM170 355h2v1h-2zM181 355h2v1h-2zM185 355h2v1h-2zM202 355h2v1h-2zM208 355h1v1h-1zM211 355h1v1h-1zM216 355h2v1h-2zM219 355h1v1h-1zM349 355h1v1h-1zM356 355h1v1h-1zM360 355h2v1h-2zM363 355h1v1h-1zM365 355h1v1h-1zM374 355h1v1h-1zM379 355h1v1h-1zM382 355h1v1h-1zM399 355h1v1h-1zM150 356h1v1h-1zM155 356h1v1h-1zM158 356h2v1h-2zM161 356h1v1h-1zM174 356h1v1h-1zM205 356h1v1h-1zM210 356h2v1h-2zM213 356h1v1h-1zM322 356h1v1h-1zM326 356h1v1h-1zM334 356h1v1h-1zM357 356h2v1h-2zM361 356h1v1h-1zM377 356h1v1h-1zM392 356h1v1h-1zM124 357h1v1h-1zM129 357h1v1h-1zM145 357h1v1h-1zM152 357h1v1h-1zM160 357h2v1h-2zM166 357h1v1h-1zM172 357h2v1h-2zM177 357h3v1h-3zM181 357h1v1h-1zM184 357h1v1h-1zM215 357h1v1h-1zM217 357h1v1h-1zM313 357h1v1h-1zM328 357h2v1h-2zM335 357h1v1h-1zM341 357h1v1h-1zM344 357h2v1h-2zM351 357h1v1h-1zM363 357h2v1h-2zM366 357h3v1h-3zM376 357h3v1h-3zM413 357h2v1h-2zM117 358h2v1h-2zM143 358h2v1h-2zM155 358h1v1h-1zM157 358h1v1h-1zM160 358h1v1h-1zM165 358h3v1h-3zM196 358h1v1h-1zM211 358h1v1h-1zM224 358h1v1h-1zM321 358h1v1h-1zM353 358h1v1h-1zM359 358h3v1h-3zM367 358h2v1h-2zM379 358h1v1h-1zM391 358h1v1h-1zM404 358h1v1h-1zM407 358h1v1h-1zM138 359h1v1h-1zM141 359h1v1h-1zM157 359h1v1h-1zM159 359h2v1h-2zM164 359h1v1h-1zM166 359h1v1h-1zM169 359h1v1h-1zM173 359h1v1h-1zM183 359h2v1h-2zM191 359h3v1h-3zM215 359h2v1h-2zM322 359h1v1h-1zM324 359h3v1h-3zM329 359h1v1h-1zM333 359h1v1h-1zM370 359h2v1h-2zM390 359h1v1h-1zM143 360h3v1h-3zM162 360h1v1h-1zM168 360h1v1h-1zM191 360h1v1h-1zM193 360h1v1h-1zM219 360h1v1h-1zM316 360h1v1h-1zM321 360h1v1h-1zM326 360h2v1h-2zM333 360h1v1h-1zM346 360h1v1h-1zM350 360h1v1h-1zM352 360h3v1h-3zM357 360h2v1h-2zM360 360h3v1h-3zM364 360h1v1h-1zM380 360h3v1h-3zM386 360h1v1h-1zM401 360h3v1h-3zM123 361h2v1h-2zM137 361h1v1h-1zM157 361h1v1h-1zM177 361h1v1h-1zM181 361h1v1h-1zM189 361h1v1h-1zM199 361h1v1h-1zM218 361h3v1h-3zM319 361h2v1h-2zM324 361h1v1h-1zM326 361h1v1h-1zM332 361h3v1h-3zM336 361h1v1h-1zM345 361h1v1h-1zM350 361h3v1h-3zM357 361h1v1h-1zM368 361h2v1h-2zM379 361h1v1h-1zM382 361h1v1h-1zM395 361h1v1h-1zM416 361h3v1h-3zM126 362h2v1h-2zM135 362h1v1h-1zM143 362h3v1h-3zM148 362h1v1h-1zM159 362h1v1h-1zM162 362h1v1h-1zM164 362h2v1h-2zM175 362h1v1h-1zM184 362h1v1h-1zM195 362h1v1h-1zM221 362h1v1h-1zM224 362h1v1h-1zM320 362h3v1h-3zM328 362h2v1h-2zM340 362h2v1h-2zM355 362h1v1h-1zM362 362h1v1h-1zM365 362h2v1h-2zM394 362h1v1h-1zM123 363h1v1h-1zM127 363h3v1h-3zM139 363h1v1h-1zM148 363h1v1h-1zM152 363h1v1h-1zM172 363h1v1h-1zM182 363h1v1h-1zM189 363h1v1h-1zM209 363h2v1h-2zM223 363h1v1h-1zM318 363h2v1h-2zM321 363h1v1h-1zM333 363h1v1h-1zM336 363h1v1h-1zM341 363h1v1h-1zM356 363h1v1h-1zM365 363h1v1h-1zM370 363h1v1h-1zM395 363h1v1h-1zM406 363h2v1h-2zM418 363h1v1h-1zM123 364h2v1h-2zM141 364h1v1h-1zM145 364h1v1h-1zM150 364h3v1h-3zM169 364h2v1h-2zM173 364h2v1h-2zM177 364h1v1h-1zM183 364h1v1h-1zM209 364h1v1h-1zM214 364h1v1h-1zM217 364h1v1h-1zM322 364h1v1h-1zM330 364h2v1h-2zM334 364h1v1h-1zM342 364h3v1h-3zM355 364h1v1h-1zM360 364h1v1h-1zM389 364h1v1h-1zM128 365h1v1h-1zM145 365h1v1h-1zM168 365h1v1h-1zM173 365h3v1h-3zM180 365h1v1h-1zM194 365h2v1h-2zM201 365h3v1h-3zM317 365h2v1h-2zM322 365h1v1h-1zM352 365h1v1h-1zM357 365h1v1h-1zM366 365h1v1h-1zM369 365h1v1h-1zM377 365h3v1h-3zM412 365h1v1h-1zM131 366h1v1h-1zM168 366h1v1h-1zM171 366h1v1h-1zM173 366h1v1h-1zM177 366h3v1h-3zM182 366h1v1h-1zM189 366h1v1h-1zM192 366h1v1h-1zM194 366h2v1h-2zM200 366h1v1h-1zM219 366h2v1h-2zM318 366h2v1h-2zM338 366h2v1h-2zM349 366h1v1h-1zM357 366h1v1h-1zM401 366h1v1h-1zM144 367h1v1h-1zM146 367h1v1h-1zM167 367h1v1h-1zM170 367h2v1h-2zM182 367h1v1h-1zM191 367h1v1h-1zM203 367h2v1h-2zM210 367h1v1h-1zM219 367h3v1h-3zM321 367h1v1h-1zM346 367h1v1h-1zM348 367h2v1h-2zM351 367h3v1h-3zM364 367h2v1h-2zM369 367h1v1h-1zM382 367h1v1h-1zM387 367h1v1h-1zM399 367h2v1h-2zM405 367h1v1h-1zM123 368h1v1h-1zM131 368h2v1h-2zM137 368h1v1h-1zM144 368h1v1h-1zM146 368h1v1h-1zM154 368h1v1h-1zM156 368h1v1h-1zM173 368h1v1h-1zM177 368h1v1h-1zM179 368h1v1h-1zM212 368h1v1h-1zM215 368h2v1h-2zM321 368h1v1h-1zM328 368h2v1h-2zM334 368h1v1h-1zM339 368h1v1h-1zM351 368h1v1h-1zM357 368h2v1h-2zM376 368h2v1h-2zM392 368h2v1h-2zM131 369h1v1h-1zM138 369h2v1h-2zM158 369h3v1h-3zM164 369h1v1h-1zM178 369h2v1h-2zM184 369h2v1h-2zM190 369h1v1h-1zM196 369h1v1h-1zM213 369h3v1h-3zM315 369h3v1h-3zM340 369h2v1h-2zM355 369h1v1h-1zM361 369h1v1h-1zM376 369h3v1h-3zM407 369h1v1h-1zM130 370h2v1h-2zM139 370h1v1h-1zM144 370h2v1h-2zM147 370h1v1h-1zM175 370h1v1h-1zM184 370h1v1h-1zM191 370h2v1h-2zM216 370h1v1h-1zM221 370h1v1h-1zM317 370h2v1h-2zM332 370h3v1h-3zM337 370h1v1h-1zM343 370h3v1h-3zM353 370h3v1h-3zM357 370h1v1h-1zM401 370h1v1h-1zM403 370h1v1h-1zM124 371h3v1h-3zM137 371h1v1h-1zM142 371h1v1h-1zM145 371h2v1h-2zM154 371h1v1h-1zM165 371h1v1h-1zM186 371h1v1h-1zM189 371h1v1h-1zM191 371h1v1h-1zM197 371h1v1h-1zM207 371h2v1h-2zM215 371h1v1h-1zM328 371h2v1h-2zM336 371h2v1h-2zM353 371h1v1h-1zM378 371h1v1h-1zM415 371h1v1h-1zM135 372h2v1h-2zM138 372h1v1h-1zM142 372h2v1h-2zM150 372h2v1h-2zM154 372h1v1h-1zM163 372h1v1h-1zM180 372h1v1h-1zM195 372h1v1h-1zM201 372h1v1h-1zM324 372h1v1h-1zM338 372h1v1h-1zM343 372h1v1h-1zM360 372h2v1h-2zM365 372h3v1h-3zM375 372h1v1h-1zM390 372h1v1h-1zM413 372h1v1h-1zM127 373h2v1h-2zM132 373h1v1h-1zM138 373h1v1h-1zM140 373h1v1h-1zM145 373h1v1h-1zM153 373h1v1h-1zM155 373h3v1h-3zM161 373h1v1h-1zM171 373h2v1h-2zM175 373h1v1h-1zM177 373h1v1h-1zM185 373h3v1h-3zM194 373h1v1h-1zM203 373h1v1h-1zM210 373h1v1h-1zM214 373h1v1h-1zM222 373h2v1h-2zM316 373h1v1h-1zM355 373h1v1h-1zM376 373h2v1h-2zM379 373h1v1h-1zM387 373h2v1h-2zM393 373h1v1h-1zM403 373h1v1h-1zM406 373h1v1h-1zM413 373h1v1h-1zM125 374h1v1h-1zM142 374h1v1h-1zM158 374h1v1h-1zM191 374h3v1h-3zM201 374h2v1h-2zM212 374h1v1h-1zM215 374h2v1h-2zM223 374h1v1h-1zM327 374h1v1h-1zM335 374h1v1h-1zM338 374h2v1h-2zM353 374h3v1h-3zM390 374h1v1h-1zM394 374h2v1h-2zM407 374h1v1h-1zM161 375h2v1h-2zM165 375h1v1h-1zM195 375h1v1h-1zM205 375h2v1h-2zM212 375h2v1h-2zM215 375h1v1h-1zM217 375h2v1h-2zM320 375h1v1h-1zM328 375h2v1h-2zM347 375h1v1h-1zM353 375h1v1h-1zM357 375h1v1h-1zM360 375h1v1h-1zM367 375h3v1h-3zM403 375h3v1h-3zM129 376h2v1h-2zM132 376h1v1h-1zM162 376h2v1h-2zM178 376h1v1h-1zM180 376h1v1h-1zM182 376h1v1h-1zM190 376h1v1h-1zM196 376h1v1h-1zM204 376h3v1h-3zM213 376h1v1h-1zM326 376h1v1h-1zM343 376h2v1h-2zM347 376h1v1h-1zM358 376h1v1h-1zM363 376h2v1h-2zM381 376h1v1h-1zM403 376h1v1h-1zM134 377h1v1h-1zM142 377h2v1h-2zM160 377h3v1h-3zM170 377h1v1h-1zM172 377h2v1h-2zM180 377h1v1h-1zM192 377h1v1h-1zM208 377h1v1h-1zM217 377h1v1h-1zM325 377h1v1h-1zM344 377h1v1h-1zM346 377h1v1h-1zM354 377h2v1h-2zM377 377h1v1h-1zM388 377h1v1h-1zM406 377h1v1h-1zM130 378h1v1h-1zM137 378h1v1h-1zM144 378h1v1h-1zM157 378h1v1h-1zM175 378h1v1h-1zM179 378h1v1h-1zM185 378h1v1h-1zM187 378h3v1h-3zM194 378h1v1h-1zM204 378h1v1h-1zM208 378h2v1h-2zM316 378h1v1h-1zM335 378h2v1h-2zM340 378h3v1h-3zM346 378h1v1h-1zM356 378h2v1h-2zM363 378h2v1h-2zM377 378h1v1h-1zM381 378h1v1h-1zM393 378h2v1h-2zM127 379h1v1h-1zM143 379h2v1h-2zM162 379h3v1h-3zM166 379h2v1h-2zM173 379h1v1h-1zM176 379h1v1h-1zM187 379h1v1h-1zM191 379h1v1h-1zM211 379h2v1h-2zM320 379h1v1h-1zM326 379h1v1h-1zM341 379h2v1h-2zM350 379h2v1h-2zM379 379h2v1h-2zM145 380h1v1h-1zM157 380h1v1h-1zM165 380h2v1h-2zM173 380h1v1h-1zM179 380h3v1h-3zM191 380h2v1h-2zM201 380h3v1h-3zM205 380h1v1h-1zM317 380h1v1h-1zM322 380h1v1h-1zM347 380h1v1h-1zM349 380h1v1h-1zM357 380h1v1h-1zM362 380h1v1h-1zM364 380h1v1h-1zM366 380h1v1h-1zM401 380h1v1h-1zM404 380h2v1h-2zM414 380h1v1h-1zM147 381h1v1h-1zM152 381h1v1h-1zM158 381h1v1h-1zM168 381h1v1h-1zM218 381h2v1h-2zM327 381h1v1h-1zM338 381h2v1h-2zM348 381h2v1h-2zM352 381h2v1h-2zM375 381h1v1h-1zM389 381h1v1h-1zM402 381h1v1h-1zM156 382h1v1h-1zM168 382h1v1h-1zM176 382h1v1h-1zM178 382h1v1h-1zM191 382h2v1h-2zM215 382h1v1h-1zM316 382h1v1h-1zM323 382h1v1h-1zM327 382h2v1h-2zM345 382h2v1h-2zM350 382h2v1h-2zM354 382h2v1h-2zM360 382h2v1h-2zM363 382h1v1h-1zM388 382h1v1h-1zM391 382h3v1h-3zM395 382h2v1h-2zM124 383h1v1h-1zM140 383h2v1h-2zM144 383h3v1h-3zM158 383h3v1h-3zM197 383h2v1h-2zM216 383h1v1h-1zM322 383h2v1h-2zM339 383h2v1h-2zM356 383h1v1h-1zM363 383h1v1h-1zM390 383h1v1h-1zM402 383h2v1h-2zM132 384h3v1h-3zM142 384h1v1h-1zM145 384h2v1h-2zM150 384h1v1h-1zM154 384h2v1h-2zM157 384h1v1h-1zM160 384h1v1h-1zM166 384h1v1h-1zM175 384h1v1h-1zM179 384h2v1h-2zM202 384h2v1h-2zM212 384h1v1h-1zM316 384h2v1h-2zM328 384h1v1h-1zM347 384h1v1h-1zM349 384h1v1h-1zM357 384h3v1h-3zM361 384h1v1h-1zM126 385h1v1h-1zM137 385h2v1h-2zM155 385h1v1h-1zM158 385h1v1h-1zM160 385h1v1h-1zM163 385h2v1h-2zM184 385h1v1h-1zM186 385h1v1h-1zM211 385h1v1h-1zM214 385h1v1h-1zM322 385h1v1h-1zM325 385h1v1h-1zM336 385h1v1h-1zM340 385h2v1h-2zM344 385h3v1h-3zM349 385h1v1h-1zM358 385h2v1h-2zM361 385h1v1h-1zM365 385h1v1h-1zM377 385h3v1h-3zM387 385h1v1h-1zM392 385h1v1h-1zM129 386h1v1h-1zM132 386h1v1h-1zM147 386h1v1h-1zM169 386h2v1h-2zM182 386h2v1h-2zM196 386h1v1h-1zM203 386h1v1h-1zM215 386h1v1h-1zM320 386h1v1h-1zM324 386h1v1h-1zM333 386h2v1h-2zM336 386h2v1h-2zM340 386h3v1h-3zM350 386h1v1h-1zM359 386h2v1h-2zM362 386h1v1h-1zM373 386h2v1h-2zM393 386h1v1h-1zM414 386h1v1h-1zM151 387h1v1h-1zM155 387h3v1h-3zM166 387h3v1h-3zM180 387h1v1h-1zM203 387h1v1h-1zM208 387h2v1h-2zM316 387h1v1h-1zM322 387h1v1h-1zM336 387h1v1h-1zM342 387h3v1h-3zM349 387h1v1h-1zM359 387h1v1h-1zM362 387h2v1h-2zM367 387h1v1h-1zM378 387h3v1h-3zM391 387h1v1h-1zM127 388h2v1h-2zM136 388h1v1h-1zM151 388h1v1h-1zM159 388h2v1h-2zM170 388h1v1h-1zM172 388h2v1h-2zM187 388h1v1h-1zM210 388h1v1h-1zM216 388h1v1h-1zM218 388h1v1h-1zM222 388h1v1h-1zM327 388h1v1h-1zM336 388h1v1h-1zM338 388h1v1h-1zM367 388h1v1h-1zM403 388h2v1h-2zM407 388h3v1h-3zM413 388h2v1h-2zM128 389h1v1h-1zM133 389h1v1h-1zM139 389h1v1h-1zM149 389h1v1h-1zM158 389h2v1h-2zM175 389h1v1h-1zM178 389h2v1h-2zM190 389h1v1h-1zM193 389h1v1h-1zM208 389h1v1h-1zM213 389h2v1h-2zM220 389h1v1h-1zM318 389h2v1h-2zM334 389h2v1h-2zM341 389h1v1h-1zM136 390h1v1h-1zM146 390h3v1h-3zM153 390h1v1h-1zM156 390h1v1h-1zM174 390h1v1h-1zM177 390h1v1h-1zM181 390h1v1h-1zM184 390h1v1h-1zM208 390h1v1h-1zM212 390h1v1h-1zM217 390h1v1h-1zM318 390h1v1h-1zM323 390h1v1h-1zM341 390h1v1h-1zM348 390h2v1h-2zM134 391h3v1h-3zM153 391h1v1h-1zM164 391h1v1h-1zM169 391h1v1h-1zM183 391h1v1h-1zM200 391h3v1h-3zM205 391h1v1h-1zM333 391h3v1h-3zM338 391h1v1h-1zM355 391h1v1h-1zM405 391h1v1h-1z" fill="#fff" shape-rendering="crispEdges"/><text x="139.6" y="26.5" font-size="15.4" textLength="340.4" lengthAdjust="spacingAndGlyphs">BackScatter: Gridded data (1km x 4m) (pcolor plot)</text><text x="103.6" y="240.3" font-size="15.4" textLength="411.7" lengthAdjust="spacingAndGlyphs">BackScatter: Full data set (scatter plot, every 10th point used)</text><text x="263.5" y="435.2" font-size="14.7" textLength="91.2" lengthAdjust="spacingAndGlyphs">Distance, (km)</text><text transform="translate(45,146) rotate(-90)" font-size="14.4" textLength="62.7" lengthAdjust="spacingAndGlyphs">Depth,(m)</text><text transform="translate(45,359) rotate(-90)" font-size="14.4" textLength="62.7" lengthAdjust="spacingAndGlyphs">Depth,(m)</text><text x="77.5" y="204.6" font-size="14" text-anchor="middle">0</text><text x="77.5" y="418.3" font-size="14" text-anchor="middle">0</text><text x="133.5" y="204.6" font-size="14" text-anchor="middle">50</text><text x="133.5" y="418.3" font-size="14" text-anchor="middle">50</text><text x="188.5" y="204.6" font-size="14" text-anchor="middle">100</text><text x="188.5" y="418.3" font-size="14" text-anchor="middle">100</text><text x="243.5" y="204.6" font-size="14" text-anchor="middle">150</text><text x="243.5" y="418.3" font-size="14" text-anchor="middle">150</text><text x="298.5" y="204.6" font-size="14" text-anchor="middle">200</text><text x="298.5" y="418.3" font-size="14" text-anchor="middle">200</text><text x="354.5" y="204.6" font-size="14" text-anchor="middle">250</text><text x="354.5" y="418.3" font-size="14" text-anchor="middle">250</text><text x="409.5" y="204.6" font-size="14" text-anchor="middle">300</text><text x="409.5" y="418.3" font-size="14" text-anchor="middle">300</text><text x="464.5" y="204.6" font-size="14" text-anchor="middle">350</text><text x="464.5" y="418.3" font-size="14" text-anchor="middle">350</text><text x="519.5" y="204.6" font-size="14" text-anchor="middle">400</text><text x="519.5" y="418.3" font-size="14" text-anchor="middle">400</text><text x="74" y="42.7" font-size="14" text-anchor="end">0</text><text x="74" y="79.7" font-size="14" text-anchor="end">50</text><text x="74" y="116.7" font-size="14" text-anchor="end">100</text><text x="74" y="153.7" font-size="14" text-anchor="end">150</text><text x="74" y="190.7" font-size="14" text-anchor="end">200</text><text x="74" y="256.7" font-size="14" text-anchor="end">0</text><text x="74" y="293.7" font-size="14" text-anchor="end">50</text><text x="74" y="329.7" font-size="14" text-anchor="end">100</text><text x="74" y="366.7" font-size="14" text-anchor="end">150</text><text x="74" y="403.7" font-size="14" text-anchor="end">200</text></svg>
</div></body></html>
